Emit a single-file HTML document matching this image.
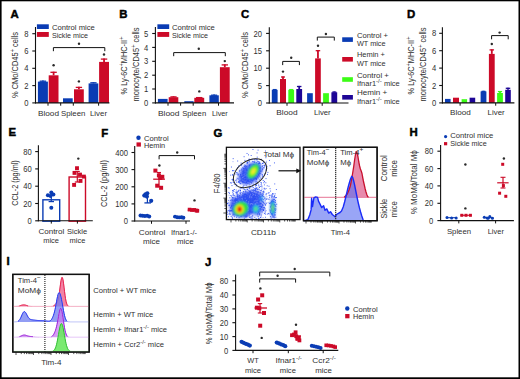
<!DOCTYPE html>
<html><head><meta charset="utf-8"><style>
html,body{margin:0;padding:0;background:#fff;}
body{width:520px;height:379px;overflow:hidden;}
svg{display:block;font-family:"Liberation Sans", sans-serif;}
</style></head><body>
<svg width="520" height="379" viewBox="0 0 520 379">
<rect x="0" y="0" width="520" height="379" fill="#fff"/>
<g fill="#303030">
<text x="10.60" y="17.80" font-size="11.4" font-weight="bold" fill="#000" stroke="#000" stroke-width="0.45">A</text>
<line x1="35.50" y1="27.00" x2="35.50" y2="103.40" stroke="#111" stroke-width="1.1"/>
<line x1="32.30" y1="102.90" x2="35.50" y2="102.90" stroke="#111" stroke-width="1.1"/>
<text x="28.40" y="106.00" font-size="8.8" text-anchor="end" textLength="4.25" lengthAdjust="spacingAndGlyphs">0</text>
<line x1="32.30" y1="85.60" x2="35.50" y2="85.60" stroke="#111" stroke-width="1.1"/>
<text x="28.40" y="88.70" font-size="8.8" text-anchor="end" textLength="4.25" lengthAdjust="spacingAndGlyphs">2</text>
<line x1="32.30" y1="68.30" x2="35.50" y2="68.30" stroke="#111" stroke-width="1.1"/>
<text x="28.40" y="71.40" font-size="8.8" text-anchor="end" textLength="4.25" lengthAdjust="spacingAndGlyphs">4</text>
<line x1="32.30" y1="51.00" x2="35.50" y2="51.00" stroke="#111" stroke-width="1.1"/>
<text x="28.40" y="54.10" font-size="8.8" text-anchor="end" textLength="4.25" lengthAdjust="spacingAndGlyphs">6</text>
<line x1="32.30" y1="33.70" x2="35.50" y2="33.70" stroke="#111" stroke-width="1.1"/>
<text x="28.40" y="36.80" font-size="8.8" text-anchor="end" textLength="4.25" lengthAdjust="spacingAndGlyphs">8</text>
<text transform="translate(18.30,65.00) rotate(-90)" x="0" y="0" font-size="8.7" text-anchor="middle" textLength="66.20" lengthAdjust="spacingAndGlyphs">% CMo/CD45<tspan font-size="6.6" dy="-2.9">+</tspan><tspan dy="2.9"> cells</tspan></text>
<rect x="36.90" y="24.30" width="11.90" height="4.70" fill="#0a3cb4"/>
<rect x="36.90" y="32.00" width="11.90" height="4.90" fill="#cc0a28"/>
<text x="51.90" y="29.90" font-size="7.9" textLength="42.90" lengthAdjust="spacingAndGlyphs">Control mice</text>
<text x="51.90" y="37.90" font-size="7.9" textLength="36.20" lengthAdjust="spacingAndGlyphs">Sickle mice</text>
<line x1="42.90" y1="81.60" x2="42.90" y2="80.60" stroke="#0a3cb4" stroke-width="1.8"/>
<line x1="39.65" y1="81.20" x2="46.15" y2="81.20" stroke="#0a3cb4" stroke-width="1.3"/>
<rect x="37.90" y="81.60" width="10.00" height="21.30" fill="#0a3cb4"/>
<line x1="53.60" y1="75.30" x2="53.60" y2="71.70" stroke="#cc0a28" stroke-width="1.8"/>
<line x1="50.41" y1="72.30" x2="56.79" y2="72.30" stroke="#cc0a28" stroke-width="1.3"/>
<rect x="48.70" y="75.30" width="9.80" height="27.60" fill="#cc0a28"/>
<circle cx="53.60" cy="65.20" r="1.2" fill="#2a2a2a"/>
<rect x="63.00" y="98.30" width="9.70" height="4.60" fill="#0a3cb4"/>
<line x1="78.90" y1="89.30" x2="78.90" y2="86.80" stroke="#cc0a28" stroke-width="1.8"/>
<line x1="75.72" y1="87.40" x2="82.09" y2="87.40" stroke="#cc0a28" stroke-width="1.3"/>
<rect x="74.00" y="89.30" width="9.80" height="13.60" fill="#cc0a28"/>
<circle cx="78.90" cy="81.40" r="1.2" fill="#2a2a2a"/>
<line x1="93.45" y1="83.40" x2="93.45" y2="82.20" stroke="#0a3cb4" stroke-width="1.8"/>
<line x1="90.30" y1="82.80" x2="96.60" y2="82.80" stroke="#0a3cb4" stroke-width="1.3"/>
<rect x="88.60" y="83.40" width="9.70" height="19.50" fill="#0a3cb4"/>
<line x1="104.05" y1="61.90" x2="104.05" y2="58.50" stroke="#cc0a28" stroke-width="1.8"/>
<line x1="100.83" y1="59.10" x2="107.27" y2="59.10" stroke="#cc0a28" stroke-width="1.3"/>
<rect x="99.10" y="61.90" width="9.90" height="41.00" fill="#cc0a28"/>
<circle cx="104.00" cy="54.50" r="1.2" fill="#2a2a2a"/>
<path d="M53.40,51.20 L53.40,47.60 L104.80,47.60 L104.80,51.20" fill="none" stroke="#111" stroke-width="1.0"/>
<circle cx="79.00" cy="43.80" r="1.2" fill="#2a2a2a"/>
<line x1="35.00" y1="102.90" x2="109.40" y2="102.90" stroke="#111" stroke-width="1.1"/>
<line x1="48.00" y1="102.90" x2="48.00" y2="105.70" stroke="#111" stroke-width="1.0"/>
<line x1="60.70" y1="102.90" x2="60.70" y2="105.70" stroke="#111" stroke-width="1.0"/>
<line x1="73.30" y1="102.90" x2="73.30" y2="105.70" stroke="#111" stroke-width="1.0"/>
<line x1="98.60" y1="102.90" x2="98.60" y2="105.70" stroke="#111" stroke-width="1.0"/>
<text x="37.90" y="115.80" font-size="7.9" textLength="21.10" lengthAdjust="spacingAndGlyphs">Blood</text>
<text x="61.00" y="115.80" font-size="7.9" textLength="24.40" lengthAdjust="spacingAndGlyphs">Spleen</text>
<text x="90.00" y="115.80" font-size="7.9" textLength="17.00" lengthAdjust="spacingAndGlyphs">Liver</text>
<text x="119.30" y="17.80" font-size="11.4" font-weight="bold" fill="#000" stroke="#000" stroke-width="0.45">B</text>
<line x1="155.40" y1="27.00" x2="155.40" y2="103.40" stroke="#111" stroke-width="1.1"/>
<line x1="152.20" y1="102.90" x2="155.40" y2="102.90" stroke="#111" stroke-width="1.1"/>
<text x="148.30" y="106.00" font-size="8.8" text-anchor="end" textLength="4.25" lengthAdjust="spacingAndGlyphs">0</text>
<line x1="152.20" y1="89.00" x2="155.40" y2="89.00" stroke="#111" stroke-width="1.1"/>
<text x="148.30" y="92.10" font-size="8.8" text-anchor="end" textLength="4.25" lengthAdjust="spacingAndGlyphs">1</text>
<line x1="152.20" y1="75.20" x2="155.40" y2="75.20" stroke="#111" stroke-width="1.1"/>
<text x="148.30" y="78.30" font-size="8.8" text-anchor="end" textLength="4.25" lengthAdjust="spacingAndGlyphs">2</text>
<line x1="152.20" y1="61.30" x2="155.40" y2="61.30" stroke="#111" stroke-width="1.1"/>
<text x="148.30" y="64.40" font-size="8.8" text-anchor="end" textLength="4.25" lengthAdjust="spacingAndGlyphs">3</text>
<line x1="152.20" y1="47.40" x2="155.40" y2="47.40" stroke="#111" stroke-width="1.1"/>
<text x="148.30" y="50.50" font-size="8.8" text-anchor="end" textLength="4.25" lengthAdjust="spacingAndGlyphs">4</text>
<line x1="152.20" y1="33.50" x2="155.40" y2="33.50" stroke="#111" stroke-width="1.1"/>
<text x="148.30" y="36.60" font-size="8.8" text-anchor="end" textLength="4.25" lengthAdjust="spacingAndGlyphs">5</text>
<text transform="translate(126.60,65.50) rotate(-90)" x="0" y="0" font-size="8.7" text-anchor="middle" textLength="57.80" lengthAdjust="spacingAndGlyphs">% Ly-6C<tspan font-size="6.6" dy="-2.9">+</tspan><tspan dy="2.9">MHC-II</tspan><tspan font-size="6.6" dy="-2.9">+</tspan></text>
<text transform="translate(138.50,64.50) rotate(-90)" x="0" y="0" font-size="8.7" text-anchor="middle" textLength="74.00" lengthAdjust="spacingAndGlyphs">monocyte/CD45<tspan font-size="6.6" dy="-2.9">+</tspan><tspan dy="2.9"> cells</tspan></text>
<rect x="157.40" y="24.30" width="11.80" height="4.70" fill="#0a3cb4"/>
<rect x="157.40" y="32.00" width="11.80" height="4.90" fill="#cc0a28"/>
<text x="171.90" y="29.90" font-size="7.9" textLength="42.90" lengthAdjust="spacingAndGlyphs">Control mice</text>
<text x="171.90" y="37.90" font-size="7.9" textLength="36.20" lengthAdjust="spacingAndGlyphs">Sickle mice</text>
<rect x="157.90" y="98.90" width="9.70" height="4.00" fill="#0a3cb4"/>
<line x1="173.50" y1="97.20" x2="173.50" y2="96.30" stroke="#cc0a28" stroke-width="1.8"/>
<line x1="170.38" y1="96.90" x2="176.62" y2="96.90" stroke="#cc0a28" stroke-width="1.3"/>
<rect x="168.70" y="97.20" width="9.60" height="5.70" fill="#cc0a28"/>
<rect x="184.30" y="101.20" width="9.30" height="1.70" fill="#0a3cb4"/>
<line x1="199.25" y1="97.80" x2="199.25" y2="97.00" stroke="#cc0a28" stroke-width="1.8"/>
<line x1="196.03" y1="97.60" x2="202.47" y2="97.60" stroke="#cc0a28" stroke-width="1.3"/>
<rect x="194.30" y="97.80" width="9.90" height="5.10" fill="#cc0a28"/>
<circle cx="199.30" cy="91.40" r="1.2" fill="#2a2a2a"/>
<line x1="214.10" y1="95.30" x2="214.10" y2="94.60" stroke="#0a3cb4" stroke-width="1.8"/>
<line x1="211.05" y1="95.20" x2="217.16" y2="95.20" stroke="#0a3cb4" stroke-width="1.3"/>
<rect x="209.40" y="95.30" width="9.40" height="7.60" fill="#0a3cb4"/>
<line x1="224.80" y1="67.20" x2="224.80" y2="64.30" stroke="#cc0a28" stroke-width="1.8"/>
<line x1="221.62" y1="64.90" x2="227.99" y2="64.90" stroke="#cc0a28" stroke-width="1.3"/>
<rect x="219.90" y="67.20" width="9.80" height="35.70" fill="#cc0a28"/>
<circle cx="224.80" cy="61.10" r="1.2" fill="#2a2a2a"/>
<path d="M173.70,56.20 L173.70,52.60 L225.30,52.60 L225.30,56.20" fill="none" stroke="#111" stroke-width="1.0"/>
<circle cx="198.80" cy="48.70" r="1.2" fill="#2a2a2a"/>
<line x1="155.00" y1="102.90" x2="234.00" y2="102.90" stroke="#111" stroke-width="1.1"/>
<line x1="168.00" y1="102.90" x2="168.00" y2="105.70" stroke="#111" stroke-width="1.0"/>
<line x1="180.60" y1="102.90" x2="180.60" y2="105.70" stroke="#111" stroke-width="1.0"/>
<line x1="193.20" y1="102.90" x2="193.20" y2="105.70" stroke="#111" stroke-width="1.0"/>
<line x1="218.50" y1="102.90" x2="218.50" y2="105.70" stroke="#111" stroke-width="1.0"/>
<text x="157.90" y="115.80" font-size="7.9" textLength="21.60" lengthAdjust="spacingAndGlyphs">Blood</text>
<text x="182.20" y="115.80" font-size="7.9" textLength="24.00" lengthAdjust="spacingAndGlyphs">Spleen</text>
<text x="212.00" y="115.80" font-size="7.9" textLength="15.80" lengthAdjust="spacingAndGlyphs">Liver</text>
<text x="240.90" y="18.00" font-size="11.4" font-weight="bold" fill="#000" stroke="#000" stroke-width="0.45">C</text>
<line x1="269.30" y1="27.30" x2="269.30" y2="103.50" stroke="#111" stroke-width="1.1"/>
<line x1="266.10" y1="103.00" x2="269.30" y2="103.00" stroke="#111" stroke-width="1.1"/>
<text x="262.00" y="106.10" font-size="8.8" text-anchor="end" textLength="4.25" lengthAdjust="spacingAndGlyphs">0</text>
<line x1="266.10" y1="85.60" x2="269.30" y2="85.60" stroke="#111" stroke-width="1.1"/>
<text x="262.00" y="88.70" font-size="8.8" text-anchor="end" textLength="4.25" lengthAdjust="spacingAndGlyphs">5</text>
<line x1="266.10" y1="68.20" x2="269.30" y2="68.20" stroke="#111" stroke-width="1.1"/>
<text x="262.00" y="71.30" font-size="8.8" text-anchor="end" textLength="8.50" lengthAdjust="spacingAndGlyphs">10</text>
<line x1="266.10" y1="50.80" x2="269.30" y2="50.80" stroke="#111" stroke-width="1.1"/>
<text x="262.00" y="53.90" font-size="8.8" text-anchor="end" textLength="8.50" lengthAdjust="spacingAndGlyphs">15</text>
<line x1="266.10" y1="33.40" x2="269.30" y2="33.40" stroke="#111" stroke-width="1.1"/>
<text x="262.00" y="36.50" font-size="8.8" text-anchor="end" textLength="8.50" lengthAdjust="spacingAndGlyphs">20</text>
<text transform="translate(248.10,65.00) rotate(-90)" x="0" y="0" font-size="8.7" text-anchor="middle" textLength="66.20" lengthAdjust="spacingAndGlyphs">% CMo/CD45<tspan font-size="6.6" dy="-2.9">+</tspan><tspan dy="2.9"> cells</tspan></text>
<line x1="274.70" y1="89.80" x2="274.70" y2="89.00" stroke="#0a3cb4" stroke-width="1.8"/>
<line x1="272.70" y1="89.60" x2="276.70" y2="89.60" stroke="#0a3cb4" stroke-width="1.3"/>
<rect x="271.80" y="89.80" width="5.80" height="13.20" fill="#0a3cb4"/>
<line x1="283.00" y1="79.00" x2="283.00" y2="76.40" stroke="#cc0a28" stroke-width="1.8"/>
<line x1="281.00" y1="77.00" x2="285.00" y2="77.00" stroke="#cc0a28" stroke-width="1.3"/>
<rect x="280.00" y="79.00" width="6.00" height="24.00" fill="#cc0a28"/>
<circle cx="283.00" cy="71.60" r="1.2" fill="#2a2a2a"/>
<line x1="291.20" y1="89.80" x2="291.20" y2="89.00" stroke="#3cfc16" stroke-width="1.8"/>
<line x1="289.20" y1="89.60" x2="293.20" y2="89.60" stroke="#3cfc16" stroke-width="1.3"/>
<rect x="288.30" y="89.80" width="5.80" height="13.20" fill="#3cfc16"/>
<line x1="299.20" y1="89.00" x2="299.20" y2="85.90" stroke="#1e0696" stroke-width="1.8"/>
<line x1="296.95" y1="86.50" x2="301.45" y2="86.50" stroke="#1e0696" stroke-width="1.3"/>
<rect x="296.30" y="89.00" width="5.80" height="14.00" fill="#1e0696"/>
<path d="M282.70,65.10 L282.70,61.40 L299.40,61.40 L299.40,65.10" fill="none" stroke="#111" stroke-width="1.0"/>
<circle cx="291.20" cy="57.70" r="1.2" fill="#2a2a2a"/>
<rect x="307.10" y="93.20" width="5.70" height="9.80" fill="#0a3cb4"/>
<line x1="317.95" y1="58.40" x2="317.95" y2="50.10" stroke="#cc0a28" stroke-width="1.8"/>
<line x1="315.70" y1="50.70" x2="320.20" y2="50.70" stroke="#cc0a28" stroke-width="1.3"/>
<rect x="315.10" y="58.40" width="5.70" height="44.60" fill="#cc0a28"/>
<circle cx="318.00" cy="45.80" r="1.2" fill="#2a2a2a"/>
<rect x="323.10" y="93.20" width="5.80" height="9.80" fill="#3cfc16"/>
<line x1="334.30" y1="92.30" x2="334.30" y2="91.50" stroke="#1e0696" stroke-width="1.8"/>
<line x1="332.30" y1="92.10" x2="336.30" y2="92.10" stroke="#1e0696" stroke-width="1.3"/>
<rect x="331.40" y="92.30" width="5.80" height="10.70" fill="#1e0696"/>
<path d="M317.30,40.60 L317.30,37.10 L334.30,37.10 L334.30,40.60" fill="none" stroke="#111" stroke-width="1.0"/>
<circle cx="325.90" cy="34.00" r="1.2" fill="#2a2a2a"/>
<line x1="268.80" y1="103.00" x2="348.50" y2="103.00" stroke="#111" stroke-width="1.1"/>
<line x1="287.00" y1="103.00" x2="287.00" y2="105.80" stroke="#111" stroke-width="1.0"/>
<line x1="322.20" y1="103.00" x2="322.20" y2="105.80" stroke="#111" stroke-width="1.0"/>
<text x="276.30" y="115.40" font-size="7.9" textLength="21.30" lengthAdjust="spacingAndGlyphs">Blood</text>
<text x="313.90" y="115.40" font-size="7.9" textLength="16.80" lengthAdjust="spacingAndGlyphs">Liver</text>
<rect x="342.20" y="37.30" width="10.70" height="4.60" fill="#0a3cb4"/>
<rect x="342.20" y="57.00" width="10.70" height="4.60" fill="#cc0a28"/>
<rect x="342.20" y="77.20" width="10.70" height="4.60" fill="#3cfc16"/>
<rect x="342.20" y="95.00" width="10.70" height="4.60" fill="#1e0696"/>
<text x="356.90" y="37.80" font-size="7.4" textLength="31.20" lengthAdjust="spacingAndGlyphs">Control +</text>
<text x="356.90" y="45.90" font-size="7.4" textLength="28.70" lengthAdjust="spacingAndGlyphs">WT mice</text>
<text x="356.90" y="57.40" font-size="7.4" textLength="28.10" lengthAdjust="spacingAndGlyphs">Hemin +</text>
<text x="356.90" y="65.90" font-size="7.4" textLength="28.70" lengthAdjust="spacingAndGlyphs">WT mice</text>
<text x="356.90" y="77.80" font-size="7.4" textLength="32.00" lengthAdjust="spacingAndGlyphs">Control +</text>
<text x="356.90" y="86.15" font-size="7.4" textLength="42.90" lengthAdjust="spacingAndGlyphs">Ifnar1<tspan font-size="6.0" dy="-3.0">-/-</tspan><tspan dy="3.0"> mice</tspan></text>
<text x="356.90" y="94.90" font-size="7.4" textLength="30.30" lengthAdjust="spacingAndGlyphs">Hemin +</text>
<text x="356.90" y="103.65" font-size="7.4" textLength="42.90" lengthAdjust="spacingAndGlyphs">Ifnar1<tspan font-size="6.0" dy="-3.0">-/-</tspan><tspan dy="3.0"> mice</tspan></text>
<text x="406.90" y="17.80" font-size="11.4" font-weight="bold" fill="#000" stroke="#000" stroke-width="0.45">D</text>
<line x1="442.40" y1="27.20" x2="442.40" y2="103.40" stroke="#111" stroke-width="1.1"/>
<line x1="439.20" y1="102.90" x2="442.40" y2="102.90" stroke="#111" stroke-width="1.1"/>
<text x="436.30" y="106.00" font-size="8.8" text-anchor="end" textLength="4.25" lengthAdjust="spacingAndGlyphs">0</text>
<line x1="439.20" y1="85.50" x2="442.40" y2="85.50" stroke="#111" stroke-width="1.1"/>
<text x="436.30" y="88.60" font-size="8.8" text-anchor="end" textLength="4.25" lengthAdjust="spacingAndGlyphs">2</text>
<line x1="439.20" y1="68.10" x2="442.40" y2="68.10" stroke="#111" stroke-width="1.1"/>
<text x="436.30" y="71.20" font-size="8.8" text-anchor="end" textLength="4.25" lengthAdjust="spacingAndGlyphs">4</text>
<line x1="439.20" y1="50.70" x2="442.40" y2="50.70" stroke="#111" stroke-width="1.1"/>
<text x="436.30" y="53.80" font-size="8.8" text-anchor="end" textLength="4.25" lengthAdjust="spacingAndGlyphs">6</text>
<line x1="439.20" y1="33.30" x2="442.40" y2="33.30" stroke="#111" stroke-width="1.1"/>
<text x="436.30" y="36.40" font-size="8.8" text-anchor="end" textLength="4.25" lengthAdjust="spacingAndGlyphs">8</text>
<text transform="translate(413.60,65.50) rotate(-90)" x="0" y="0" font-size="8.7" text-anchor="middle" textLength="57.80" lengthAdjust="spacingAndGlyphs">% Ly-6C<tspan font-size="6.6" dy="-2.9">+</tspan><tspan dy="2.9">MHC-II</tspan><tspan font-size="6.6" dy="-2.9">+</tspan></text>
<text transform="translate(425.50,64.50) rotate(-90)" x="0" y="0" font-size="8.7" text-anchor="middle" textLength="74.00" lengthAdjust="spacingAndGlyphs">monocyte/CD45<tspan font-size="6.6" dy="-2.9">+</tspan><tspan dy="2.9"> cells</tspan></text>
<rect x="445.00" y="98.90" width="5.60" height="4.00" fill="#0a3cb4"/>
<rect x="453.00" y="97.70" width="6.00" height="5.20" fill="#cc0a28"/>
<rect x="461.60" y="99.20" width="5.50" height="3.70" fill="#3cfc16"/>
<rect x="469.60" y="97.70" width="5.60" height="5.20" fill="#1e0696"/>
<line x1="483.50" y1="91.40" x2="483.50" y2="90.80" stroke="#0a3cb4" stroke-width="1.8"/>
<line x1="481.50" y1="91.40" x2="485.50" y2="91.40" stroke="#0a3cb4" stroke-width="1.3"/>
<rect x="480.60" y="91.40" width="5.80" height="11.50" fill="#0a3cb4"/>
<line x1="491.80" y1="53.90" x2="491.80" y2="49.30" stroke="#cc0a28" stroke-width="1.8"/>
<line x1="489.55" y1="49.90" x2="494.05" y2="49.90" stroke="#cc0a28" stroke-width="1.3"/>
<rect x="488.90" y="53.90" width="5.80" height="49.00" fill="#cc0a28"/>
<circle cx="491.80" cy="44.00" r="1.2" fill="#2a2a2a"/>
<line x1="500.00" y1="93.00" x2="500.00" y2="91.00" stroke="#3cfc16" stroke-width="1.8"/>
<line x1="497.90" y1="91.60" x2="502.10" y2="91.60" stroke="#3cfc16" stroke-width="1.3"/>
<rect x="497.10" y="93.00" width="5.80" height="9.90" fill="#3cfc16"/>
<line x1="508.00" y1="89.80" x2="508.00" y2="87.70" stroke="#1e0696" stroke-width="1.8"/>
<line x1="505.75" y1="88.30" x2="510.25" y2="88.30" stroke="#1e0696" stroke-width="1.3"/>
<rect x="505.20" y="89.80" width="5.60" height="13.10" fill="#1e0696"/>
<path d="M491.60,39.30 L491.60,35.60 L508.20,35.60 L508.20,39.30" fill="none" stroke="#111" stroke-width="1.0"/>
<circle cx="499.60" cy="32.60" r="1.2" fill="#2a2a2a"/>
<line x1="442.00" y1="102.90" x2="514.40" y2="102.90" stroke="#111" stroke-width="1.1"/>
<line x1="460.10" y1="102.90" x2="460.10" y2="105.70" stroke="#111" stroke-width="1.0"/>
<line x1="495.70" y1="102.90" x2="495.70" y2="105.70" stroke="#111" stroke-width="1.0"/>
<text x="450.00" y="115.40" font-size="7.9" textLength="20.80" lengthAdjust="spacingAndGlyphs">Blood</text>
<text x="487.60" y="115.40" font-size="7.9" textLength="17.10" lengthAdjust="spacingAndGlyphs">Liver</text>
<text x="8.60" y="136.20" font-size="11.4" font-weight="bold" fill="#000" stroke="#000" stroke-width="0.45">E</text>
<line x1="38.40" y1="145.30" x2="38.40" y2="221.30" stroke="#111" stroke-width="1.1"/>
<line x1="35.20" y1="220.80" x2="38.40" y2="220.80" stroke="#111" stroke-width="1.1"/>
<text x="31.70" y="223.90" font-size="8.8" text-anchor="end" textLength="4.25" lengthAdjust="spacingAndGlyphs">0</text>
<line x1="35.20" y1="203.50" x2="38.40" y2="203.50" stroke="#111" stroke-width="1.1"/>
<text x="31.70" y="206.60" font-size="8.8" text-anchor="end" textLength="8.50" lengthAdjust="spacingAndGlyphs">20</text>
<line x1="35.20" y1="186.20" x2="38.40" y2="186.20" stroke="#111" stroke-width="1.1"/>
<text x="31.70" y="189.30" font-size="8.8" text-anchor="end" textLength="8.50" lengthAdjust="spacingAndGlyphs">40</text>
<line x1="35.20" y1="168.90" x2="38.40" y2="168.90" stroke="#111" stroke-width="1.1"/>
<text x="31.70" y="172.00" font-size="8.8" text-anchor="end" textLength="8.50" lengthAdjust="spacingAndGlyphs">60</text>
<line x1="35.20" y1="151.60" x2="38.40" y2="151.60" stroke="#111" stroke-width="1.1"/>
<text x="31.70" y="154.70" font-size="8.8" text-anchor="end" textLength="8.50" lengthAdjust="spacingAndGlyphs">80</text>
<text transform="translate(17.60,183.00) rotate(-90)" x="0" y="0" font-size="8.7" text-anchor="middle" textLength="45.30" lengthAdjust="spacingAndGlyphs">CCL-2 (pg/ml)</text>
<rect x="42.9" y="199.8" width="16.8" height="21.4" fill="none" stroke="#0a3cb4" stroke-width="1.4"/>
<rect x="69.1" y="177.0" width="16.4" height="44.2" fill="none" stroke="#cc0a28" stroke-width="1.4"/>
<line x1="51.30" y1="192.00" x2="51.30" y2="201.60" stroke="#0a3cb4" stroke-width="1.2"/>
<line x1="48.60" y1="201.60" x2="54.00" y2="201.60" stroke="#0a3cb4" stroke-width="1.2"/>
<line x1="77.30" y1="171.50" x2="77.30" y2="182.00" stroke="#cc0a28" stroke-width="1.2"/>
<line x1="74.80" y1="171.50" x2="79.80" y2="171.50" stroke="#cc0a28" stroke-width="1.2"/>
<line x1="74.80" y1="182.00" x2="79.80" y2="182.00" stroke="#cc0a28" stroke-width="1.2"/>
<circle cx="47.9" cy="195.2" r="2.0" fill="#0a3cb4"/>
<circle cx="51.3" cy="192.6" r="2.0" fill="#0a3cb4"/>
<circle cx="53.4" cy="194.6" r="2.0" fill="#0a3cb4"/>
<circle cx="50.5" cy="196.0" r="2.0" fill="#0a3cb4"/>
<circle cx="51.3" cy="207.7" r="2.0" fill="#0a3cb4"/>
<rect x="75.05" y="166.25" width="3.9" height="3.9" fill="#cc0a28"/>
<rect x="72.55" y="170.95" width="3.9" height="3.9" fill="#cc0a28"/>
<rect x="78.05" y="172.65" width="3.9" height="3.9" fill="#cc0a28"/>
<rect x="81.95" y="174.65" width="3.9" height="3.9" fill="#cc0a28"/>
<rect x="78.55" y="178.95" width="3.9" height="3.9" fill="#cc0a28"/>
<rect x="72.15" y="182.95" width="3.9" height="3.9" fill="#cc0a28"/>
<circle cx="78.30" cy="158.60" r="1.2" fill="#2a2a2a"/>
<line x1="38.00" y1="220.80" x2="92.80" y2="220.80" stroke="#111" stroke-width="1.1"/>
<line x1="51.30" y1="220.80" x2="51.30" y2="223.60" stroke="#111" stroke-width="1.0"/>
<line x1="77.40" y1="220.80" x2="77.40" y2="223.60" stroke="#111" stroke-width="1.0"/>
<text x="38.40" y="233.90" font-size="7.9" textLength="25.90" lengthAdjust="spacingAndGlyphs">Control</text>
<text x="43.20" y="243.40" font-size="7.9" textLength="15.80" lengthAdjust="spacingAndGlyphs">mice</text>
<text x="67.00" y="233.90" font-size="7.9" textLength="20.10" lengthAdjust="spacingAndGlyphs">Sickle</text>
<text x="69.60" y="243.40" font-size="7.9" textLength="15.80" lengthAdjust="spacingAndGlyphs">mice</text>
<text x="101.20" y="136.70" font-size="11.4" font-weight="bold" fill="#000" stroke="#000" stroke-width="0.45">F</text>
<line x1="134.70" y1="146.10" x2="134.70" y2="221.50" stroke="#111" stroke-width="1.1"/>
<line x1="131.50" y1="221.00" x2="134.70" y2="221.00" stroke="#111" stroke-width="1.1"/>
<text x="128.10" y="224.10" font-size="8.8" text-anchor="end" textLength="4.25" lengthAdjust="spacingAndGlyphs">0</text>
<line x1="131.50" y1="203.90" x2="134.70" y2="203.90" stroke="#111" stroke-width="1.1"/>
<text x="128.10" y="207.00" font-size="8.8" text-anchor="end" textLength="12.75" lengthAdjust="spacingAndGlyphs">100</text>
<line x1="131.50" y1="186.80" x2="134.70" y2="186.80" stroke="#111" stroke-width="1.1"/>
<text x="128.10" y="189.90" font-size="8.8" text-anchor="end" textLength="12.75" lengthAdjust="spacingAndGlyphs">200</text>
<line x1="131.50" y1="169.60" x2="134.70" y2="169.60" stroke="#111" stroke-width="1.1"/>
<text x="128.10" y="172.70" font-size="8.8" text-anchor="end" textLength="12.75" lengthAdjust="spacingAndGlyphs">300</text>
<line x1="131.50" y1="152.50" x2="134.70" y2="152.50" stroke="#111" stroke-width="1.1"/>
<text x="128.10" y="155.60" font-size="8.8" text-anchor="end" textLength="12.75" lengthAdjust="spacingAndGlyphs">400</text>
<text transform="translate(107.30,183.60) rotate(-90)" x="0" y="0" font-size="8.7" text-anchor="middle" textLength="47.00" lengthAdjust="spacingAndGlyphs">CCL-2 (pg/ml)</text>
<circle cx="138.5" cy="137.7" r="2.2" fill="#0a3cb4"/>
<rect x="136.50" y="142.40" width="4.40" height="4.20" fill="#cc0a28"/>
<text x="144.00" y="140.50" font-size="7.9" textLength="24.60" lengthAdjust="spacingAndGlyphs">Control</text>
<text x="144.00" y="147.60" font-size="7.9" textLength="21.20" lengthAdjust="spacingAndGlyphs">Hemin</text>
<line x1="139.00" y1="215.70" x2="150.50" y2="215.70" stroke="#0a3cb4" stroke-width="1.2"/>
<circle cx="140.50" cy="215.40" r="2.0" fill="#0a3cb4"/>
<circle cx="142.60" cy="215.80" r="2.0" fill="#0a3cb4"/>
<circle cx="144.90" cy="216.00" r="2.0" fill="#0a3cb4"/>
<circle cx="147.20" cy="215.80" r="2.0" fill="#0a3cb4"/>
<circle cx="149.20" cy="216.40" r="2.0" fill="#0a3cb4"/>
<line x1="147.40" y1="193.50" x2="147.40" y2="202.90" stroke="#0a3cb4" stroke-width="1.2"/>
<line x1="144.40" y1="202.90" x2="151.00" y2="202.90" stroke="#0a3cb4" stroke-width="1.3"/>
<circle cx="144.30" cy="195.60" r="2.1" fill="#0a3cb4"/>
<circle cx="147.30" cy="193.30" r="2.1" fill="#0a3cb4"/>
<circle cx="146.90" cy="196.60" r="2.1" fill="#0a3cb4"/>
<circle cx="151.20" cy="200.80" r="2.1" fill="#0a3cb4"/>
<circle cx="145.50" cy="194.30" r="2.1" fill="#0a3cb4"/>
<line x1="159.00" y1="172.50" x2="159.00" y2="186.50" stroke="#cc0a28" stroke-width="1.2"/>
<line x1="153.20" y1="179.20" x2="164.90" y2="179.20" stroke="#cc0a28" stroke-width="1.3"/>
<line x1="157.00" y1="172.50" x2="161.00" y2="172.50" stroke="#cc0a28" stroke-width="1.1"/>
<line x1="157.00" y1="186.50" x2="161.00" y2="186.50" stroke="#cc0a28" stroke-width="1.1"/>
<rect x="153.40" y="168.60" width="4.0" height="4.0" fill="#cc0a28"/>
<rect x="156.90" y="173.40" width="4.0" height="4.0" fill="#cc0a28"/>
<rect x="160.30" y="174.80" width="4.0" height="4.0" fill="#cc0a28"/>
<rect x="155.20" y="183.70" width="4.0" height="4.0" fill="#cc0a28"/>
<rect x="159.10" y="185.80" width="4.0" height="4.0" fill="#cc0a28"/>
<rect x="158.30" y="176.00" width="4.0" height="4.0" fill="#cc0a28"/>
<circle cx="159.40" cy="165.50" r="1.2" fill="#2a2a2a"/>
<line x1="173.40" y1="217.10" x2="185.00" y2="217.10" stroke="#0a3cb4" stroke-width="1.2"/>
<circle cx="175.00" cy="216.60" r="1.95" fill="#0a3cb4"/>
<circle cx="177.20" cy="217.20" r="1.95" fill="#0a3cb4"/>
<circle cx="179.40" cy="217.40" r="1.95" fill="#0a3cb4"/>
<circle cx="181.60" cy="217.20" r="1.95" fill="#0a3cb4"/>
<circle cx="183.40" cy="217.70" r="1.95" fill="#0a3cb4"/>
<line x1="187.70" y1="210.20" x2="199.10" y2="210.20" stroke="#cc0a28" stroke-width="1.2"/>
<rect x="187.75" y="207.75" width="3.7" height="3.7" fill="#cc0a28"/>
<rect x="190.15" y="208.15" width="3.7" height="3.7" fill="#cc0a28"/>
<rect x="192.45" y="208.05" width="3.7" height="3.7" fill="#cc0a28"/>
<rect x="194.55" y="208.65" width="3.7" height="3.7" fill="#cc0a28"/>
<rect x="195.45" y="208.95" width="3.7" height="3.7" fill="#cc0a28"/>
<circle cx="194.50" cy="200.40" r="1.2" fill="#2a2a2a"/>
<path d="M159.10,159.30 L159.10,155.60 L194.50,155.60 L194.50,159.30" fill="none" stroke="#111" stroke-width="1.0"/>
<circle cx="177.20" cy="152.50" r="1.2" fill="#2a2a2a"/>
<line x1="134.30" y1="221.00" x2="190.00" y2="221.00" stroke="#111" stroke-width="1.1"/>
<line x1="151.50" y1="221.00" x2="151.50" y2="223.80" stroke="#111" stroke-width="1.0"/>
<line x1="186.00" y1="221.00" x2="186.00" y2="223.80" stroke="#111" stroke-width="1.0"/>
<text x="138.80" y="234.60" font-size="7.9" textLength="26.40" lengthAdjust="spacingAndGlyphs">Control</text>
<text x="143.00" y="243.90" font-size="7.9" textLength="17.00" lengthAdjust="spacingAndGlyphs">mice</text>
<text x="171.00" y="234.60" font-size="7.9" textLength="26.00" lengthAdjust="spacingAndGlyphs">Ifnar1-/-</text>
<text x="177.00" y="243.90" font-size="7.9" textLength="16.60" lengthAdjust="spacingAndGlyphs">mice</text>
<text x="409.40" y="135.90" font-size="11.4" font-weight="bold" fill="#000" stroke="#000" stroke-width="0.45">H</text>
<line x1="440.60" y1="145.00" x2="440.60" y2="221.10" stroke="#111" stroke-width="1.1"/>
<line x1="437.40" y1="220.60" x2="440.60" y2="220.60" stroke="#111" stroke-width="1.1"/>
<text x="433.20" y="223.70" font-size="8.8" text-anchor="end" textLength="4.25" lengthAdjust="spacingAndGlyphs">0</text>
<line x1="437.40" y1="203.30" x2="440.60" y2="203.30" stroke="#111" stroke-width="1.1"/>
<text x="433.20" y="206.40" font-size="8.8" text-anchor="end" textLength="8.50" lengthAdjust="spacingAndGlyphs">20</text>
<line x1="437.40" y1="185.90" x2="440.60" y2="185.90" stroke="#111" stroke-width="1.1"/>
<text x="433.20" y="189.00" font-size="8.8" text-anchor="end" textLength="8.50" lengthAdjust="spacingAndGlyphs">40</text>
<line x1="437.40" y1="168.60" x2="440.60" y2="168.60" stroke="#111" stroke-width="1.1"/>
<text x="433.20" y="171.70" font-size="8.8" text-anchor="end" textLength="8.50" lengthAdjust="spacingAndGlyphs">60</text>
<line x1="437.40" y1="151.20" x2="440.60" y2="151.20" stroke="#111" stroke-width="1.1"/>
<text x="433.20" y="154.30" font-size="8.8" text-anchor="end" textLength="8.50" lengthAdjust="spacingAndGlyphs">80</text>
<text transform="translate(416.70,182.20) rotate(-90)" x="0" y="0" font-size="8.7" text-anchor="middle" textLength="64.00" lengthAdjust="spacingAndGlyphs">% MoM&#981;/Total M&#981;</text>
<circle cx="445.6" cy="136.6" r="1.6" fill="#0a3cb4"/>
<rect x="444.00" y="142.10" width="3.20" height="3.20" fill="#cc0a28"/>
<text x="450.30" y="138.40" font-size="7.3" textLength="43.00" lengthAdjust="spacingAndGlyphs">Control mice</text>
<text x="450.30" y="145.60" font-size="7.3" textLength="36.40" lengthAdjust="spacingAndGlyphs">Sickle mice</text>
<line x1="446.00" y1="217.70" x2="457.00" y2="217.70" stroke="#0a3cb4" stroke-width="1.1"/>
<circle cx="447.00" cy="217.60" r="1.5" fill="#0a3cb4"/>
<circle cx="451.60" cy="217.90" r="1.5" fill="#0a3cb4"/>
<circle cx="456.20" cy="217.90" r="1.5" fill="#0a3cb4"/>
<line x1="460.50" y1="215.30" x2="471.50" y2="215.30" stroke="#cc0a28" stroke-width="1.1"/>
<rect x="460.30" y="213.80" width="3.0" height="3.0" fill="#cc0a28"/>
<rect x="464.50" y="213.80" width="3.0" height="3.0" fill="#cc0a28"/>
<rect x="468.90" y="213.80" width="3.0" height="3.0" fill="#cc0a28"/>
<circle cx="465.40" cy="164.50" r="1.2" fill="#2a2a2a"/>
<circle cx="465.40" cy="208.40" r="1.2" fill="#2a2a2a"/>
<line x1="483.50" y1="217.60" x2="493.50" y2="217.60" stroke="#0a3cb4" stroke-width="1.1"/>
<circle cx="484.30" cy="217.30" r="1.5" fill="#0a3cb4"/>
<circle cx="487.00" cy="217.90" r="1.5" fill="#0a3cb4"/>
<circle cx="489.80" cy="216.50" r="1.5" fill="#0a3cb4"/>
<circle cx="492.40" cy="218.30" r="1.5" fill="#0a3cb4"/>
<circle cx="488.20" cy="218.20" r="1.5" fill="#0a3cb4"/>
<line x1="497.20" y1="182.80" x2="508.60" y2="182.80" stroke="#cc0a28" stroke-width="1.2"/>
<line x1="503.00" y1="177.30" x2="503.00" y2="188.00" stroke="#cc0a28" stroke-width="1.2"/>
<line x1="500.50" y1="177.30" x2="505.50" y2="177.30" stroke="#cc0a28" stroke-width="1.1"/>
<line x1="500.50" y1="188.00" x2="505.50" y2="188.00" stroke="#cc0a28" stroke-width="1.1"/>
<rect x="501.20" y="162.80" width="3.0" height="3.0" fill="#cc0a28"/>
<rect x="501.90" y="184.10" width="3.0" height="3.0" fill="#cc0a28"/>
<rect x="498.10" y="191.70" width="3.0" height="3.0" fill="#cc0a28"/>
<rect x="504.30" y="194.80" width="3.0" height="3.0" fill="#cc0a28"/>
<circle cx="503.90" cy="158.50" r="1.2" fill="#2a2a2a"/>
<line x1="440.20" y1="220.60" x2="513.90" y2="220.60" stroke="#111" stroke-width="1.1"/>
<line x1="458.80" y1="220.60" x2="458.80" y2="223.40" stroke="#111" stroke-width="1.0"/>
<line x1="495.60" y1="220.60" x2="495.60" y2="223.40" stroke="#111" stroke-width="1.0"/>
<text x="446.90" y="233.70" font-size="7.9" textLength="24.20" lengthAdjust="spacingAndGlyphs">Spleen</text>
<text x="487.70" y="233.70" font-size="7.9" textLength="16.20" lengthAdjust="spacingAndGlyphs">Liver</text>
<text x="205.00" y="265.90" font-size="11.4" font-weight="bold" fill="#000" stroke="#000" stroke-width="0.45">J</text>
<line x1="235.60" y1="274.50" x2="235.60" y2="350.90" stroke="#111" stroke-width="1.1"/>
<line x1="232.40" y1="350.40" x2="235.60" y2="350.40" stroke="#111" stroke-width="1.1"/>
<text x="228.30" y="353.50" font-size="8.8" text-anchor="end" textLength="4.25" lengthAdjust="spacingAndGlyphs">0</text>
<line x1="232.40" y1="336.60" x2="235.60" y2="336.60" stroke="#111" stroke-width="1.1"/>
<text x="228.30" y="339.70" font-size="8.8" text-anchor="end" textLength="8.50" lengthAdjust="spacingAndGlyphs">10</text>
<line x1="232.40" y1="322.70" x2="235.60" y2="322.70" stroke="#111" stroke-width="1.1"/>
<text x="228.30" y="325.80" font-size="8.8" text-anchor="end" textLength="8.50" lengthAdjust="spacingAndGlyphs">20</text>
<line x1="232.40" y1="308.90" x2="235.60" y2="308.90" stroke="#111" stroke-width="1.1"/>
<text x="228.30" y="312.00" font-size="8.8" text-anchor="end" textLength="8.50" lengthAdjust="spacingAndGlyphs">30</text>
<line x1="232.40" y1="295.00" x2="235.60" y2="295.00" stroke="#111" stroke-width="1.1"/>
<text x="228.30" y="298.10" font-size="8.8" text-anchor="end" textLength="8.50" lengthAdjust="spacingAndGlyphs">40</text>
<line x1="232.40" y1="280.80" x2="235.60" y2="280.80" stroke="#111" stroke-width="1.1"/>
<text x="228.30" y="283.90" font-size="8.8" text-anchor="end" textLength="8.50" lengthAdjust="spacingAndGlyphs">80</text>
<text transform="translate(211.70,313.30) rotate(-90)" x="0" y="0" font-size="8.7" text-anchor="middle" textLength="61.80" lengthAdjust="spacingAndGlyphs">% MoM&#981;/Total M&#981;</text>
<circle cx="241.60" cy="341.80" r="2.15" fill="#0a3cb4"/>
<circle cx="243.60" cy="342.80" r="2.15" fill="#0a3cb4"/>
<circle cx="245.80" cy="343.80" r="2.15" fill="#0a3cb4"/>
<circle cx="247.90" cy="344.60" r="2.15" fill="#0a3cb4"/>
<circle cx="249.80" cy="345.60" r="2.15" fill="#0a3cb4"/>
<line x1="254.60" y1="308.00" x2="267.00" y2="308.00" stroke="#cc0a28" stroke-width="1.3"/>
<line x1="260.00" y1="303.60" x2="260.00" y2="313.00" stroke="#cc0a28" stroke-width="1.2"/>
<line x1="257.80" y1="303.60" x2="262.20" y2="303.60" stroke="#cc0a28" stroke-width="1.1"/>
<line x1="257.80" y1="313.00" x2="262.20" y2="313.00" stroke="#cc0a28" stroke-width="1.1"/>
<rect x="260.20" y="293.30" width="4.0" height="4.0" fill="#cc0a28"/>
<rect x="256.10" y="297.50" width="4.0" height="4.0" fill="#cc0a28"/>
<rect x="254.90" y="305.70" width="4.0" height="4.0" fill="#cc0a28"/>
<rect x="257.30" y="306.20" width="4.0" height="4.0" fill="#cc0a28"/>
<rect x="262.00" y="311.00" width="4.0" height="4.0" fill="#cc0a28"/>
<rect x="258.20" y="323.70" width="4.0" height="4.0" fill="#cc0a28"/>
<circle cx="260.40" cy="288.40" r="1.2" fill="#2a2a2a"/>
<circle cx="261.70" cy="337.90" r="1.2" fill="#2a2a2a"/>
<circle cx="276.80" cy="342.60" r="2.15" fill="#0a3cb4"/>
<circle cx="278.90" cy="343.30" r="2.15" fill="#0a3cb4"/>
<circle cx="281.00" cy="344.30" r="2.15" fill="#0a3cb4"/>
<circle cx="283.20" cy="345.10" r="2.15" fill="#0a3cb4"/>
<circle cx="285.20" cy="346.20" r="2.15" fill="#0a3cb4"/>
<line x1="290.50" y1="336.00" x2="301.00" y2="336.00" stroke="#cc0a28" stroke-width="1.2"/>
<line x1="296.00" y1="331.00" x2="296.00" y2="340.50" stroke="#cc0a28" stroke-width="1.2"/>
<rect x="293.70" y="330.40" width="3.8" height="3.8" fill="#cc0a28"/>
<rect x="290.10" y="333.30" width="3.8" height="3.8" fill="#cc0a28"/>
<rect x="294.30" y="334.30" width="3.8" height="3.8" fill="#cc0a28"/>
<rect x="297.00" y="335.60" width="3.8" height="3.8" fill="#cc0a28"/>
<rect x="297.50" y="338.50" width="3.8" height="3.8" fill="#cc0a28"/>
<rect x="295.70" y="337.00" width="3.8" height="3.8" fill="#cc0a28"/>
<rect x="292.10" y="332.60" width="3.8" height="3.8" fill="#cc0a28"/>
<circle cx="296.00" cy="324.70" r="1.2" fill="#2a2a2a"/>
<circle cx="311.80" cy="345.80" r="2.0" fill="#0a3cb4"/>
<circle cx="314.00" cy="346.20" r="2.0" fill="#0a3cb4"/>
<circle cx="316.20" cy="346.70" r="2.0" fill="#0a3cb4"/>
<circle cx="318.40" cy="347.20" r="2.0" fill="#0a3cb4"/>
<circle cx="320.60" cy="347.90" r="2.0" fill="#0a3cb4"/>
<rect x="324.40" y="343.50" width="3.6" height="3.6" fill="#cc0a28"/>
<rect x="326.80" y="343.70" width="3.6" height="3.6" fill="#cc0a28"/>
<rect x="329.20" y="344.10" width="3.6" height="3.6" fill="#cc0a28"/>
<rect x="331.60" y="344.60" width="3.6" height="3.6" fill="#cc0a28"/>
<rect x="333.40" y="345.30" width="3.6" height="3.6" fill="#cc0a28"/>
<path d="M259.70,282.60 L259.70,278.90 L295.60,278.90 L295.60,282.60" fill="none" stroke="#111" stroke-width="1.0"/>
<circle cx="277.60" cy="275.70" r="1.2" fill="#2a2a2a"/>
<path d="M259.70,276.40 L259.70,272.10 L329.80,272.10 L329.80,276.40" fill="none" stroke="#111" stroke-width="1.0"/>
<circle cx="294.70" cy="269.00" r="1.2" fill="#2a2a2a"/>
<line x1="235.20" y1="350.40" x2="338.30" y2="350.40" stroke="#111" stroke-width="1.1"/>
<line x1="253.00" y1="350.40" x2="253.00" y2="353.20" stroke="#111" stroke-width="1.0"/>
<line x1="288.30" y1="350.40" x2="288.30" y2="353.20" stroke="#111" stroke-width="1.0"/>
<line x1="323.20" y1="350.40" x2="323.20" y2="353.20" stroke="#111" stroke-width="1.0"/>
<text x="247.30" y="363.40" font-size="7.9" textLength="11.50" lengthAdjust="spacingAndGlyphs">WT</text>
<text x="245.00" y="372.70" font-size="7.9" textLength="16.00" lengthAdjust="spacingAndGlyphs">mice</text>
<text x="275.40" y="363.40" font-size="7.9" textLength="26.50" lengthAdjust="spacingAndGlyphs">Ifnar1<tspan font-size="6.0" dy="-3.0">-/-</tspan><tspan dy="3.0"></tspan></text>
<text x="279.80" y="372.70" font-size="7.9" textLength="16.10" lengthAdjust="spacingAndGlyphs">mice</text>
<text x="312.30" y="363.40" font-size="7.9" textLength="23.50" lengthAdjust="spacingAndGlyphs">Ccr2<tspan font-size="6.0" dy="-3.0">-/-</tspan><tspan dy="3.0"></tspan></text>
<text x="315.20" y="372.70" font-size="7.9" textLength="16.60" lengthAdjust="spacingAndGlyphs">mice</text>
<circle cx="347.3" cy="308.5" r="2.2" fill="#0a3cb4"/>
<rect x="345.20" y="314.00" width="4.30" height="4.30" fill="#cc0a28"/>
<text x="353.00" y="311.50" font-size="7.9" textLength="24.60" lengthAdjust="spacingAndGlyphs">Control</text>
<text x="353.00" y="319.00" font-size="7.9" textLength="21.10" lengthAdjust="spacingAndGlyphs">Hemin</text>
<text x="213.50" y="137.00" font-size="11.4" font-weight="bold" fill="#000" stroke="#000" stroke-width="0.45">G</text>
<rect x="226.4" y="147.3" width="73.6" height="72.3" fill="#fff" stroke="#111" stroke-width="1.3"/>
<defs><filter id="bl" x="-50%" y="-50%" width="200%" height="200%"><feGaussianBlur stdDeviation="0.8"/></filter><filter id="bl2" x="-50%" y="-50%" width="200%" height="200%"><feGaussianBlur stdDeviation="1.6"/></filter><clipPath id="gclip"><rect x="227" y="148" width="72.4" height="71"/></clipPath></defs>
<g clip-path="url(#gclip)">
<g filter="url(#bl2)" fill="#3050f2"><ellipse cx="0" cy="0" rx="13.5" ry="9.5" transform="translate(250.3,173.5) rotate(-40)" fill-opacity="0.85"/><ellipse cx="242.5" cy="206" rx="13" ry="11.5" fill-opacity="0.9"/><ellipse cx="252" cy="196" rx="11" ry="6" fill-opacity="0.75"/><ellipse cx="257" cy="206" rx="7" ry="10" fill-opacity="0.7"/><ellipse cx="272.8" cy="207.5" rx="2.4" ry="10.5" fill-opacity="0.85"/></g>
<rect x="250.07" y="177.11" width="1.00" height="1.00" fill="#2a4cf2" fill-opacity="0.85"/>
<rect x="246.84" y="172.81" width="1.00" height="1.00" fill="#2a4cf2" fill-opacity="0.85"/>
<rect x="242.14" y="177.62" width="1.00" height="1.00" fill="#2a4cf2" fill-opacity="0.85"/>
<rect x="259.66" y="168.32" width="1.00" height="1.00" fill="#2a4cf2" fill-opacity="0.85"/>
<rect x="258.39" y="167.91" width="1.00" height="1.00" fill="#2a4cf2" fill-opacity="0.85"/>
<rect x="253.45" y="171.51" width="1.00" height="1.00" fill="#2a4cf2" fill-opacity="0.85"/>
<rect x="241.25" y="187.43" width="1.00" height="1.00" fill="#2a4cf2" fill-opacity="0.85"/>
<rect x="255.57" y="172.39" width="1.00" height="1.00" fill="#2a4cf2" fill-opacity="0.85"/>
<rect x="230.21" y="174.64" width="1.00" height="1.00" fill="#2a4cf2" fill-opacity="0.85"/>
<rect x="241.37" y="176.10" width="1.00" height="1.00" fill="#2a4cf2" fill-opacity="0.85"/>
<rect x="251.83" y="170.91" width="1.00" height="1.00" fill="#2a4cf2" fill-opacity="0.85"/>
<rect x="250.91" y="166.62" width="1.00" height="1.00" fill="#2a4cf2" fill-opacity="0.85"/>
<rect x="253.69" y="173.08" width="1.00" height="1.00" fill="#2a4cf2" fill-opacity="0.85"/>
<rect x="252.16" y="185.59" width="1.00" height="1.00" fill="#2a4cf2" fill-opacity="0.85"/>
<rect x="258.85" y="175.56" width="1.00" height="1.00" fill="#2a4cf2" fill-opacity="0.85"/>
<rect x="242.20" y="173.11" width="1.00" height="1.00" fill="#2a4cf2" fill-opacity="0.85"/>
<rect x="246.85" y="174.57" width="1.00" height="1.00" fill="#2a4cf2" fill-opacity="0.85"/>
<rect x="255.44" y="170.38" width="1.00" height="1.00" fill="#2a4cf2" fill-opacity="0.85"/>
<rect x="242.55" y="170.97" width="1.00" height="1.00" fill="#2a4cf2" fill-opacity="0.85"/>
<rect x="251.11" y="182.26" width="1.00" height="1.00" fill="#2a4cf2" fill-opacity="0.85"/>
<rect x="244.94" y="179.15" width="1.00" height="1.00" fill="#2a4cf2" fill-opacity="0.85"/>
<rect x="246.68" y="162.98" width="1.00" height="1.00" fill="#2a4cf2" fill-opacity="0.85"/>
<rect x="255.61" y="179.21" width="1.00" height="1.00" fill="#2a4cf2" fill-opacity="0.85"/>
<rect x="233.80" y="183.70" width="1.00" height="1.00" fill="#2a4cf2" fill-opacity="0.85"/>
<rect x="245.61" y="169.58" width="1.00" height="1.00" fill="#2a4cf2" fill-opacity="0.85"/>
<rect x="253.16" y="169.65" width="1.00" height="1.00" fill="#2a4cf2" fill-opacity="0.85"/>
<rect x="242.60" y="186.07" width="1.00" height="1.00" fill="#2a4cf2" fill-opacity="0.85"/>
<rect x="258.62" y="173.62" width="1.00" height="1.00" fill="#2a4cf2" fill-opacity="0.85"/>
<rect x="261.80" y="166.01" width="1.00" height="1.00" fill="#2a4cf2" fill-opacity="0.85"/>
<rect x="245.24" y="165.80" width="1.00" height="1.00" fill="#2a4cf2" fill-opacity="0.85"/>
<rect x="251.72" y="166.20" width="1.00" height="1.00" fill="#2a4cf2" fill-opacity="0.85"/>
<rect x="241.22" y="169.47" width="1.00" height="1.00" fill="#2a4cf2" fill-opacity="0.85"/>
<rect x="240.54" y="176.26" width="1.00" height="1.00" fill="#2a4cf2" fill-opacity="0.85"/>
<rect x="250.69" y="155.01" width="1.00" height="1.00" fill="#2a4cf2" fill-opacity="0.85"/>
<rect x="240.19" y="183.09" width="1.00" height="1.00" fill="#2a4cf2" fill-opacity="0.85"/>
<rect x="262.72" y="167.07" width="1.00" height="1.00" fill="#2a4cf2" fill-opacity="0.85"/>
<rect x="249.32" y="167.15" width="1.00" height="1.00" fill="#2a4cf2" fill-opacity="0.85"/>
<rect x="245.73" y="184.70" width="1.00" height="1.00" fill="#2a4cf2" fill-opacity="0.85"/>
<rect x="258.48" y="167.05" width="1.00" height="1.00" fill="#2a4cf2" fill-opacity="0.85"/>
<rect x="253.40" y="173.66" width="1.00" height="1.00" fill="#2a4cf2" fill-opacity="0.85"/>
<rect x="263.99" y="166.35" width="1.00" height="1.00" fill="#2a4cf2" fill-opacity="0.85"/>
<rect x="255.86" y="172.56" width="1.00" height="1.00" fill="#2a4cf2" fill-opacity="0.85"/>
<rect x="243.74" y="188.96" width="1.00" height="1.00" fill="#2a4cf2" fill-opacity="0.85"/>
<rect x="258.96" y="169.80" width="1.00" height="1.00" fill="#2a4cf2" fill-opacity="0.85"/>
<rect x="232.79" y="181.90" width="1.00" height="1.00" fill="#2a4cf2" fill-opacity="0.85"/>
<rect x="248.36" y="158.84" width="1.00" height="1.00" fill="#2a4cf2" fill-opacity="0.85"/>
<rect x="252.72" y="179.20" width="1.00" height="1.00" fill="#2a4cf2" fill-opacity="0.85"/>
<rect x="246.99" y="189.02" width="1.00" height="1.00" fill="#2a4cf2" fill-opacity="0.85"/>
<rect x="253.19" y="168.88" width="1.00" height="1.00" fill="#2a4cf2" fill-opacity="0.85"/>
<rect x="254.88" y="174.25" width="1.00" height="1.00" fill="#2a4cf2" fill-opacity="0.85"/>
<rect x="255.46" y="177.97" width="1.00" height="1.00" fill="#2a4cf2" fill-opacity="0.85"/>
<rect x="243.25" y="174.97" width="1.00" height="1.00" fill="#2a4cf2" fill-opacity="0.85"/>
<rect x="257.49" y="166.77" width="1.00" height="1.00" fill="#2a4cf2" fill-opacity="0.85"/>
<rect x="247.35" y="183.09" width="1.00" height="1.00" fill="#2a4cf2" fill-opacity="0.85"/>
<rect x="258.61" y="161.84" width="1.00" height="1.00" fill="#2a4cf2" fill-opacity="0.85"/>
<rect x="239.19" y="180.76" width="1.00" height="1.00" fill="#2a4cf2" fill-opacity="0.85"/>
<rect x="247.47" y="172.43" width="1.00" height="1.00" fill="#2a4cf2" fill-opacity="0.85"/>
<rect x="255.73" y="159.31" width="1.00" height="1.00" fill="#2a4cf2" fill-opacity="0.85"/>
<rect x="253.67" y="158.99" width="1.00" height="1.00" fill="#2a4cf2" fill-opacity="0.85"/>
<rect x="246.71" y="180.95" width="1.00" height="1.00" fill="#2a4cf2" fill-opacity="0.85"/>
<rect x="261.60" y="170.38" width="1.00" height="1.00" fill="#2a4cf2" fill-opacity="0.85"/>
<rect x="252.91" y="171.60" width="1.00" height="1.00" fill="#2a4cf2" fill-opacity="0.85"/>
<rect x="253.31" y="174.93" width="1.00" height="1.00" fill="#2a4cf2" fill-opacity="0.85"/>
<rect x="249.68" y="175.46" width="1.00" height="1.00" fill="#2a4cf2" fill-opacity="0.85"/>
<rect x="253.97" y="169.51" width="1.00" height="1.00" fill="#2a4cf2" fill-opacity="0.85"/>
<rect x="257.72" y="171.15" width="1.00" height="1.00" fill="#2a4cf2" fill-opacity="0.85"/>
<rect x="265.79" y="162.34" width="1.00" height="1.00" fill="#2a4cf2" fill-opacity="0.85"/>
<rect x="245.13" y="173.76" width="1.00" height="1.00" fill="#2a4cf2" fill-opacity="0.85"/>
<rect x="253.56" y="177.68" width="1.00" height="1.00" fill="#2a4cf2" fill-opacity="0.85"/>
<rect x="248.96" y="176.98" width="1.00" height="1.00" fill="#2a4cf2" fill-opacity="0.85"/>
<rect x="252.46" y="149.01" width="1.00" height="1.00" fill="#2a4cf2" fill-opacity="0.85"/>
<rect x="242.64" y="181.08" width="1.00" height="1.00" fill="#2a4cf2" fill-opacity="0.85"/>
<rect x="253.70" y="171.76" width="1.00" height="1.00" fill="#2a4cf2" fill-opacity="0.85"/>
<rect x="249.40" y="178.89" width="1.00" height="1.00" fill="#2a4cf2" fill-opacity="0.85"/>
<rect x="249.67" y="168.68" width="1.00" height="1.00" fill="#2a4cf2" fill-opacity="0.85"/>
<rect x="268.97" y="159.93" width="1.00" height="1.00" fill="#2a4cf2" fill-opacity="0.85"/>
<rect x="245.35" y="175.89" width="1.00" height="1.00" fill="#2a4cf2" fill-opacity="0.85"/>
<rect x="247.90" y="174.07" width="1.00" height="1.00" fill="#2a4cf2" fill-opacity="0.85"/>
<rect x="227.91" y="187.23" width="1.00" height="1.00" fill="#2a4cf2" fill-opacity="0.85"/>
<rect x="252.26" y="161.02" width="1.00" height="1.00" fill="#2a4cf2" fill-opacity="0.85"/>
<rect x="253.30" y="178.16" width="1.00" height="1.00" fill="#2a4cf2" fill-opacity="0.85"/>
<rect x="262.26" y="175.20" width="1.00" height="1.00" fill="#2a4cf2" fill-opacity="0.85"/>
<rect x="235.94" y="181.63" width="1.00" height="1.00" fill="#2a4cf2" fill-opacity="0.85"/>
<rect x="249.92" y="178.19" width="1.00" height="1.00" fill="#2a4cf2" fill-opacity="0.85"/>
<rect x="246.54" y="152.97" width="1.00" height="1.00" fill="#2a4cf2" fill-opacity="0.85"/>
<rect x="251.67" y="159.14" width="1.00" height="1.00" fill="#2a4cf2" fill-opacity="0.85"/>
<rect x="248.54" y="161.40" width="1.00" height="1.00" fill="#2a4cf2" fill-opacity="0.85"/>
<rect x="256.07" y="177.87" width="1.00" height="1.00" fill="#2a4cf2" fill-opacity="0.85"/>
<rect x="249.51" y="174.86" width="1.00" height="1.00" fill="#2a4cf2" fill-opacity="0.85"/>
<rect x="256.19" y="168.84" width="1.00" height="1.00" fill="#2a4cf2" fill-opacity="0.85"/>
<rect x="255.56" y="181.17" width="1.00" height="1.00" fill="#2a4cf2" fill-opacity="0.85"/>
<rect x="256.20" y="165.13" width="1.00" height="1.00" fill="#2a4cf2" fill-opacity="0.85"/>
<rect x="264.99" y="150.53" width="1.00" height="1.00" fill="#2a4cf2" fill-opacity="0.85"/>
<rect x="255.35" y="166.09" width="1.00" height="1.00" fill="#2a4cf2" fill-opacity="0.85"/>
<rect x="253.71" y="175.70" width="1.00" height="1.00" fill="#2a4cf2" fill-opacity="0.85"/>
<rect x="254.09" y="174.82" width="1.00" height="1.00" fill="#2a4cf2" fill-opacity="0.85"/>
<rect x="232.38" y="174.81" width="1.00" height="1.00" fill="#2a4cf2" fill-opacity="0.85"/>
<rect x="250.25" y="164.45" width="1.00" height="1.00" fill="#2a4cf2" fill-opacity="0.85"/>
<rect x="236.19" y="171.95" width="1.00" height="1.00" fill="#2a4cf2" fill-opacity="0.85"/>
<rect x="262.14" y="168.98" width="1.00" height="1.00" fill="#2a4cf2" fill-opacity="0.85"/>
<rect x="256.60" y="159.34" width="1.00" height="1.00" fill="#2a4cf2" fill-opacity="0.85"/>
<rect x="245.04" y="167.32" width="1.00" height="1.00" fill="#2a4cf2" fill-opacity="0.85"/>
<rect x="262.02" y="176.24" width="1.00" height="1.00" fill="#2a4cf2" fill-opacity="0.85"/>
<rect x="249.84" y="186.21" width="1.00" height="1.00" fill="#2a4cf2" fill-opacity="0.85"/>
<rect x="256.25" y="166.08" width="1.00" height="1.00" fill="#2a4cf2" fill-opacity="0.85"/>
<rect x="241.33" y="192.05" width="1.00" height="1.00" fill="#2a4cf2" fill-opacity="0.85"/>
<rect x="246.58" y="170.59" width="1.00" height="1.00" fill="#2a4cf2" fill-opacity="0.85"/>
<rect x="254.42" y="172.60" width="1.00" height="1.00" fill="#2a4cf2" fill-opacity="0.85"/>
<rect x="256.44" y="158.77" width="1.00" height="1.00" fill="#2a4cf2" fill-opacity="0.85"/>
<rect x="264.28" y="173.47" width="1.00" height="1.00" fill="#2a4cf2" fill-opacity="0.85"/>
<rect x="259.61" y="163.23" width="1.00" height="1.00" fill="#2a4cf2" fill-opacity="0.85"/>
<rect x="248.64" y="182.62" width="1.00" height="1.00" fill="#2a4cf2" fill-opacity="0.85"/>
<rect x="251.16" y="172.91" width="1.00" height="1.00" fill="#2a4cf2" fill-opacity="0.85"/>
<rect x="259.06" y="162.99" width="1.00" height="1.00" fill="#2a4cf2" fill-opacity="0.85"/>
<rect x="231.47" y="185.10" width="1.00" height="1.00" fill="#2a4cf2" fill-opacity="0.85"/>
<rect x="239.73" y="188.40" width="1.00" height="1.00" fill="#2a4cf2" fill-opacity="0.85"/>
<rect x="249.55" y="168.02" width="1.00" height="1.00" fill="#2a4cf2" fill-opacity="0.85"/>
<rect x="253.21" y="177.20" width="1.00" height="1.00" fill="#2a4cf2" fill-opacity="0.85"/>
<rect x="255.92" y="179.12" width="1.00" height="1.00" fill="#2a4cf2" fill-opacity="0.85"/>
<rect x="253.70" y="178.55" width="1.00" height="1.00" fill="#2a4cf2" fill-opacity="0.85"/>
<rect x="267.38" y="171.91" width="1.00" height="1.00" fill="#2a4cf2" fill-opacity="0.85"/>
<rect x="248.59" y="181.48" width="1.00" height="1.00" fill="#2a4cf2" fill-opacity="0.85"/>
<rect x="231.62" y="179.06" width="1.00" height="1.00" fill="#2a4cf2" fill-opacity="0.85"/>
<rect x="239.98" y="190.31" width="1.00" height="1.00" fill="#2a4cf2" fill-opacity="0.85"/>
<rect x="240.78" y="180.46" width="1.00" height="1.00" fill="#2a4cf2" fill-opacity="0.85"/>
<rect x="248.28" y="174.03" width="1.00" height="1.00" fill="#2a4cf2" fill-opacity="0.85"/>
<rect x="246.47" y="177.78" width="1.00" height="1.00" fill="#2a4cf2" fill-opacity="0.85"/>
<rect x="263.02" y="162.28" width="1.00" height="1.00" fill="#2a4cf2" fill-opacity="0.85"/>
<rect x="257.84" y="174.74" width="1.00" height="1.00" fill="#2a4cf2" fill-opacity="0.85"/>
<rect x="243.10" y="167.94" width="1.00" height="1.00" fill="#2a4cf2" fill-opacity="0.85"/>
<rect x="250.24" y="181.74" width="1.00" height="1.00" fill="#2a4cf2" fill-opacity="0.85"/>
<rect x="235.32" y="180.08" width="1.00" height="1.00" fill="#2a4cf2" fill-opacity="0.85"/>
<rect x="260.44" y="170.80" width="1.00" height="1.00" fill="#2a4cf2" fill-opacity="0.85"/>
<rect x="253.22" y="176.96" width="1.00" height="1.00" fill="#2a4cf2" fill-opacity="0.85"/>
<rect x="246.08" y="166.12" width="1.00" height="1.00" fill="#2a4cf2" fill-opacity="0.85"/>
<rect x="235.75" y="179.37" width="1.00" height="1.00" fill="#2a4cf2" fill-opacity="0.85"/>
<rect x="254.15" y="164.55" width="1.00" height="1.00" fill="#2a4cf2" fill-opacity="0.85"/>
<rect x="240.01" y="174.67" width="1.00" height="1.00" fill="#2a4cf2" fill-opacity="0.85"/>
<rect x="238.16" y="181.77" width="1.00" height="1.00" fill="#2a4cf2" fill-opacity="0.85"/>
<rect x="242.74" y="182.02" width="1.00" height="1.00" fill="#2a4cf2" fill-opacity="0.85"/>
<rect x="233.99" y="189.04" width="1.00" height="1.00" fill="#2a4cf2" fill-opacity="0.85"/>
<rect x="237.02" y="167.25" width="1.00" height="1.00" fill="#2a4cf2" fill-opacity="0.85"/>
<rect x="253.92" y="167.20" width="1.00" height="1.00" fill="#2a4cf2" fill-opacity="0.85"/>
<rect x="229.91" y="182.26" width="1.00" height="1.00" fill="#2a4cf2" fill-opacity="0.85"/>
<rect x="250.00" y="168.94" width="1.00" height="1.00" fill="#2a4cf2" fill-opacity="0.85"/>
<rect x="258.60" y="171.96" width="1.00" height="1.00" fill="#2a4cf2" fill-opacity="0.85"/>
<rect x="256.01" y="170.56" width="1.00" height="1.00" fill="#2a4cf2" fill-opacity="0.85"/>
<rect x="262.26" y="168.14" width="1.00" height="1.00" fill="#2a4cf2" fill-opacity="0.85"/>
<rect x="244.38" y="159.87" width="1.00" height="1.00" fill="#2a4cf2" fill-opacity="0.85"/>
<rect x="261.80" y="174.05" width="1.00" height="1.00" fill="#2a4cf2" fill-opacity="0.85"/>
<rect x="245.68" y="172.48" width="1.00" height="1.00" fill="#2a4cf2" fill-opacity="0.85"/>
<rect x="256.57" y="152.40" width="1.00" height="1.00" fill="#2a4cf2" fill-opacity="0.85"/>
<rect x="263.34" y="182.21" width="1.00" height="1.00" fill="#2a4cf2" fill-opacity="0.85"/>
<rect x="245.93" y="182.10" width="1.00" height="1.00" fill="#2a4cf2" fill-opacity="0.85"/>
<rect x="263.03" y="160.88" width="1.00" height="1.00" fill="#2a4cf2" fill-opacity="0.85"/>
<rect x="257.66" y="174.07" width="1.00" height="1.00" fill="#2a4cf2" fill-opacity="0.85"/>
<rect x="242.84" y="178.09" width="1.00" height="1.00" fill="#2a4cf2" fill-opacity="0.85"/>
<rect x="255.38" y="175.32" width="1.00" height="1.00" fill="#2a4cf2" fill-opacity="0.85"/>
<rect x="248.73" y="172.24" width="1.00" height="1.00" fill="#2a4cf2" fill-opacity="0.85"/>
<rect x="240.91" y="177.42" width="1.00" height="1.00" fill="#2a4cf2" fill-opacity="0.85"/>
<rect x="256.71" y="168.06" width="1.00" height="1.00" fill="#2a4cf2" fill-opacity="0.85"/>
<rect x="240.08" y="174.02" width="1.00" height="1.00" fill="#2a4cf2" fill-opacity="0.85"/>
<rect x="273.97" y="162.39" width="1.00" height="1.00" fill="#2a4cf2" fill-opacity="0.85"/>
<rect x="243.61" y="156.20" width="1.00" height="1.00" fill="#2a4cf2" fill-opacity="0.85"/>
<rect x="256.33" y="171.60" width="1.00" height="1.00" fill="#2a4cf2" fill-opacity="0.85"/>
<rect x="263.84" y="164.85" width="1.00" height="1.00" fill="#2a4cf2" fill-opacity="0.85"/>
<rect x="251.49" y="176.01" width="1.00" height="1.00" fill="#2a4cf2" fill-opacity="0.85"/>
<rect x="239.97" y="190.02" width="1.00" height="1.00" fill="#2a4cf2" fill-opacity="0.85"/>
<rect x="249.23" y="167.52" width="1.00" height="1.00" fill="#2a4cf2" fill-opacity="0.85"/>
<rect x="267.01" y="173.91" width="1.00" height="1.00" fill="#2a4cf2" fill-opacity="0.85"/>
<rect x="236.81" y="178.25" width="1.00" height="1.00" fill="#2a4cf2" fill-opacity="0.85"/>
<rect x="252.69" y="172.13" width="1.00" height="1.00" fill="#2a4cf2" fill-opacity="0.85"/>
<rect x="242.83" y="170.58" width="1.00" height="1.00" fill="#2a4cf2" fill-opacity="0.85"/>
<rect x="269.57" y="165.22" width="1.00" height="1.00" fill="#2a4cf2" fill-opacity="0.85"/>
<rect x="235.49" y="173.60" width="1.00" height="1.00" fill="#2a4cf2" fill-opacity="0.85"/>
<rect x="266.33" y="167.53" width="1.00" height="1.00" fill="#2a4cf2" fill-opacity="0.85"/>
<rect x="266.44" y="165.91" width="1.00" height="1.00" fill="#2a4cf2" fill-opacity="0.85"/>
<rect x="244.54" y="179.62" width="1.00" height="1.00" fill="#2a4cf2" fill-opacity="0.85"/>
<rect x="230.95" y="182.47" width="1.00" height="1.00" fill="#2a4cf2" fill-opacity="0.85"/>
<rect x="251.56" y="175.96" width="1.00" height="1.00" fill="#2a4cf2" fill-opacity="0.85"/>
<rect x="243.99" y="176.82" width="1.00" height="1.00" fill="#2a4cf2" fill-opacity="0.85"/>
<rect x="254.71" y="172.08" width="1.00" height="1.00" fill="#2a4cf2" fill-opacity="0.85"/>
<rect x="255.32" y="170.14" width="1.00" height="1.00" fill="#2a4cf2" fill-opacity="0.85"/>
<rect x="250.74" y="178.91" width="1.00" height="1.00" fill="#2a4cf2" fill-opacity="0.85"/>
<rect x="246.71" y="168.59" width="1.00" height="1.00" fill="#2a4cf2" fill-opacity="0.85"/>
<rect x="245.24" y="176.82" width="1.00" height="1.00" fill="#2a4cf2" fill-opacity="0.85"/>
<rect x="249.66" y="174.45" width="1.00" height="1.00" fill="#2a4cf2" fill-opacity="0.85"/>
<rect x="250.53" y="173.88" width="1.00" height="1.00" fill="#2a4cf2" fill-opacity="0.85"/>
<rect x="243.56" y="167.55" width="1.00" height="1.00" fill="#2a4cf2" fill-opacity="0.85"/>
<rect x="257.27" y="175.67" width="1.00" height="1.00" fill="#2a4cf2" fill-opacity="0.85"/>
<rect x="252.17" y="169.40" width="1.00" height="1.00" fill="#2a4cf2" fill-opacity="0.85"/>
<rect x="249.01" y="165.47" width="1.00" height="1.00" fill="#2a4cf2" fill-opacity="0.85"/>
<rect x="236.25" y="184.88" width="1.00" height="1.00" fill="#2a4cf2" fill-opacity="0.85"/>
<rect x="246.12" y="182.37" width="1.00" height="1.00" fill="#2a4cf2" fill-opacity="0.85"/>
<rect x="230.93" y="166.53" width="1.00" height="1.00" fill="#2a4cf2" fill-opacity="0.85"/>
<rect x="248.83" y="187.21" width="1.00" height="1.00" fill="#2a4cf2" fill-opacity="0.85"/>
<rect x="241.30" y="168.51" width="1.00" height="1.00" fill="#2a4cf2" fill-opacity="0.85"/>
<rect x="246.42" y="180.26" width="1.00" height="1.00" fill="#2a4cf2" fill-opacity="0.85"/>
<rect x="254.15" y="170.85" width="1.00" height="1.00" fill="#2a4cf2" fill-opacity="0.85"/>
<rect x="263.55" y="167.46" width="1.00" height="1.00" fill="#2a4cf2" fill-opacity="0.85"/>
<rect x="252.14" y="176.10" width="1.00" height="1.00" fill="#2a4cf2" fill-opacity="0.85"/>
<rect x="265.90" y="167.73" width="1.00" height="1.00" fill="#2a4cf2" fill-opacity="0.85"/>
<rect x="252.73" y="161.36" width="1.00" height="1.00" fill="#2a4cf2" fill-opacity="0.85"/>
<rect x="251.77" y="177.54" width="1.00" height="1.00" fill="#2a4cf2" fill-opacity="0.85"/>
<rect x="252.11" y="180.13" width="1.00" height="1.00" fill="#2a4cf2" fill-opacity="0.85"/>
<rect x="257.93" y="173.88" width="1.00" height="1.00" fill="#2a4cf2" fill-opacity="0.85"/>
<rect x="258.89" y="186.98" width="1.00" height="1.00" fill="#2a4cf2" fill-opacity="0.85"/>
<rect x="257.92" y="164.36" width="1.00" height="1.00" fill="#2a4cf2" fill-opacity="0.85"/>
<rect x="261.30" y="185.37" width="1.00" height="1.00" fill="#2a4cf2" fill-opacity="0.85"/>
<rect x="250.95" y="179.45" width="1.00" height="1.00" fill="#2a4cf2" fill-opacity="0.85"/>
<rect x="256.96" y="167.05" width="1.00" height="1.00" fill="#2a4cf2" fill-opacity="0.85"/>
<rect x="242.09" y="181.06" width="1.00" height="1.00" fill="#2a4cf2" fill-opacity="0.85"/>
<rect x="257.14" y="176.43" width="1.00" height="1.00" fill="#2a4cf2" fill-opacity="0.85"/>
<rect x="255.60" y="168.34" width="1.00" height="1.00" fill="#2a4cf2" fill-opacity="0.85"/>
<rect x="258.27" y="170.48" width="1.00" height="1.00" fill="#2a4cf2" fill-opacity="0.85"/>
<rect x="251.53" y="172.02" width="1.00" height="1.00" fill="#2a4cf2" fill-opacity="0.85"/>
<rect x="250.90" y="177.90" width="1.00" height="1.00" fill="#2a4cf2" fill-opacity="0.85"/>
<rect x="239.50" y="176.31" width="1.00" height="1.00" fill="#2a4cf2" fill-opacity="0.85"/>
<rect x="243.72" y="165.68" width="1.00" height="1.00" fill="#2a4cf2" fill-opacity="0.85"/>
<rect x="238.23" y="165.66" width="1.00" height="1.00" fill="#2a4cf2" fill-opacity="0.85"/>
<rect x="247.21" y="180.00" width="1.00" height="1.00" fill="#2a4cf2" fill-opacity="0.85"/>
<rect x="253.69" y="169.27" width="1.00" height="1.00" fill="#2a4cf2" fill-opacity="0.85"/>
<rect x="242.19" y="167.36" width="1.00" height="1.00" fill="#2a4cf2" fill-opacity="0.85"/>
<rect x="265.26" y="164.41" width="1.00" height="1.00" fill="#2a4cf2" fill-opacity="0.85"/>
<rect x="254.07" y="161.93" width="1.00" height="1.00" fill="#2a4cf2" fill-opacity="0.85"/>
<rect x="240.85" y="165.07" width="1.00" height="1.00" fill="#2a4cf2" fill-opacity="0.85"/>
<rect x="259.39" y="172.89" width="1.00" height="1.00" fill="#2a4cf2" fill-opacity="0.85"/>
<rect x="235.77" y="184.33" width="1.00" height="1.00" fill="#2a4cf2" fill-opacity="0.85"/>
<rect x="247.03" y="160.38" width="1.00" height="1.00" fill="#2a4cf2" fill-opacity="0.85"/>
<rect x="232.07" y="178.84" width="1.00" height="1.00" fill="#2a4cf2" fill-opacity="0.85"/>
<rect x="239.36" y="169.86" width="1.00" height="1.00" fill="#2a4cf2" fill-opacity="0.85"/>
<rect x="251.07" y="174.05" width="1.00" height="1.00" fill="#2a4cf2" fill-opacity="0.85"/>
<rect x="257.35" y="172.62" width="1.00" height="1.00" fill="#2a4cf2" fill-opacity="0.85"/>
<rect x="265.60" y="169.62" width="1.00" height="1.00" fill="#2a4cf2" fill-opacity="0.85"/>
<rect x="238.14" y="178.49" width="1.00" height="1.00" fill="#2a4cf2" fill-opacity="0.85"/>
<rect x="237.59" y="174.11" width="1.00" height="1.00" fill="#2a4cf2" fill-opacity="0.85"/>
<rect x="249.23" y="173.52" width="1.00" height="1.00" fill="#2a4cf2" fill-opacity="0.85"/>
<rect x="246.74" y="162.10" width="1.00" height="1.00" fill="#2a4cf2" fill-opacity="0.85"/>
<rect x="240.70" y="180.44" width="1.00" height="1.00" fill="#2a4cf2" fill-opacity="0.85"/>
<rect x="247.05" y="172.67" width="1.00" height="1.00" fill="#2a4cf2" fill-opacity="0.85"/>
<rect x="246.17" y="169.60" width="1.00" height="1.00" fill="#2a4cf2" fill-opacity="0.85"/>
<rect x="256.38" y="170.48" width="1.00" height="1.00" fill="#2a4cf2" fill-opacity="0.85"/>
<rect x="246.35" y="170.19" width="1.00" height="1.00" fill="#2a4cf2" fill-opacity="0.85"/>
<rect x="237.16" y="160.51" width="1.00" height="1.00" fill="#2a4cf2" fill-opacity="0.85"/>
<rect x="242.81" y="179.18" width="1.00" height="1.00" fill="#2a4cf2" fill-opacity="0.85"/>
<rect x="239.69" y="183.18" width="1.00" height="1.00" fill="#2a4cf2" fill-opacity="0.85"/>
<rect x="245.12" y="165.24" width="1.00" height="1.00" fill="#2a4cf2" fill-opacity="0.85"/>
<rect x="246.67" y="172.97" width="1.00" height="1.00" fill="#2a4cf2" fill-opacity="0.85"/>
<rect x="255.70" y="173.24" width="1.00" height="1.00" fill="#2a4cf2" fill-opacity="0.85"/>
<rect x="245.98" y="168.98" width="1.00" height="1.00" fill="#2a4cf2" fill-opacity="0.85"/>
<rect x="248.48" y="173.56" width="1.00" height="1.00" fill="#2a4cf2" fill-opacity="0.85"/>
<rect x="256.37" y="169.98" width="1.00" height="1.00" fill="#2a4cf2" fill-opacity="0.85"/>
<rect x="238.88" y="170.67" width="1.00" height="1.00" fill="#2a4cf2" fill-opacity="0.85"/>
<rect x="243.99" y="171.59" width="1.00" height="1.00" fill="#2a4cf2" fill-opacity="0.85"/>
<rect x="241.22" y="179.21" width="1.00" height="1.00" fill="#2a4cf2" fill-opacity="0.85"/>
<rect x="246.67" y="176.52" width="1.00" height="1.00" fill="#2a4cf2" fill-opacity="0.85"/>
<rect x="251.88" y="167.75" width="1.00" height="1.00" fill="#2a4cf2" fill-opacity="0.85"/>
<rect x="265.37" y="157.21" width="1.00" height="1.00" fill="#2a4cf2" fill-opacity="0.85"/>
<rect x="258.33" y="166.88" width="1.00" height="1.00" fill="#2a4cf2" fill-opacity="0.85"/>
<rect x="248.00" y="154.35" width="1.00" height="1.00" fill="#2a4cf2" fill-opacity="0.85"/>
<rect x="245.36" y="178.82" width="1.00" height="1.00" fill="#2a4cf2" fill-opacity="0.85"/>
<rect x="263.95" y="180.96" width="1.00" height="1.00" fill="#2a4cf2" fill-opacity="0.85"/>
<rect x="257.49" y="177.40" width="1.00" height="1.00" fill="#2a4cf2" fill-opacity="0.85"/>
<rect x="259.34" y="173.04" width="1.00" height="1.00" fill="#2a4cf2" fill-opacity="0.85"/>
<rect x="252.86" y="169.11" width="1.00" height="1.00" fill="#2a4cf2" fill-opacity="0.85"/>
<rect x="249.00" y="164.52" width="1.00" height="1.00" fill="#2a4cf2" fill-opacity="0.85"/>
<rect x="254.15" y="160.72" width="1.00" height="1.00" fill="#2a4cf2" fill-opacity="0.85"/>
<rect x="260.47" y="182.04" width="1.00" height="1.00" fill="#2a4cf2" fill-opacity="0.85"/>
<rect x="248.26" y="174.46" width="1.00" height="1.00" fill="#2a4cf2" fill-opacity="0.85"/>
<rect x="258.37" y="166.03" width="1.00" height="1.00" fill="#2a4cf2" fill-opacity="0.85"/>
<rect x="245.00" y="179.22" width="1.00" height="1.00" fill="#2a4cf2" fill-opacity="0.85"/>
<rect x="257.00" y="172.98" width="1.00" height="1.00" fill="#2a4cf2" fill-opacity="0.85"/>
<rect x="251.50" y="186.44" width="1.00" height="1.00" fill="#2a4cf2" fill-opacity="0.85"/>
<rect x="262.01" y="162.91" width="1.00" height="1.00" fill="#2a4cf2" fill-opacity="0.85"/>
<rect x="249.96" y="169.23" width="1.00" height="1.00" fill="#2a4cf2" fill-opacity="0.85"/>
<rect x="257.15" y="160.85" width="1.00" height="1.00" fill="#2a4cf2" fill-opacity="0.85"/>
<rect x="252.70" y="166.50" width="1.00" height="1.00" fill="#2a4cf2" fill-opacity="0.85"/>
<rect x="247.75" y="180.82" width="1.00" height="1.00" fill="#2a4cf2" fill-opacity="0.85"/>
<rect x="259.46" y="164.80" width="1.00" height="1.00" fill="#2a4cf2" fill-opacity="0.85"/>
<rect x="248.26" y="181.18" width="1.00" height="1.00" fill="#2a4cf2" fill-opacity="0.85"/>
<rect x="250.74" y="174.85" width="1.00" height="1.00" fill="#2a4cf2" fill-opacity="0.85"/>
<rect x="265.61" y="169.34" width="1.00" height="1.00" fill="#2a4cf2" fill-opacity="0.85"/>
<rect x="255.56" y="187.54" width="1.00" height="1.00" fill="#2a4cf2" fill-opacity="0.85"/>
<rect x="253.11" y="176.89" width="1.00" height="1.00" fill="#2a4cf2" fill-opacity="0.85"/>
<rect x="244.90" y="176.73" width="1.00" height="1.00" fill="#2a4cf2" fill-opacity="0.85"/>
<rect x="244.53" y="192.58" width="1.00" height="1.00" fill="#2a4cf2" fill-opacity="0.85"/>
<rect x="254.66" y="158.61" width="1.00" height="1.00" fill="#2a4cf2" fill-opacity="0.85"/>
<rect x="232.07" y="174.12" width="1.00" height="1.00" fill="#2a4cf2" fill-opacity="0.85"/>
<rect x="256.44" y="163.53" width="1.00" height="1.00" fill="#2a4cf2" fill-opacity="0.85"/>
<rect x="248.05" y="171.81" width="1.00" height="1.00" fill="#2a4cf2" fill-opacity="0.85"/>
<rect x="244.37" y="168.32" width="1.00" height="1.00" fill="#2a4cf2" fill-opacity="0.85"/>
<rect x="243.97" y="165.69" width="1.00" height="1.00" fill="#2a4cf2" fill-opacity="0.85"/>
<rect x="250.57" y="174.97" width="1.00" height="1.00" fill="#2a4cf2" fill-opacity="0.85"/>
<rect x="252.23" y="168.99" width="1.00" height="1.00" fill="#2a4cf2" fill-opacity="0.85"/>
<rect x="243.89" y="179.31" width="1.00" height="1.00" fill="#2a4cf2" fill-opacity="0.85"/>
<rect x="252.82" y="183.76" width="1.00" height="1.00" fill="#2a4cf2" fill-opacity="0.85"/>
<rect x="254.91" y="167.74" width="1.00" height="1.00" fill="#2a4cf2" fill-opacity="0.85"/>
<rect x="243.44" y="172.38" width="1.00" height="1.00" fill="#2a4cf2" fill-opacity="0.85"/>
<rect x="241.50" y="176.97" width="1.00" height="1.00" fill="#2a4cf2" fill-opacity="0.85"/>
<rect x="254.10" y="173.77" width="1.00" height="1.00" fill="#2a4cf2" fill-opacity="0.85"/>
<rect x="262.71" y="179.98" width="1.00" height="1.00" fill="#2a4cf2" fill-opacity="0.85"/>
<rect x="244.72" y="177.37" width="1.00" height="1.00" fill="#2a4cf2" fill-opacity="0.85"/>
<rect x="246.71" y="177.03" width="1.00" height="1.00" fill="#2a4cf2" fill-opacity="0.85"/>
<rect x="252.63" y="174.09" width="1.00" height="1.00" fill="#2a4cf2" fill-opacity="0.85"/>
<rect x="249.59" y="176.28" width="1.00" height="1.00" fill="#2a4cf2" fill-opacity="0.85"/>
<rect x="253.41" y="176.52" width="1.00" height="1.00" fill="#2a4cf2" fill-opacity="0.85"/>
<rect x="232.33" y="180.15" width="1.00" height="1.00" fill="#2a4cf2" fill-opacity="0.85"/>
<rect x="245.47" y="167.88" width="1.00" height="1.00" fill="#2a4cf2" fill-opacity="0.85"/>
<rect x="244.82" y="182.50" width="1.00" height="1.00" fill="#2a4cf2" fill-opacity="0.85"/>
<rect x="247.72" y="180.13" width="1.00" height="1.00" fill="#2a4cf2" fill-opacity="0.85"/>
<rect x="256.51" y="169.97" width="1.00" height="1.00" fill="#2a4cf2" fill-opacity="0.85"/>
<rect x="253.06" y="169.38" width="1.00" height="1.00" fill="#2a4cf2" fill-opacity="0.85"/>
<rect x="239.42" y="181.45" width="1.00" height="1.00" fill="#2a4cf2" fill-opacity="0.85"/>
<rect x="250.89" y="167.59" width="1.00" height="1.00" fill="#2a4cf2" fill-opacity="0.85"/>
<rect x="252.21" y="177.34" width="1.00" height="1.00" fill="#2a4cf2" fill-opacity="0.85"/>
<rect x="246.08" y="181.55" width="1.00" height="1.00" fill="#2a4cf2" fill-opacity="0.85"/>
<rect x="261.04" y="158.86" width="1.00" height="1.00" fill="#2a4cf2" fill-opacity="0.85"/>
<rect x="250.24" y="171.36" width="1.00" height="1.00" fill="#2a4cf2" fill-opacity="0.85"/>
<rect x="262.33" y="165.17" width="1.00" height="1.00" fill="#2a4cf2" fill-opacity="0.85"/>
<rect x="253.45" y="164.08" width="1.00" height="1.00" fill="#2a4cf2" fill-opacity="0.85"/>
<rect x="249.64" y="173.05" width="1.00" height="1.00" fill="#2a4cf2" fill-opacity="0.85"/>
<rect x="242.90" y="191.02" width="1.00" height="1.00" fill="#2a4cf2" fill-opacity="0.85"/>
<rect x="249.04" y="158.80" width="1.00" height="1.00" fill="#2a4cf2" fill-opacity="0.85"/>
<rect x="254.67" y="167.80" width="1.00" height="1.00" fill="#2a4cf2" fill-opacity="0.85"/>
<rect x="254.59" y="172.09" width="1.00" height="1.00" fill="#2a4cf2" fill-opacity="0.85"/>
<rect x="238.01" y="181.10" width="1.00" height="1.00" fill="#2a4cf2" fill-opacity="0.85"/>
<rect x="258.26" y="161.02" width="1.00" height="1.00" fill="#2a4cf2" fill-opacity="0.85"/>
<rect x="236.68" y="172.48" width="1.00" height="1.00" fill="#2a4cf2" fill-opacity="0.85"/>
<rect x="242.32" y="182.13" width="1.00" height="1.00" fill="#2a4cf2" fill-opacity="0.85"/>
<rect x="263.91" y="164.80" width="1.00" height="1.00" fill="#2a4cf2" fill-opacity="0.85"/>
<rect x="260.92" y="182.62" width="1.00" height="1.00" fill="#2a4cf2" fill-opacity="0.85"/>
<rect x="243.20" y="172.82" width="1.00" height="1.00" fill="#2a4cf2" fill-opacity="0.85"/>
<rect x="255.94" y="172.50" width="1.00" height="1.00" fill="#2a4cf2" fill-opacity="0.85"/>
<rect x="237.53" y="173.37" width="1.00" height="1.00" fill="#2a4cf2" fill-opacity="0.85"/>
<rect x="252.95" y="172.45" width="1.00" height="1.00" fill="#2a4cf2" fill-opacity="0.85"/>
<rect x="239.44" y="179.97" width="1.00" height="1.00" fill="#2a4cf2" fill-opacity="0.85"/>
<rect x="247.77" y="178.60" width="1.00" height="1.00" fill="#2a4cf2" fill-opacity="0.85"/>
<rect x="248.59" y="173.28" width="1.00" height="1.00" fill="#2a4cf2" fill-opacity="0.85"/>
<rect x="251.63" y="180.40" width="1.00" height="1.00" fill="#2a4cf2" fill-opacity="0.85"/>
<rect x="258.39" y="162.68" width="1.00" height="1.00" fill="#2a4cf2" fill-opacity="0.85"/>
<rect x="252.79" y="164.06" width="1.00" height="1.00" fill="#2a4cf2" fill-opacity="0.85"/>
<rect x="253.46" y="176.29" width="1.00" height="1.00" fill="#2a4cf2" fill-opacity="0.85"/>
<rect x="259.22" y="161.85" width="1.00" height="1.00" fill="#2a4cf2" fill-opacity="0.85"/>
<rect x="250.08" y="174.43" width="1.00" height="1.00" fill="#2a4cf2" fill-opacity="0.85"/>
<rect x="238.96" y="182.23" width="1.00" height="1.00" fill="#2a4cf2" fill-opacity="0.85"/>
<rect x="246.43" y="178.98" width="1.00" height="1.00" fill="#2a4cf2" fill-opacity="0.85"/>
<rect x="233.32" y="170.06" width="1.00" height="1.00" fill="#2a4cf2" fill-opacity="0.85"/>
<rect x="251.17" y="174.06" width="1.00" height="1.00" fill="#2a4cf2" fill-opacity="0.85"/>
<rect x="249.52" y="180.78" width="1.00" height="1.00" fill="#2a4cf2" fill-opacity="0.85"/>
<rect x="245.28" y="171.65" width="1.00" height="1.00" fill="#2a4cf2" fill-opacity="0.85"/>
<rect x="246.72" y="162.27" width="1.00" height="1.00" fill="#2a4cf2" fill-opacity="0.85"/>
<rect x="244.78" y="177.03" width="1.00" height="1.00" fill="#2a4cf2" fill-opacity="0.85"/>
<rect x="255.30" y="167.01" width="1.00" height="1.00" fill="#2a4cf2" fill-opacity="0.85"/>
<rect x="249.31" y="167.85" width="1.00" height="1.00" fill="#2a4cf2" fill-opacity="0.85"/>
<rect x="258.95" y="179.44" width="1.00" height="1.00" fill="#2a4cf2" fill-opacity="0.85"/>
<rect x="254.69" y="188.97" width="1.00" height="1.00" fill="#2a4cf2" fill-opacity="0.85"/>
<rect x="245.19" y="177.02" width="1.00" height="1.00" fill="#2a4cf2" fill-opacity="0.85"/>
<rect x="255.34" y="177.04" width="1.00" height="1.00" fill="#2a4cf2" fill-opacity="0.85"/>
<rect x="232.02" y="170.09" width="1.00" height="1.00" fill="#2a4cf2" fill-opacity="0.85"/>
<rect x="257.53" y="173.26" width="1.00" height="1.00" fill="#2a4cf2" fill-opacity="0.85"/>
<rect x="265.33" y="182.29" width="1.00" height="1.00" fill="#2a4cf2" fill-opacity="0.85"/>
<rect x="252.35" y="173.01" width="1.00" height="1.00" fill="#2a4cf2" fill-opacity="0.85"/>
<rect x="258.10" y="169.16" width="1.00" height="1.00" fill="#2a4cf2" fill-opacity="0.85"/>
<rect x="256.73" y="156.68" width="1.00" height="1.00" fill="#2a4cf2" fill-opacity="0.85"/>
<rect x="232.68" y="158.14" width="1.00" height="1.00" fill="#2a4cf2" fill-opacity="0.85"/>
<rect x="254.16" y="166.18" width="1.00" height="1.00" fill="#2a4cf2" fill-opacity="0.85"/>
<rect x="265.52" y="178.08" width="1.00" height="1.00" fill="#2a4cf2" fill-opacity="0.85"/>
<rect x="248.69" y="171.77" width="1.00" height="1.00" fill="#2a4cf2" fill-opacity="0.85"/>
<rect x="242.66" y="171.88" width="1.00" height="1.00" fill="#2a4cf2" fill-opacity="0.85"/>
<rect x="247.88" y="180.03" width="1.00" height="1.00" fill="#2a4cf2" fill-opacity="0.85"/>
<rect x="250.34" y="173.11" width="1.00" height="1.00" fill="#2a4cf2" fill-opacity="0.85"/>
<rect x="252.36" y="178.61" width="1.00" height="1.00" fill="#2a4cf2" fill-opacity="0.85"/>
<rect x="252.80" y="169.28" width="1.00" height="1.00" fill="#2a4cf2" fill-opacity="0.85"/>
<rect x="254.00" y="168.19" width="1.00" height="1.00" fill="#2a4cf2" fill-opacity="0.85"/>
<rect x="247.49" y="187.29" width="1.00" height="1.00" fill="#2a4cf2" fill-opacity="0.85"/>
<rect x="249.19" y="165.39" width="1.00" height="1.00" fill="#2a4cf2" fill-opacity="0.85"/>
<rect x="259.09" y="168.13" width="1.00" height="1.00" fill="#2a4cf2" fill-opacity="0.85"/>
<rect x="245.14" y="190.57" width="1.00" height="1.00" fill="#2a4cf2" fill-opacity="0.85"/>
<rect x="255.95" y="175.40" width="1.00" height="1.00" fill="#2a4cf2" fill-opacity="0.85"/>
<rect x="250.62" y="171.05" width="1.00" height="1.00" fill="#2a4cf2" fill-opacity="0.85"/>
<rect x="242.59" y="187.29" width="1.00" height="1.00" fill="#2a4cf2" fill-opacity="0.85"/>
<rect x="248.82" y="171.39" width="1.00" height="1.00" fill="#2a4cf2" fill-opacity="0.85"/>
<rect x="252.68" y="171.25" width="1.00" height="1.00" fill="#2a4cf2" fill-opacity="0.85"/>
<rect x="253.17" y="167.03" width="1.00" height="1.00" fill="#2a4cf2" fill-opacity="0.85"/>
<rect x="240.60" y="162.57" width="1.00" height="1.00" fill="#2a4cf2" fill-opacity="0.85"/>
<rect x="249.54" y="178.95" width="1.00" height="1.00" fill="#2a4cf2" fill-opacity="0.85"/>
<rect x="258.01" y="163.02" width="1.00" height="1.00" fill="#2a4cf2" fill-opacity="0.85"/>
<rect x="255.53" y="181.63" width="1.00" height="1.00" fill="#2a4cf2" fill-opacity="0.85"/>
<rect x="250.50" y="178.64" width="1.00" height="1.00" fill="#2a4cf2" fill-opacity="0.85"/>
<rect x="262.18" y="162.95" width="1.00" height="1.00" fill="#2a4cf2" fill-opacity="0.85"/>
<rect x="255.76" y="161.97" width="1.00" height="1.00" fill="#2a4cf2" fill-opacity="0.85"/>
<rect x="250.99" y="171.35" width="1.00" height="1.00" fill="#2a4cf2" fill-opacity="0.85"/>
<rect x="255.36" y="177.92" width="1.00" height="1.00" fill="#2a4cf2" fill-opacity="0.85"/>
<rect x="264.41" y="155.09" width="1.00" height="1.00" fill="#2a4cf2" fill-opacity="0.85"/>
<rect x="247.69" y="178.99" width="1.00" height="1.00" fill="#2a4cf2" fill-opacity="0.85"/>
<rect x="244.20" y="181.92" width="1.00" height="1.00" fill="#2a4cf2" fill-opacity="0.85"/>
<rect x="252.80" y="168.13" width="1.00" height="1.00" fill="#2a4cf2" fill-opacity="0.85"/>
<rect x="247.19" y="162.04" width="1.00" height="1.00" fill="#2a4cf2" fill-opacity="0.85"/>
<rect x="248.88" y="160.67" width="1.00" height="1.00" fill="#2a4cf2" fill-opacity="0.85"/>
<rect x="242.41" y="174.48" width="1.00" height="1.00" fill="#2a4cf2" fill-opacity="0.85"/>
<rect x="250.47" y="179.73" width="1.00" height="1.00" fill="#2a4cf2" fill-opacity="0.85"/>
<rect x="248.73" y="170.52" width="1.00" height="1.00" fill="#2a4cf2" fill-opacity="0.85"/>
<rect x="260.36" y="177.55" width="1.00" height="1.00" fill="#2a4cf2" fill-opacity="0.85"/>
<rect x="251.37" y="174.78" width="1.00" height="1.00" fill="#2a4cf2" fill-opacity="0.85"/>
<rect x="259.94" y="166.76" width="1.00" height="1.00" fill="#2a4cf2" fill-opacity="0.85"/>
<rect x="250.86" y="193.24" width="1.00" height="1.00" fill="#2a4cf2" fill-opacity="0.85"/>
<rect x="257.58" y="149.63" width="1.00" height="1.00" fill="#2a4cf2" fill-opacity="0.85"/>
<rect x="251.26" y="175.32" width="1.00" height="1.00" fill="#2a4cf2" fill-opacity="0.85"/>
<rect x="259.62" y="170.43" width="1.00" height="1.00" fill="#2a4cf2" fill-opacity="0.85"/>
<rect x="243.42" y="169.41" width="1.00" height="1.00" fill="#2a4cf2" fill-opacity="0.85"/>
<rect x="254.87" y="177.52" width="1.00" height="1.00" fill="#2a4cf2" fill-opacity="0.85"/>
<rect x="237.58" y="174.54" width="1.00" height="1.00" fill="#2a4cf2" fill-opacity="0.85"/>
<rect x="241.53" y="163.50" width="1.00" height="1.00" fill="#2a4cf2" fill-opacity="0.85"/>
<rect x="246.08" y="172.42" width="1.00" height="1.00" fill="#2a4cf2" fill-opacity="0.85"/>
<rect x="250.15" y="166.75" width="1.00" height="1.00" fill="#2a4cf2" fill-opacity="0.85"/>
<rect x="241.73" y="176.42" width="1.00" height="1.00" fill="#2a4cf2" fill-opacity="0.85"/>
<rect x="246.66" y="170.00" width="1.00" height="1.00" fill="#2a4cf2" fill-opacity="0.85"/>
<rect x="253.02" y="176.66" width="1.00" height="1.00" fill="#2a4cf2" fill-opacity="0.85"/>
<rect x="252.17" y="218.29" width="1.00" height="1.00" fill="#2a4cf2" fill-opacity="0.85"/>
<rect x="234.45" y="202.35" width="1.00" height="1.00" fill="#2a4cf2" fill-opacity="0.85"/>
<rect x="234.98" y="205.25" width="1.00" height="1.00" fill="#2a4cf2" fill-opacity="0.85"/>
<rect x="246.20" y="195.31" width="1.00" height="1.00" fill="#2a4cf2" fill-opacity="0.85"/>
<rect x="245.68" y="205.30" width="1.00" height="1.00" fill="#2a4cf2" fill-opacity="0.85"/>
<rect x="252.25" y="191.49" width="1.00" height="1.00" fill="#2a4cf2" fill-opacity="0.85"/>
<rect x="248.76" y="207.07" width="1.00" height="1.00" fill="#2a4cf2" fill-opacity="0.85"/>
<rect x="245.77" y="208.81" width="1.00" height="1.00" fill="#2a4cf2" fill-opacity="0.85"/>
<rect x="253.24" y="203.82" width="1.00" height="1.00" fill="#2a4cf2" fill-opacity="0.85"/>
<rect x="249.36" y="202.43" width="1.00" height="1.00" fill="#2a4cf2" fill-opacity="0.85"/>
<rect x="248.05" y="199.40" width="1.00" height="1.00" fill="#2a4cf2" fill-opacity="0.85"/>
<rect x="245.51" y="204.31" width="1.00" height="1.00" fill="#2a4cf2" fill-opacity="0.85"/>
<rect x="231.20" y="199.57" width="1.00" height="1.00" fill="#2a4cf2" fill-opacity="0.85"/>
<rect x="243.24" y="212.55" width="1.00" height="1.00" fill="#2a4cf2" fill-opacity="0.85"/>
<rect x="245.33" y="209.43" width="1.00" height="1.00" fill="#2a4cf2" fill-opacity="0.85"/>
<rect x="241.12" y="215.64" width="1.00" height="1.00" fill="#2a4cf2" fill-opacity="0.85"/>
<rect x="237.98" y="201.38" width="1.00" height="1.00" fill="#2a4cf2" fill-opacity="0.85"/>
<rect x="249.49" y="205.98" width="1.00" height="1.00" fill="#2a4cf2" fill-opacity="0.85"/>
<rect x="238.99" y="201.18" width="1.00" height="1.00" fill="#2a4cf2" fill-opacity="0.85"/>
<rect x="239.19" y="210.18" width="1.00" height="1.00" fill="#2a4cf2" fill-opacity="0.85"/>
<rect x="244.68" y="196.43" width="1.00" height="1.00" fill="#2a4cf2" fill-opacity="0.85"/>
<rect x="245.34" y="206.84" width="1.00" height="1.00" fill="#2a4cf2" fill-opacity="0.85"/>
<rect x="232.50" y="211.30" width="1.00" height="1.00" fill="#2a4cf2" fill-opacity="0.85"/>
<rect x="238.98" y="202.98" width="1.00" height="1.00" fill="#2a4cf2" fill-opacity="0.85"/>
<rect x="248.66" y="215.41" width="1.00" height="1.00" fill="#2a4cf2" fill-opacity="0.85"/>
<rect x="235.30" y="208.79" width="1.00" height="1.00" fill="#2a4cf2" fill-opacity="0.85"/>
<rect x="237.06" y="214.46" width="1.00" height="1.00" fill="#2a4cf2" fill-opacity="0.85"/>
<rect x="235.67" y="211.58" width="1.00" height="1.00" fill="#2a4cf2" fill-opacity="0.85"/>
<rect x="261.47" y="186.44" width="1.00" height="1.00" fill="#2a4cf2" fill-opacity="0.85"/>
<rect x="237.59" y="209.25" width="1.00" height="1.00" fill="#2a4cf2" fill-opacity="0.85"/>
<rect x="240.66" y="200.49" width="1.00" height="1.00" fill="#2a4cf2" fill-opacity="0.85"/>
<rect x="260.87" y="206.10" width="1.00" height="1.00" fill="#2a4cf2" fill-opacity="0.85"/>
<rect x="226.70" y="211.91" width="1.00" height="1.00" fill="#2a4cf2" fill-opacity="0.85"/>
<rect x="236.30" y="206.59" width="1.00" height="1.00" fill="#2a4cf2" fill-opacity="0.85"/>
<rect x="252.85" y="206.38" width="1.00" height="1.00" fill="#2a4cf2" fill-opacity="0.85"/>
<rect x="228.98" y="192.78" width="1.00" height="1.00" fill="#2a4cf2" fill-opacity="0.85"/>
<rect x="252.14" y="211.05" width="1.00" height="1.00" fill="#2a4cf2" fill-opacity="0.85"/>
<rect x="234.16" y="211.95" width="1.00" height="1.00" fill="#2a4cf2" fill-opacity="0.85"/>
<rect x="245.97" y="210.36" width="1.00" height="1.00" fill="#2a4cf2" fill-opacity="0.85"/>
<rect x="249.60" y="211.00" width="1.00" height="1.00" fill="#2a4cf2" fill-opacity="0.85"/>
<rect x="249.43" y="187.07" width="1.00" height="1.00" fill="#2a4cf2" fill-opacity="0.85"/>
<rect x="243.02" y="209.19" width="1.00" height="1.00" fill="#2a4cf2" fill-opacity="0.85"/>
<rect x="264.47" y="198.35" width="1.00" height="1.00" fill="#2a4cf2" fill-opacity="0.85"/>
<rect x="238.54" y="205.77" width="1.00" height="1.00" fill="#2a4cf2" fill-opacity="0.85"/>
<rect x="249.47" y="202.18" width="1.00" height="1.00" fill="#2a4cf2" fill-opacity="0.85"/>
<rect x="251.83" y="199.59" width="1.00" height="1.00" fill="#2a4cf2" fill-opacity="0.85"/>
<rect x="243.90" y="201.54" width="1.00" height="1.00" fill="#2a4cf2" fill-opacity="0.85"/>
<rect x="242.92" y="200.32" width="1.00" height="1.00" fill="#2a4cf2" fill-opacity="0.85"/>
<rect x="227.12" y="213.70" width="1.00" height="1.00" fill="#2a4cf2" fill-opacity="0.85"/>
<rect x="244.23" y="201.31" width="1.00" height="1.00" fill="#2a4cf2" fill-opacity="0.85"/>
<rect x="243.31" y="212.93" width="1.00" height="1.00" fill="#2a4cf2" fill-opacity="0.85"/>
<rect x="232.70" y="204.67" width="1.00" height="1.00" fill="#2a4cf2" fill-opacity="0.85"/>
<rect x="246.35" y="209.45" width="1.00" height="1.00" fill="#2a4cf2" fill-opacity="0.85"/>
<rect x="238.48" y="189.70" width="1.00" height="1.00" fill="#2a4cf2" fill-opacity="0.85"/>
<rect x="252.69" y="207.96" width="1.00" height="1.00" fill="#2a4cf2" fill-opacity="0.85"/>
<rect x="241.62" y="203.41" width="1.00" height="1.00" fill="#2a4cf2" fill-opacity="0.85"/>
<rect x="243.87" y="202.31" width="1.00" height="1.00" fill="#2a4cf2" fill-opacity="0.85"/>
<rect x="232.28" y="199.95" width="1.00" height="1.00" fill="#2a4cf2" fill-opacity="0.85"/>
<rect x="236.13" y="200.91" width="1.00" height="1.00" fill="#2a4cf2" fill-opacity="0.85"/>
<rect x="231.07" y="210.27" width="1.00" height="1.00" fill="#2a4cf2" fill-opacity="0.85"/>
<rect x="229.71" y="210.45" width="1.00" height="1.00" fill="#2a4cf2" fill-opacity="0.85"/>
<rect x="232.37" y="208.14" width="1.00" height="1.00" fill="#2a4cf2" fill-opacity="0.85"/>
<rect x="253.87" y="207.02" width="1.00" height="1.00" fill="#2a4cf2" fill-opacity="0.85"/>
<rect x="234.92" y="205.86" width="1.00" height="1.00" fill="#2a4cf2" fill-opacity="0.85"/>
<rect x="242.83" y="192.50" width="1.00" height="1.00" fill="#2a4cf2" fill-opacity="0.85"/>
<rect x="236.03" y="206.72" width="1.00" height="1.00" fill="#2a4cf2" fill-opacity="0.85"/>
<rect x="237.28" y="206.10" width="1.00" height="1.00" fill="#2a4cf2" fill-opacity="0.85"/>
<rect x="248.11" y="211.25" width="1.00" height="1.00" fill="#2a4cf2" fill-opacity="0.85"/>
<rect x="249.65" y="209.91" width="1.00" height="1.00" fill="#2a4cf2" fill-opacity="0.85"/>
<rect x="238.91" y="205.36" width="1.00" height="1.00" fill="#2a4cf2" fill-opacity="0.85"/>
<rect x="239.06" y="203.15" width="1.00" height="1.00" fill="#2a4cf2" fill-opacity="0.85"/>
<rect x="239.88" y="192.56" width="1.00" height="1.00" fill="#2a4cf2" fill-opacity="0.85"/>
<rect x="238.50" y="205.32" width="1.00" height="1.00" fill="#2a4cf2" fill-opacity="0.85"/>
<rect x="232.73" y="205.32" width="1.00" height="1.00" fill="#2a4cf2" fill-opacity="0.85"/>
<rect x="246.14" y="204.27" width="1.00" height="1.00" fill="#2a4cf2" fill-opacity="0.85"/>
<rect x="260.19" y="185.95" width="1.00" height="1.00" fill="#2a4cf2" fill-opacity="0.85"/>
<rect x="239.64" y="191.81" width="1.00" height="1.00" fill="#2a4cf2" fill-opacity="0.85"/>
<rect x="246.17" y="203.23" width="1.00" height="1.00" fill="#2a4cf2" fill-opacity="0.85"/>
<rect x="246.46" y="188.68" width="1.00" height="1.00" fill="#2a4cf2" fill-opacity="0.85"/>
<rect x="249.17" y="208.29" width="1.00" height="1.00" fill="#2a4cf2" fill-opacity="0.85"/>
<rect x="241.71" y="201.09" width="1.00" height="1.00" fill="#2a4cf2" fill-opacity="0.85"/>
<rect x="247.25" y="201.86" width="1.00" height="1.00" fill="#2a4cf2" fill-opacity="0.85"/>
<rect x="243.51" y="201.67" width="1.00" height="1.00" fill="#2a4cf2" fill-opacity="0.85"/>
<rect x="243.32" y="211.16" width="1.00" height="1.00" fill="#2a4cf2" fill-opacity="0.85"/>
<rect x="233.62" y="205.25" width="1.00" height="1.00" fill="#2a4cf2" fill-opacity="0.85"/>
<rect x="247.05" y="206.59" width="1.00" height="1.00" fill="#2a4cf2" fill-opacity="0.85"/>
<rect x="233.32" y="191.09" width="1.00" height="1.00" fill="#2a4cf2" fill-opacity="0.85"/>
<rect x="249.21" y="216.97" width="1.00" height="1.00" fill="#2a4cf2" fill-opacity="0.85"/>
<rect x="249.80" y="211.60" width="1.00" height="1.00" fill="#2a4cf2" fill-opacity="0.85"/>
<rect x="235.93" y="200.15" width="1.00" height="1.00" fill="#2a4cf2" fill-opacity="0.85"/>
<rect x="249.50" y="198.66" width="1.00" height="1.00" fill="#2a4cf2" fill-opacity="0.85"/>
<rect x="235.32" y="200.03" width="1.00" height="1.00" fill="#2a4cf2" fill-opacity="0.85"/>
<rect x="243.58" y="199.88" width="1.00" height="1.00" fill="#2a4cf2" fill-opacity="0.85"/>
<rect x="253.29" y="204.91" width="1.00" height="1.00" fill="#2a4cf2" fill-opacity="0.85"/>
<rect x="231.72" y="215.32" width="1.00" height="1.00" fill="#2a4cf2" fill-opacity="0.85"/>
<rect x="236.25" y="207.16" width="1.00" height="1.00" fill="#2a4cf2" fill-opacity="0.85"/>
<rect x="241.39" y="203.14" width="1.00" height="1.00" fill="#2a4cf2" fill-opacity="0.85"/>
<rect x="244.42" y="200.31" width="1.00" height="1.00" fill="#2a4cf2" fill-opacity="0.85"/>
<rect x="230.10" y="199.81" width="1.00" height="1.00" fill="#2a4cf2" fill-opacity="0.85"/>
<rect x="241.29" y="205.91" width="1.00" height="1.00" fill="#2a4cf2" fill-opacity="0.85"/>
<rect x="246.50" y="206.40" width="1.00" height="1.00" fill="#2a4cf2" fill-opacity="0.85"/>
<rect x="234.36" y="200.18" width="1.00" height="1.00" fill="#2a4cf2" fill-opacity="0.85"/>
<rect x="245.86" y="209.47" width="1.00" height="1.00" fill="#2a4cf2" fill-opacity="0.85"/>
<rect x="240.41" y="204.19" width="1.00" height="1.00" fill="#2a4cf2" fill-opacity="0.85"/>
<rect x="249.93" y="205.62" width="1.00" height="1.00" fill="#2a4cf2" fill-opacity="0.85"/>
<rect x="248.14" y="209.87" width="1.00" height="1.00" fill="#2a4cf2" fill-opacity="0.85"/>
<rect x="243.42" y="215.30" width="1.00" height="1.00" fill="#2a4cf2" fill-opacity="0.85"/>
<rect x="236.35" y="202.81" width="1.00" height="1.00" fill="#2a4cf2" fill-opacity="0.85"/>
<rect x="234.23" y="199.52" width="1.00" height="1.00" fill="#2a4cf2" fill-opacity="0.85"/>
<rect x="241.71" y="209.76" width="1.00" height="1.00" fill="#2a4cf2" fill-opacity="0.85"/>
<rect x="252.08" y="211.56" width="1.00" height="1.00" fill="#2a4cf2" fill-opacity="0.85"/>
<rect x="252.35" y="196.03" width="1.00" height="1.00" fill="#2a4cf2" fill-opacity="0.85"/>
<rect x="235.75" y="208.89" width="1.00" height="1.00" fill="#2a4cf2" fill-opacity="0.85"/>
<rect x="254.42" y="206.28" width="1.00" height="1.00" fill="#2a4cf2" fill-opacity="0.85"/>
<rect x="233.77" y="202.84" width="1.00" height="1.00" fill="#2a4cf2" fill-opacity="0.85"/>
<rect x="235.55" y="199.06" width="1.00" height="1.00" fill="#2a4cf2" fill-opacity="0.85"/>
<rect x="255.01" y="200.81" width="1.00" height="1.00" fill="#2a4cf2" fill-opacity="0.85"/>
<rect x="252.16" y="208.02" width="1.00" height="1.00" fill="#2a4cf2" fill-opacity="0.85"/>
<rect x="235.99" y="208.58" width="1.00" height="1.00" fill="#2a4cf2" fill-opacity="0.85"/>
<rect x="256.10" y="210.17" width="1.00" height="1.00" fill="#2a4cf2" fill-opacity="0.85"/>
<rect x="252.85" y="206.24" width="1.00" height="1.00" fill="#2a4cf2" fill-opacity="0.85"/>
<rect x="246.15" y="203.99" width="1.00" height="1.00" fill="#2a4cf2" fill-opacity="0.85"/>
<rect x="245.34" y="215.25" width="1.00" height="1.00" fill="#2a4cf2" fill-opacity="0.85"/>
<rect x="228.62" y="205.03" width="1.00" height="1.00" fill="#2a4cf2" fill-opacity="0.85"/>
<rect x="243.66" y="201.22" width="1.00" height="1.00" fill="#2a4cf2" fill-opacity="0.85"/>
<rect x="238.73" y="211.40" width="1.00" height="1.00" fill="#2a4cf2" fill-opacity="0.85"/>
<rect x="259.51" y="210.22" width="1.00" height="1.00" fill="#2a4cf2" fill-opacity="0.85"/>
<rect x="244.44" y="193.86" width="1.00" height="1.00" fill="#2a4cf2" fill-opacity="0.85"/>
<rect x="258.85" y="206.08" width="1.00" height="1.00" fill="#2a4cf2" fill-opacity="0.85"/>
<rect x="241.20" y="197.11" width="1.00" height="1.00" fill="#2a4cf2" fill-opacity="0.85"/>
<rect x="240.99" y="197.28" width="1.00" height="1.00" fill="#2a4cf2" fill-opacity="0.85"/>
<rect x="242.14" y="209.00" width="1.00" height="1.00" fill="#2a4cf2" fill-opacity="0.85"/>
<rect x="241.78" y="207.60" width="1.00" height="1.00" fill="#2a4cf2" fill-opacity="0.85"/>
<rect x="233.83" y="216.22" width="1.00" height="1.00" fill="#2a4cf2" fill-opacity="0.85"/>
<rect x="235.62" y="191.86" width="1.00" height="1.00" fill="#2a4cf2" fill-opacity="0.85"/>
<rect x="239.81" y="199.77" width="1.00" height="1.00" fill="#2a4cf2" fill-opacity="0.85"/>
<rect x="232.41" y="202.84" width="1.00" height="1.00" fill="#2a4cf2" fill-opacity="0.85"/>
<rect x="244.12" y="196.64" width="1.00" height="1.00" fill="#2a4cf2" fill-opacity="0.85"/>
<rect x="240.26" y="216.20" width="1.00" height="1.00" fill="#2a4cf2" fill-opacity="0.85"/>
<rect x="247.64" y="204.36" width="1.00" height="1.00" fill="#2a4cf2" fill-opacity="0.85"/>
<rect x="242.65" y="204.60" width="1.00" height="1.00" fill="#2a4cf2" fill-opacity="0.85"/>
<rect x="241.07" y="210.99" width="1.00" height="1.00" fill="#2a4cf2" fill-opacity="0.85"/>
<rect x="240.67" y="187.47" width="1.00" height="1.00" fill="#2a4cf2" fill-opacity="0.85"/>
<rect x="241.31" y="198.83" width="1.00" height="1.00" fill="#2a4cf2" fill-opacity="0.85"/>
<rect x="247.36" y="200.92" width="1.00" height="1.00" fill="#2a4cf2" fill-opacity="0.85"/>
<rect x="232.08" y="197.07" width="1.00" height="1.00" fill="#2a4cf2" fill-opacity="0.85"/>
<rect x="228.80" y="187.54" width="1.00" height="1.00" fill="#2a4cf2" fill-opacity="0.85"/>
<rect x="235.76" y="191.49" width="1.00" height="1.00" fill="#2a4cf2" fill-opacity="0.85"/>
<rect x="228.16" y="210.13" width="1.00" height="1.00" fill="#2a4cf2" fill-opacity="0.85"/>
<rect x="234.52" y="202.75" width="1.00" height="1.00" fill="#2a4cf2" fill-opacity="0.85"/>
<rect x="244.47" y="215.67" width="1.00" height="1.00" fill="#2a4cf2" fill-opacity="0.85"/>
<rect x="258.97" y="213.24" width="1.00" height="1.00" fill="#2a4cf2" fill-opacity="0.85"/>
<rect x="242.79" y="206.88" width="1.00" height="1.00" fill="#2a4cf2" fill-opacity="0.85"/>
<rect x="257.72" y="216.21" width="1.00" height="1.00" fill="#2a4cf2" fill-opacity="0.85"/>
<rect x="238.71" y="208.93" width="1.00" height="1.00" fill="#2a4cf2" fill-opacity="0.85"/>
<rect x="244.08" y="205.89" width="1.00" height="1.00" fill="#2a4cf2" fill-opacity="0.85"/>
<rect x="237.00" y="195.55" width="1.00" height="1.00" fill="#2a4cf2" fill-opacity="0.85"/>
<rect x="236.69" y="193.92" width="1.00" height="1.00" fill="#2a4cf2" fill-opacity="0.85"/>
<rect x="252.51" y="209.52" width="1.00" height="1.00" fill="#2a4cf2" fill-opacity="0.85"/>
<rect x="230.65" y="215.97" width="1.00" height="1.00" fill="#2a4cf2" fill-opacity="0.85"/>
<rect x="249.53" y="191.19" width="1.00" height="1.00" fill="#2a4cf2" fill-opacity="0.85"/>
<rect x="258.07" y="211.57" width="1.00" height="1.00" fill="#2a4cf2" fill-opacity="0.85"/>
<rect x="260.08" y="196.27" width="1.00" height="1.00" fill="#2a4cf2" fill-opacity="0.85"/>
<rect x="246.28" y="208.67" width="1.00" height="1.00" fill="#2a4cf2" fill-opacity="0.85"/>
<rect x="243.32" y="206.78" width="1.00" height="1.00" fill="#2a4cf2" fill-opacity="0.85"/>
<rect x="250.98" y="194.29" width="1.00" height="1.00" fill="#2a4cf2" fill-opacity="0.85"/>
<rect x="230.32" y="195.04" width="1.00" height="1.00" fill="#2a4cf2" fill-opacity="0.85"/>
<rect x="236.48" y="200.96" width="1.00" height="1.00" fill="#2a4cf2" fill-opacity="0.85"/>
<rect x="244.81" y="207.50" width="1.00" height="1.00" fill="#2a4cf2" fill-opacity="0.85"/>
<rect x="241.78" y="200.43" width="1.00" height="1.00" fill="#2a4cf2" fill-opacity="0.85"/>
<rect x="237.52" y="212.64" width="1.00" height="1.00" fill="#2a4cf2" fill-opacity="0.85"/>
<rect x="248.37" y="206.26" width="1.00" height="1.00" fill="#2a4cf2" fill-opacity="0.85"/>
<rect x="238.60" y="217.15" width="1.00" height="1.00" fill="#2a4cf2" fill-opacity="0.85"/>
<rect x="236.15" y="210.36" width="1.00" height="1.00" fill="#2a4cf2" fill-opacity="0.85"/>
<rect x="251.88" y="203.51" width="1.00" height="1.00" fill="#2a4cf2" fill-opacity="0.85"/>
<rect x="248.93" y="197.13" width="1.00" height="1.00" fill="#2a4cf2" fill-opacity="0.85"/>
<rect x="250.61" y="207.00" width="1.00" height="1.00" fill="#2a4cf2" fill-opacity="0.85"/>
<rect x="227.22" y="210.52" width="1.00" height="1.00" fill="#2a4cf2" fill-opacity="0.85"/>
<rect x="233.47" y="215.11" width="1.00" height="1.00" fill="#2a4cf2" fill-opacity="0.85"/>
<rect x="235.39" y="204.26" width="1.00" height="1.00" fill="#2a4cf2" fill-opacity="0.85"/>
<rect x="244.05" y="203.01" width="1.00" height="1.00" fill="#2a4cf2" fill-opacity="0.85"/>
<rect x="243.84" y="201.35" width="1.00" height="1.00" fill="#2a4cf2" fill-opacity="0.85"/>
<rect x="247.55" y="205.54" width="1.00" height="1.00" fill="#2a4cf2" fill-opacity="0.85"/>
<rect x="243.40" y="184.86" width="1.00" height="1.00" fill="#2a4cf2" fill-opacity="0.85"/>
<rect x="251.95" y="205.74" width="1.00" height="1.00" fill="#2a4cf2" fill-opacity="0.85"/>
<rect x="245.70" y="213.53" width="1.00" height="1.00" fill="#2a4cf2" fill-opacity="0.85"/>
<rect x="231.76" y="217.10" width="1.00" height="1.00" fill="#2a4cf2" fill-opacity="0.85"/>
<rect x="240.18" y="210.60" width="1.00" height="1.00" fill="#2a4cf2" fill-opacity="0.85"/>
<rect x="238.20" y="197.13" width="1.00" height="1.00" fill="#2a4cf2" fill-opacity="0.85"/>
<rect x="251.37" y="212.30" width="1.00" height="1.00" fill="#2a4cf2" fill-opacity="0.85"/>
<rect x="255.35" y="211.93" width="1.00" height="1.00" fill="#2a4cf2" fill-opacity="0.85"/>
<rect x="236.34" y="193.03" width="1.00" height="1.00" fill="#2a4cf2" fill-opacity="0.85"/>
<rect x="235.64" y="200.44" width="1.00" height="1.00" fill="#2a4cf2" fill-opacity="0.85"/>
<rect x="234.16" y="209.87" width="1.00" height="1.00" fill="#2a4cf2" fill-opacity="0.85"/>
<rect x="244.45" y="203.48" width="1.00" height="1.00" fill="#2a4cf2" fill-opacity="0.85"/>
<rect x="243.05" y="204.41" width="1.00" height="1.00" fill="#2a4cf2" fill-opacity="0.85"/>
<rect x="243.42" y="211.14" width="1.00" height="1.00" fill="#2a4cf2" fill-opacity="0.85"/>
<rect x="250.14" y="200.36" width="1.00" height="1.00" fill="#2a4cf2" fill-opacity="0.85"/>
<rect x="227.94" y="216.21" width="1.00" height="1.00" fill="#2a4cf2" fill-opacity="0.85"/>
<rect x="242.53" y="213.79" width="1.00" height="1.00" fill="#2a4cf2" fill-opacity="0.85"/>
<rect x="226.71" y="203.03" width="1.00" height="1.00" fill="#2a4cf2" fill-opacity="0.85"/>
<rect x="241.74" y="194.69" width="1.00" height="1.00" fill="#2a4cf2" fill-opacity="0.85"/>
<rect x="236.86" y="210.93" width="1.00" height="1.00" fill="#2a4cf2" fill-opacity="0.85"/>
<rect x="251.21" y="217.46" width="1.00" height="1.00" fill="#2a4cf2" fill-opacity="0.85"/>
<rect x="233.73" y="194.99" width="1.00" height="1.00" fill="#2a4cf2" fill-opacity="0.85"/>
<rect x="246.18" y="212.55" width="1.00" height="1.00" fill="#2a4cf2" fill-opacity="0.85"/>
<rect x="243.24" y="195.74" width="1.00" height="1.00" fill="#2a4cf2" fill-opacity="0.85"/>
<rect x="248.54" y="211.44" width="1.00" height="1.00" fill="#2a4cf2" fill-opacity="0.85"/>
<rect x="246.48" y="201.85" width="1.00" height="1.00" fill="#2a4cf2" fill-opacity="0.85"/>
<rect x="244.24" y="211.43" width="1.00" height="1.00" fill="#2a4cf2" fill-opacity="0.85"/>
<rect x="236.47" y="191.67" width="1.00" height="1.00" fill="#2a4cf2" fill-opacity="0.85"/>
<rect x="244.46" y="209.11" width="1.00" height="1.00" fill="#2a4cf2" fill-opacity="0.85"/>
<rect x="241.62" y="212.17" width="1.00" height="1.00" fill="#2a4cf2" fill-opacity="0.85"/>
<rect x="236.22" y="204.88" width="1.00" height="1.00" fill="#2a4cf2" fill-opacity="0.85"/>
<rect x="238.75" y="209.79" width="1.00" height="1.00" fill="#2a4cf2" fill-opacity="0.85"/>
<rect x="255.86" y="203.62" width="1.00" height="1.00" fill="#2a4cf2" fill-opacity="0.85"/>
<rect x="259.99" y="216.97" width="1.00" height="1.00" fill="#2a4cf2" fill-opacity="0.85"/>
<rect x="248.62" y="209.90" width="1.00" height="1.00" fill="#2a4cf2" fill-opacity="0.85"/>
<rect x="257.44" y="204.15" width="1.00" height="1.00" fill="#2a4cf2" fill-opacity="0.85"/>
<rect x="240.49" y="197.53" width="1.00" height="1.00" fill="#2a4cf2" fill-opacity="0.85"/>
<rect x="245.76" y="215.59" width="1.00" height="1.00" fill="#2a4cf2" fill-opacity="0.85"/>
<rect x="246.29" y="208.67" width="1.00" height="1.00" fill="#2a4cf2" fill-opacity="0.85"/>
<rect x="239.69" y="206.77" width="1.00" height="1.00" fill="#2a4cf2" fill-opacity="0.85"/>
<rect x="228.67" y="213.37" width="1.00" height="1.00" fill="#2a4cf2" fill-opacity="0.85"/>
<rect x="237.81" y="197.22" width="1.00" height="1.00" fill="#2a4cf2" fill-opacity="0.85"/>
<rect x="234.74" y="199.32" width="1.00" height="1.00" fill="#2a4cf2" fill-opacity="0.85"/>
<rect x="249.20" y="213.44" width="1.00" height="1.00" fill="#2a4cf2" fill-opacity="0.85"/>
<rect x="229.28" y="212.45" width="1.00" height="1.00" fill="#2a4cf2" fill-opacity="0.85"/>
<rect x="249.49" y="201.15" width="1.00" height="1.00" fill="#2a4cf2" fill-opacity="0.85"/>
<rect x="228.12" y="199.91" width="1.00" height="1.00" fill="#2a4cf2" fill-opacity="0.85"/>
<rect x="235.80" y="208.07" width="1.00" height="1.00" fill="#2a4cf2" fill-opacity="0.85"/>
<rect x="238.28" y="190.29" width="1.00" height="1.00" fill="#2a4cf2" fill-opacity="0.85"/>
<rect x="243.60" y="193.99" width="1.00" height="1.00" fill="#2a4cf2" fill-opacity="0.85"/>
<rect x="249.65" y="196.45" width="1.00" height="1.00" fill="#2a4cf2" fill-opacity="0.85"/>
<rect x="235.26" y="199.09" width="1.00" height="1.00" fill="#2a4cf2" fill-opacity="0.85"/>
<rect x="236.62" y="215.24" width="1.00" height="1.00" fill="#2a4cf2" fill-opacity="0.85"/>
<rect x="249.17" y="210.01" width="1.00" height="1.00" fill="#2a4cf2" fill-opacity="0.85"/>
<rect x="244.37" y="193.89" width="1.00" height="1.00" fill="#2a4cf2" fill-opacity="0.85"/>
<rect x="236.81" y="201.36" width="1.00" height="1.00" fill="#2a4cf2" fill-opacity="0.85"/>
<rect x="232.70" y="209.32" width="1.00" height="1.00" fill="#2a4cf2" fill-opacity="0.85"/>
<rect x="234.83" y="200.18" width="1.00" height="1.00" fill="#2a4cf2" fill-opacity="0.85"/>
<rect x="232.10" y="190.07" width="1.00" height="1.00" fill="#2a4cf2" fill-opacity="0.85"/>
<rect x="246.86" y="215.48" width="1.00" height="1.00" fill="#2a4cf2" fill-opacity="0.85"/>
<rect x="243.07" y="198.18" width="1.00" height="1.00" fill="#2a4cf2" fill-opacity="0.85"/>
<rect x="252.45" y="207.73" width="1.00" height="1.00" fill="#2a4cf2" fill-opacity="0.85"/>
<rect x="249.84" y="216.59" width="1.00" height="1.00" fill="#2a4cf2" fill-opacity="0.85"/>
<rect x="251.64" y="202.19" width="1.00" height="1.00" fill="#2a4cf2" fill-opacity="0.85"/>
<rect x="250.97" y="211.32" width="1.00" height="1.00" fill="#2a4cf2" fill-opacity="0.85"/>
<rect x="227.67" y="202.46" width="1.00" height="1.00" fill="#2a4cf2" fill-opacity="0.85"/>
<rect x="228.69" y="204.68" width="1.00" height="1.00" fill="#2a4cf2" fill-opacity="0.85"/>
<rect x="246.70" y="197.49" width="1.00" height="1.00" fill="#2a4cf2" fill-opacity="0.85"/>
<rect x="244.89" y="216.53" width="1.00" height="1.00" fill="#2a4cf2" fill-opacity="0.85"/>
<rect x="229.59" y="213.45" width="1.00" height="1.00" fill="#2a4cf2" fill-opacity="0.85"/>
<rect x="239.61" y="207.52" width="1.00" height="1.00" fill="#2a4cf2" fill-opacity="0.85"/>
<rect x="240.11" y="212.99" width="1.00" height="1.00" fill="#2a4cf2" fill-opacity="0.85"/>
<rect x="250.84" y="206.15" width="1.00" height="1.00" fill="#2a4cf2" fill-opacity="0.85"/>
<rect x="229.27" y="211.06" width="1.00" height="1.00" fill="#2a4cf2" fill-opacity="0.85"/>
<rect x="237.27" y="210.22" width="1.00" height="1.00" fill="#2a4cf2" fill-opacity="0.85"/>
<rect x="243.87" y="217.68" width="1.00" height="1.00" fill="#2a4cf2" fill-opacity="0.85"/>
<rect x="251.74" y="202.12" width="1.00" height="1.00" fill="#2a4cf2" fill-opacity="0.85"/>
<rect x="236.66" y="208.75" width="1.00" height="1.00" fill="#2a4cf2" fill-opacity="0.85"/>
<rect x="252.22" y="214.93" width="1.00" height="1.00" fill="#2a4cf2" fill-opacity="0.85"/>
<rect x="246.17" y="195.60" width="1.00" height="1.00" fill="#2a4cf2" fill-opacity="0.85"/>
<rect x="230.15" y="207.36" width="1.00" height="1.00" fill="#2a4cf2" fill-opacity="0.85"/>
<rect x="233.75" y="214.03" width="1.00" height="1.00" fill="#2a4cf2" fill-opacity="0.85"/>
<rect x="248.43" y="192.96" width="1.00" height="1.00" fill="#2a4cf2" fill-opacity="0.85"/>
<rect x="234.14" y="206.75" width="1.00" height="1.00" fill="#2a4cf2" fill-opacity="0.85"/>
<rect x="237.06" y="204.34" width="1.00" height="1.00" fill="#2a4cf2" fill-opacity="0.85"/>
<rect x="245.73" y="199.43" width="1.00" height="1.00" fill="#2a4cf2" fill-opacity="0.85"/>
<rect x="245.70" y="200.73" width="1.00" height="1.00" fill="#2a4cf2" fill-opacity="0.85"/>
<rect x="236.60" y="209.53" width="1.00" height="1.00" fill="#2a4cf2" fill-opacity="0.85"/>
<rect x="236.34" y="207.65" width="1.00" height="1.00" fill="#2a4cf2" fill-opacity="0.85"/>
<rect x="255.89" y="205.70" width="1.00" height="1.00" fill="#2a4cf2" fill-opacity="0.85"/>
<rect x="240.19" y="211.01" width="1.00" height="1.00" fill="#2a4cf2" fill-opacity="0.85"/>
<rect x="238.21" y="213.62" width="1.00" height="1.00" fill="#2a4cf2" fill-opacity="0.85"/>
<rect x="229.95" y="210.14" width="1.00" height="1.00" fill="#2a4cf2" fill-opacity="0.85"/>
<rect x="236.89" y="199.51" width="1.00" height="1.00" fill="#2a4cf2" fill-opacity="0.85"/>
<rect x="257.43" y="199.12" width="1.00" height="1.00" fill="#2a4cf2" fill-opacity="0.85"/>
<rect x="257.31" y="210.44" width="1.00" height="1.00" fill="#2a4cf2" fill-opacity="0.85"/>
<rect x="254.58" y="198.17" width="1.00" height="1.00" fill="#2a4cf2" fill-opacity="0.85"/>
<rect x="252.29" y="216.43" width="1.00" height="1.00" fill="#2a4cf2" fill-opacity="0.85"/>
<rect x="240.45" y="204.53" width="1.00" height="1.00" fill="#2a4cf2" fill-opacity="0.85"/>
<rect x="263.60" y="206.83" width="1.00" height="1.00" fill="#2a4cf2" fill-opacity="0.85"/>
<rect x="237.70" y="200.78" width="1.00" height="1.00" fill="#2a4cf2" fill-opacity="0.85"/>
<rect x="245.51" y="207.98" width="1.00" height="1.00" fill="#2a4cf2" fill-opacity="0.85"/>
<rect x="238.55" y="209.05" width="1.00" height="1.00" fill="#2a4cf2" fill-opacity="0.85"/>
<rect x="254.63" y="197.97" width="1.00" height="1.00" fill="#2a4cf2" fill-opacity="0.85"/>
<rect x="229.31" y="197.27" width="1.00" height="1.00" fill="#2a4cf2" fill-opacity="0.85"/>
<rect x="232.15" y="191.65" width="1.00" height="1.00" fill="#2a4cf2" fill-opacity="0.85"/>
<rect x="245.57" y="191.58" width="1.00" height="1.00" fill="#2a4cf2" fill-opacity="0.85"/>
<rect x="245.99" y="216.40" width="1.00" height="1.00" fill="#2a4cf2" fill-opacity="0.85"/>
<rect x="226.96" y="203.13" width="1.00" height="1.00" fill="#2a4cf2" fill-opacity="0.85"/>
<rect x="234.86" y="203.51" width="1.00" height="1.00" fill="#2a4cf2" fill-opacity="0.85"/>
<rect x="241.99" y="209.59" width="1.00" height="1.00" fill="#2a4cf2" fill-opacity="0.85"/>
<rect x="238.38" y="205.61" width="1.00" height="1.00" fill="#2a4cf2" fill-opacity="0.85"/>
<rect x="236.58" y="206.36" width="1.00" height="1.00" fill="#2a4cf2" fill-opacity="0.85"/>
<rect x="230.95" y="205.98" width="1.00" height="1.00" fill="#2a4cf2" fill-opacity="0.85"/>
<rect x="258.74" y="206.10" width="1.00" height="1.00" fill="#2a4cf2" fill-opacity="0.85"/>
<rect x="230.16" y="207.43" width="1.00" height="1.00" fill="#2a4cf2" fill-opacity="0.85"/>
<rect x="232.75" y="193.12" width="1.00" height="1.00" fill="#2a4cf2" fill-opacity="0.85"/>
<rect x="234.87" y="211.03" width="1.00" height="1.00" fill="#2a4cf2" fill-opacity="0.85"/>
<rect x="244.96" y="204.77" width="1.00" height="1.00" fill="#2a4cf2" fill-opacity="0.85"/>
<rect x="233.16" y="197.41" width="1.00" height="1.00" fill="#2a4cf2" fill-opacity="0.85"/>
<rect x="253.65" y="207.33" width="1.00" height="1.00" fill="#2a4cf2" fill-opacity="0.85"/>
<rect x="232.93" y="189.67" width="1.00" height="1.00" fill="#2a4cf2" fill-opacity="0.85"/>
<rect x="231.16" y="204.92" width="1.00" height="1.00" fill="#2a4cf2" fill-opacity="0.85"/>
<rect x="243.39" y="204.32" width="1.00" height="1.00" fill="#2a4cf2" fill-opacity="0.85"/>
<rect x="239.00" y="195.20" width="1.00" height="1.00" fill="#2a4cf2" fill-opacity="0.85"/>
<rect x="232.04" y="218.17" width="1.00" height="1.00" fill="#2a4cf2" fill-opacity="0.85"/>
<rect x="234.69" y="211.84" width="1.00" height="1.00" fill="#2a4cf2" fill-opacity="0.85"/>
<rect x="243.85" y="213.27" width="1.00" height="1.00" fill="#2a4cf2" fill-opacity="0.85"/>
<rect x="231.40" y="209.97" width="1.00" height="1.00" fill="#2a4cf2" fill-opacity="0.85"/>
<rect x="244.97" y="199.97" width="1.00" height="1.00" fill="#2a4cf2" fill-opacity="0.85"/>
<rect x="245.79" y="198.76" width="1.00" height="1.00" fill="#2a4cf2" fill-opacity="0.85"/>
<rect x="234.34" y="205.36" width="1.00" height="1.00" fill="#2a4cf2" fill-opacity="0.85"/>
<rect x="232.50" y="194.53" width="1.00" height="1.00" fill="#2a4cf2" fill-opacity="0.85"/>
<rect x="237.67" y="211.22" width="1.00" height="1.00" fill="#2a4cf2" fill-opacity="0.85"/>
<rect x="237.86" y="214.99" width="1.00" height="1.00" fill="#2a4cf2" fill-opacity="0.85"/>
<rect x="231.06" y="195.66" width="1.00" height="1.00" fill="#2a4cf2" fill-opacity="0.85"/>
<rect x="255.46" y="208.49" width="1.00" height="1.00" fill="#2a4cf2" fill-opacity="0.85"/>
<rect x="250.01" y="199.30" width="1.00" height="1.00" fill="#2a4cf2" fill-opacity="0.85"/>
<rect x="248.74" y="207.45" width="1.00" height="1.00" fill="#2a4cf2" fill-opacity="0.85"/>
<rect x="247.34" y="205.69" width="1.00" height="1.00" fill="#2a4cf2" fill-opacity="0.85"/>
<rect x="252.36" y="200.63" width="1.00" height="1.00" fill="#2a4cf2" fill-opacity="0.85"/>
<rect x="232.83" y="194.42" width="1.00" height="1.00" fill="#2a4cf2" fill-opacity="0.85"/>
<rect x="251.95" y="199.96" width="1.00" height="1.00" fill="#2a4cf2" fill-opacity="0.85"/>
<rect x="232.11" y="198.45" width="1.00" height="1.00" fill="#2a4cf2" fill-opacity="0.85"/>
<rect x="237.49" y="195.97" width="1.00" height="1.00" fill="#2a4cf2" fill-opacity="0.85"/>
<rect x="238.89" y="200.80" width="1.00" height="1.00" fill="#2a4cf2" fill-opacity="0.85"/>
<rect x="236.54" y="198.30" width="1.00" height="1.00" fill="#2a4cf2" fill-opacity="0.85"/>
<rect x="241.83" y="202.04" width="1.00" height="1.00" fill="#2a4cf2" fill-opacity="0.85"/>
<rect x="242.53" y="207.37" width="1.00" height="1.00" fill="#2a4cf2" fill-opacity="0.85"/>
<rect x="244.56" y="189.08" width="1.00" height="1.00" fill="#2a4cf2" fill-opacity="0.85"/>
<rect x="236.68" y="199.53" width="1.00" height="1.00" fill="#2a4cf2" fill-opacity="0.85"/>
<rect x="248.47" y="193.67" width="1.00" height="1.00" fill="#2a4cf2" fill-opacity="0.85"/>
<rect x="235.07" y="203.30" width="1.00" height="1.00" fill="#2a4cf2" fill-opacity="0.85"/>
<rect x="238.47" y="212.93" width="1.00" height="1.00" fill="#2a4cf2" fill-opacity="0.85"/>
<rect x="237.52" y="212.74" width="1.00" height="1.00" fill="#2a4cf2" fill-opacity="0.85"/>
<rect x="228.31" y="191.91" width="1.00" height="1.00" fill="#2a4cf2" fill-opacity="0.85"/>
<rect x="252.47" y="208.77" width="1.00" height="1.00" fill="#2a4cf2" fill-opacity="0.85"/>
<rect x="245.89" y="206.42" width="1.00" height="1.00" fill="#2a4cf2" fill-opacity="0.85"/>
<rect x="245.86" y="196.38" width="1.00" height="1.00" fill="#2a4cf2" fill-opacity="0.85"/>
<rect x="250.04" y="201.51" width="1.00" height="1.00" fill="#2a4cf2" fill-opacity="0.85"/>
<rect x="250.37" y="206.16" width="1.00" height="1.00" fill="#2a4cf2" fill-opacity="0.85"/>
<rect x="251.65" y="204.47" width="1.00" height="1.00" fill="#2a4cf2" fill-opacity="0.85"/>
<rect x="237.94" y="207.32" width="1.00" height="1.00" fill="#2a4cf2" fill-opacity="0.85"/>
<rect x="237.67" y="201.42" width="1.00" height="1.00" fill="#2a4cf2" fill-opacity="0.85"/>
<rect x="242.42" y="206.58" width="1.00" height="1.00" fill="#2a4cf2" fill-opacity="0.85"/>
<rect x="255.15" y="205.84" width="1.00" height="1.00" fill="#2a4cf2" fill-opacity="0.85"/>
<rect x="256.95" y="213.46" width="1.00" height="1.00" fill="#2a4cf2" fill-opacity="0.85"/>
<rect x="242.67" y="206.53" width="1.00" height="1.00" fill="#2a4cf2" fill-opacity="0.85"/>
<rect x="240.22" y="200.02" width="1.00" height="1.00" fill="#2a4cf2" fill-opacity="0.85"/>
<rect x="240.90" y="200.69" width="1.00" height="1.00" fill="#2a4cf2" fill-opacity="0.85"/>
<rect x="256.26" y="209.51" width="1.00" height="1.00" fill="#2a4cf2" fill-opacity="0.85"/>
<rect x="237.48" y="191.13" width="1.00" height="1.00" fill="#2a4cf2" fill-opacity="0.85"/>
<rect x="241.02" y="202.38" width="1.00" height="1.00" fill="#2a4cf2" fill-opacity="0.85"/>
<rect x="231.73" y="196.98" width="1.00" height="1.00" fill="#2a4cf2" fill-opacity="0.85"/>
<rect x="241.22" y="204.39" width="1.00" height="1.00" fill="#2a4cf2" fill-opacity="0.85"/>
<rect x="254.50" y="206.51" width="1.00" height="1.00" fill="#2a4cf2" fill-opacity="0.85"/>
<rect x="243.01" y="202.71" width="1.00" height="1.00" fill="#2a4cf2" fill-opacity="0.85"/>
<rect x="236.05" y="216.75" width="1.00" height="1.00" fill="#2a4cf2" fill-opacity="0.85"/>
<rect x="250.50" y="218.37" width="1.00" height="1.00" fill="#2a4cf2" fill-opacity="0.85"/>
<rect x="238.35" y="205.73" width="1.00" height="1.00" fill="#2a4cf2" fill-opacity="0.85"/>
<rect x="233.57" y="212.75" width="1.00" height="1.00" fill="#2a4cf2" fill-opacity="0.85"/>
<rect x="228.96" y="209.73" width="1.00" height="1.00" fill="#2a4cf2" fill-opacity="0.85"/>
<rect x="251.36" y="216.08" width="1.00" height="1.00" fill="#2a4cf2" fill-opacity="0.85"/>
<rect x="233.04" y="213.67" width="1.00" height="1.00" fill="#2a4cf2" fill-opacity="0.85"/>
<rect x="235.08" y="199.82" width="1.00" height="1.00" fill="#2a4cf2" fill-opacity="0.85"/>
<rect x="229.59" y="214.17" width="1.00" height="1.00" fill="#2a4cf2" fill-opacity="0.85"/>
<rect x="256.34" y="201.04" width="1.00" height="1.00" fill="#2a4cf2" fill-opacity="0.85"/>
<rect x="234.66" y="202.96" width="1.00" height="1.00" fill="#2a4cf2" fill-opacity="0.85"/>
<rect x="264.07" y="213.03" width="1.00" height="1.00" fill="#2a4cf2" fill-opacity="0.85"/>
<rect x="236.62" y="192.04" width="1.00" height="1.00" fill="#2a4cf2" fill-opacity="0.85"/>
<rect x="235.45" y="214.40" width="1.00" height="1.00" fill="#2a4cf2" fill-opacity="0.85"/>
<rect x="258.31" y="203.50" width="1.00" height="1.00" fill="#2a4cf2" fill-opacity="0.85"/>
<rect x="235.28" y="201.68" width="1.00" height="1.00" fill="#2a4cf2" fill-opacity="0.85"/>
<rect x="231.73" y="213.47" width="1.00" height="1.00" fill="#2a4cf2" fill-opacity="0.85"/>
<rect x="244.10" y="199.77" width="1.00" height="1.00" fill="#2a4cf2" fill-opacity="0.85"/>
<rect x="248.53" y="205.56" width="1.00" height="1.00" fill="#2a4cf2" fill-opacity="0.85"/>
<rect x="230.93" y="210.16" width="1.00" height="1.00" fill="#2a4cf2" fill-opacity="0.85"/>
<rect x="249.08" y="191.15" width="1.00" height="1.00" fill="#2a4cf2" fill-opacity="0.85"/>
<rect x="257.94" y="209.23" width="1.00" height="1.00" fill="#2a4cf2" fill-opacity="0.85"/>
<rect x="255.35" y="184.55" width="1.00" height="1.00" fill="#2a4cf2" fill-opacity="0.8"/>
<rect x="246.55" y="194.99" width="1.00" height="1.00" fill="#2a4cf2" fill-opacity="0.8"/>
<rect x="258.35" y="185.38" width="1.00" height="1.00" fill="#2a4cf2" fill-opacity="0.8"/>
<rect x="242.73" y="188.34" width="1.00" height="1.00" fill="#2a4cf2" fill-opacity="0.8"/>
<rect x="251.22" y="196.62" width="1.00" height="1.00" fill="#2a4cf2" fill-opacity="0.8"/>
<rect x="238.91" y="196.61" width="1.00" height="1.00" fill="#2a4cf2" fill-opacity="0.8"/>
<rect x="258.78" y="199.81" width="1.00" height="1.00" fill="#2a4cf2" fill-opacity="0.8"/>
<rect x="257.02" y="191.40" width="1.00" height="1.00" fill="#2a4cf2" fill-opacity="0.8"/>
<rect x="242.20" y="193.76" width="1.00" height="1.00" fill="#2a4cf2" fill-opacity="0.8"/>
<rect x="247.73" y="196.94" width="1.00" height="1.00" fill="#2a4cf2" fill-opacity="0.8"/>
<rect x="254.69" y="201.69" width="1.00" height="1.00" fill="#2a4cf2" fill-opacity="0.8"/>
<rect x="253.01" y="189.18" width="1.00" height="1.00" fill="#2a4cf2" fill-opacity="0.8"/>
<rect x="265.57" y="194.29" width="1.00" height="1.00" fill="#2a4cf2" fill-opacity="0.8"/>
<rect x="252.15" y="191.17" width="1.00" height="1.00" fill="#2a4cf2" fill-opacity="0.8"/>
<rect x="236.86" y="195.30" width="1.00" height="1.00" fill="#2a4cf2" fill-opacity="0.8"/>
<rect x="258.12" y="188.61" width="1.00" height="1.00" fill="#2a4cf2" fill-opacity="0.8"/>
<rect x="242.88" y="198.94" width="1.00" height="1.00" fill="#2a4cf2" fill-opacity="0.8"/>
<rect x="255.27" y="196.40" width="1.00" height="1.00" fill="#2a4cf2" fill-opacity="0.8"/>
<rect x="259.60" y="198.66" width="1.00" height="1.00" fill="#2a4cf2" fill-opacity="0.8"/>
<rect x="247.70" y="200.93" width="1.00" height="1.00" fill="#2a4cf2" fill-opacity="0.8"/>
<rect x="246.15" y="200.14" width="1.00" height="1.00" fill="#2a4cf2" fill-opacity="0.8"/>
<rect x="254.22" y="195.04" width="1.00" height="1.00" fill="#2a4cf2" fill-opacity="0.8"/>
<rect x="259.75" y="191.78" width="1.00" height="1.00" fill="#2a4cf2" fill-opacity="0.8"/>
<rect x="262.21" y="195.16" width="1.00" height="1.00" fill="#2a4cf2" fill-opacity="0.8"/>
<rect x="252.65" y="191.73" width="1.00" height="1.00" fill="#2a4cf2" fill-opacity="0.8"/>
<rect x="246.02" y="194.33" width="1.00" height="1.00" fill="#2a4cf2" fill-opacity="0.8"/>
<rect x="250.94" y="194.95" width="1.00" height="1.00" fill="#2a4cf2" fill-opacity="0.8"/>
<rect x="275.89" y="189.04" width="1.00" height="1.00" fill="#2a4cf2" fill-opacity="0.8"/>
<rect x="256.96" y="188.76" width="1.00" height="1.00" fill="#2a4cf2" fill-opacity="0.8"/>
<rect x="246.67" y="195.09" width="1.00" height="1.00" fill="#2a4cf2" fill-opacity="0.8"/>
<rect x="252.35" y="189.59" width="1.00" height="1.00" fill="#2a4cf2" fill-opacity="0.8"/>
<rect x="263.75" y="187.71" width="1.00" height="1.00" fill="#2a4cf2" fill-opacity="0.8"/>
<rect x="257.01" y="181.67" width="1.00" height="1.00" fill="#2a4cf2" fill-opacity="0.8"/>
<rect x="252.88" y="195.69" width="1.00" height="1.00" fill="#2a4cf2" fill-opacity="0.8"/>
<rect x="254.86" y="196.52" width="1.00" height="1.00" fill="#2a4cf2" fill-opacity="0.8"/>
<rect x="254.85" y="194.42" width="1.00" height="1.00" fill="#2a4cf2" fill-opacity="0.8"/>
<rect x="237.17" y="196.66" width="1.00" height="1.00" fill="#2a4cf2" fill-opacity="0.8"/>
<rect x="235.86" y="203.57" width="1.00" height="1.00" fill="#2a4cf2" fill-opacity="0.8"/>
<rect x="254.51" y="192.83" width="1.00" height="1.00" fill="#2a4cf2" fill-opacity="0.8"/>
<rect x="245.43" y="194.29" width="1.00" height="1.00" fill="#2a4cf2" fill-opacity="0.8"/>
<rect x="269.04" y="196.77" width="1.00" height="1.00" fill="#2a4cf2" fill-opacity="0.8"/>
<rect x="254.04" y="200.11" width="1.00" height="1.00" fill="#2a4cf2" fill-opacity="0.8"/>
<rect x="237.58" y="190.66" width="1.00" height="1.00" fill="#2a4cf2" fill-opacity="0.8"/>
<rect x="247.52" y="192.12" width="1.00" height="1.00" fill="#2a4cf2" fill-opacity="0.8"/>
<rect x="248.59" y="196.83" width="1.00" height="1.00" fill="#2a4cf2" fill-opacity="0.8"/>
<rect x="274.22" y="183.43" width="1.00" height="1.00" fill="#2a4cf2" fill-opacity="0.8"/>
<rect x="253.30" y="195.53" width="1.00" height="1.00" fill="#2a4cf2" fill-opacity="0.8"/>
<rect x="253.67" y="198.53" width="1.00" height="1.00" fill="#2a4cf2" fill-opacity="0.8"/>
<rect x="263.93" y="184.38" width="1.00" height="1.00" fill="#2a4cf2" fill-opacity="0.8"/>
<rect x="253.31" y="192.94" width="1.00" height="1.00" fill="#2a4cf2" fill-opacity="0.8"/>
<rect x="252.82" y="187.05" width="1.00" height="1.00" fill="#2a4cf2" fill-opacity="0.8"/>
<rect x="235.72" y="189.51" width="1.00" height="1.00" fill="#2a4cf2" fill-opacity="0.8"/>
<rect x="256.74" y="193.87" width="1.00" height="1.00" fill="#2a4cf2" fill-opacity="0.8"/>
<rect x="249.41" y="184.29" width="1.00" height="1.00" fill="#2a4cf2" fill-opacity="0.8"/>
<rect x="248.53" y="192.33" width="1.00" height="1.00" fill="#2a4cf2" fill-opacity="0.8"/>
<rect x="240.46" y="194.50" width="1.00" height="1.00" fill="#2a4cf2" fill-opacity="0.8"/>
<rect x="258.58" y="194.89" width="1.00" height="1.00" fill="#2a4cf2" fill-opacity="0.8"/>
<rect x="253.12" y="196.74" width="1.00" height="1.00" fill="#2a4cf2" fill-opacity="0.8"/>
<rect x="248.07" y="196.45" width="1.00" height="1.00" fill="#2a4cf2" fill-opacity="0.8"/>
<rect x="253.66" y="196.73" width="1.00" height="1.00" fill="#2a4cf2" fill-opacity="0.8"/>
<rect x="251.75" y="194.09" width="1.00" height="1.00" fill="#2a4cf2" fill-opacity="0.8"/>
<rect x="250.49" y="192.14" width="1.00" height="1.00" fill="#2a4cf2" fill-opacity="0.8"/>
<rect x="270.08" y="190.56" width="1.00" height="1.00" fill="#2a4cf2" fill-opacity="0.8"/>
<rect x="259.25" y="203.02" width="1.00" height="1.00" fill="#2a4cf2" fill-opacity="0.8"/>
<rect x="260.65" y="184.08" width="1.00" height="1.00" fill="#2a4cf2" fill-opacity="0.8"/>
<rect x="259.02" y="196.14" width="1.00" height="1.00" fill="#2a4cf2" fill-opacity="0.8"/>
<rect x="268.69" y="194.91" width="1.00" height="1.00" fill="#2a4cf2" fill-opacity="0.8"/>
<rect x="256.48" y="187.41" width="1.00" height="1.00" fill="#2a4cf2" fill-opacity="0.8"/>
<rect x="246.37" y="198.02" width="1.00" height="1.00" fill="#2a4cf2" fill-opacity="0.8"/>
<rect x="254.72" y="188.80" width="1.00" height="1.00" fill="#2a4cf2" fill-opacity="0.8"/>
<rect x="248.99" y="193.86" width="1.00" height="1.00" fill="#2a4cf2" fill-opacity="0.8"/>
<rect x="253.47" y="195.76" width="1.00" height="1.00" fill="#2a4cf2" fill-opacity="0.8"/>
<rect x="248.44" y="190.05" width="1.00" height="1.00" fill="#2a4cf2" fill-opacity="0.8"/>
<rect x="264.30" y="197.85" width="1.00" height="1.00" fill="#2a4cf2" fill-opacity="0.8"/>
<rect x="253.28" y="199.12" width="1.00" height="1.00" fill="#2a4cf2" fill-opacity="0.8"/>
<rect x="256.85" y="196.07" width="1.00" height="1.00" fill="#2a4cf2" fill-opacity="0.8"/>
<rect x="254.94" y="189.95" width="1.00" height="1.00" fill="#2a4cf2" fill-opacity="0.8"/>
<rect x="258.37" y="197.20" width="1.00" height="1.00" fill="#2a4cf2" fill-opacity="0.8"/>
<rect x="248.79" y="205.27" width="1.00" height="1.00" fill="#2a4cf2" fill-opacity="0.8"/>
<rect x="271.02" y="196.49" width="1.00" height="1.00" fill="#2a4cf2" fill-opacity="0.8"/>
<rect x="268.60" y="192.20" width="1.00" height="1.00" fill="#2a4cf2" fill-opacity="0.8"/>
<rect x="249.03" y="192.89" width="1.00" height="1.00" fill="#2a4cf2" fill-opacity="0.8"/>
<rect x="246.57" y="197.21" width="1.00" height="1.00" fill="#2a4cf2" fill-opacity="0.8"/>
<rect x="253.28" y="197.42" width="1.00" height="1.00" fill="#2a4cf2" fill-opacity="0.8"/>
<rect x="240.87" y="209.80" width="1.00" height="1.00" fill="#2a4cf2" fill-opacity="0.8"/>
<rect x="269.57" y="188.16" width="1.00" height="1.00" fill="#2a4cf2" fill-opacity="0.8"/>
<rect x="258.31" y="194.66" width="1.00" height="1.00" fill="#2a4cf2" fill-opacity="0.8"/>
<rect x="254.23" y="192.87" width="1.00" height="1.00" fill="#2a4cf2" fill-opacity="0.8"/>
<rect x="250.31" y="191.35" width="1.00" height="1.00" fill="#2a4cf2" fill-opacity="0.8"/>
<rect x="253.80" y="193.91" width="1.00" height="1.00" fill="#2a4cf2" fill-opacity="0.8"/>
<rect x="253.59" y="190.01" width="1.00" height="1.00" fill="#2a4cf2" fill-opacity="0.8"/>
<rect x="252.87" y="194.59" width="1.00" height="1.00" fill="#2a4cf2" fill-opacity="0.8"/>
<rect x="255.41" y="188.35" width="1.00" height="1.00" fill="#2a4cf2" fill-opacity="0.8"/>
<rect x="257.17" y="197.51" width="1.00" height="1.00" fill="#2a4cf2" fill-opacity="0.8"/>
<rect x="256.42" y="191.31" width="1.00" height="1.00" fill="#2a4cf2" fill-opacity="0.8"/>
<rect x="248.44" y="194.85" width="1.00" height="1.00" fill="#2a4cf2" fill-opacity="0.8"/>
<rect x="260.37" y="199.07" width="1.00" height="1.00" fill="#2a4cf2" fill-opacity="0.8"/>
<rect x="250.32" y="192.21" width="1.00" height="1.00" fill="#2a4cf2" fill-opacity="0.8"/>
<rect x="255.64" y="194.34" width="1.00" height="1.00" fill="#2a4cf2" fill-opacity="0.8"/>
<rect x="244.54" y="193.87" width="1.00" height="1.00" fill="#2a4cf2" fill-opacity="0.8"/>
<rect x="252.77" y="197.62" width="1.00" height="1.00" fill="#2a4cf2" fill-opacity="0.8"/>
<rect x="241.96" y="193.46" width="1.00" height="1.00" fill="#2a4cf2" fill-opacity="0.8"/>
<rect x="254.37" y="187.96" width="1.00" height="1.00" fill="#2a4cf2" fill-opacity="0.8"/>
<rect x="253.86" y="195.69" width="1.00" height="1.00" fill="#2a4cf2" fill-opacity="0.8"/>
<rect x="250.10" y="190.50" width="1.00" height="1.00" fill="#2a4cf2" fill-opacity="0.8"/>
<rect x="251.54" y="193.26" width="1.00" height="1.00" fill="#2a4cf2" fill-opacity="0.8"/>
<rect x="253.74" y="190.03" width="1.00" height="1.00" fill="#2a4cf2" fill-opacity="0.8"/>
<rect x="258.13" y="184.43" width="1.00" height="1.00" fill="#2a4cf2" fill-opacity="0.8"/>
<rect x="251.19" y="195.02" width="1.00" height="1.00" fill="#2a4cf2" fill-opacity="0.8"/>
<rect x="258.79" y="189.30" width="1.00" height="1.00" fill="#2a4cf2" fill-opacity="0.8"/>
<rect x="255.73" y="190.61" width="1.00" height="1.00" fill="#2a4cf2" fill-opacity="0.8"/>
<rect x="260.72" y="199.83" width="1.00" height="1.00" fill="#2a4cf2" fill-opacity="0.8"/>
<rect x="250.17" y="197.47" width="1.00" height="1.00" fill="#2a4cf2" fill-opacity="0.8"/>
<rect x="247.03" y="201.15" width="1.00" height="1.00" fill="#2a4cf2" fill-opacity="0.8"/>
<rect x="261.66" y="191.34" width="1.00" height="1.00" fill="#2a4cf2" fill-opacity="0.8"/>
<rect x="244.59" y="199.31" width="1.00" height="1.00" fill="#2a4cf2" fill-opacity="0.8"/>
<rect x="262.82" y="195.96" width="1.00" height="1.00" fill="#2a4cf2" fill-opacity="0.8"/>
<rect x="255.80" y="184.53" width="1.00" height="1.00" fill="#2a4cf2" fill-opacity="0.8"/>
<rect x="249.58" y="202.37" width="1.00" height="1.00" fill="#2a4cf2" fill-opacity="0.8"/>
<rect x="245.02" y="202.64" width="1.00" height="1.00" fill="#2a4cf2" fill-opacity="0.8"/>
<rect x="267.82" y="192.57" width="1.00" height="1.00" fill="#2a4cf2" fill-opacity="0.8"/>
<rect x="260.41" y="190.03" width="1.00" height="1.00" fill="#2a4cf2" fill-opacity="0.8"/>
<rect x="243.13" y="197.42" width="1.00" height="1.00" fill="#2a4cf2" fill-opacity="0.8"/>
<rect x="250.93" y="194.84" width="1.00" height="1.00" fill="#2a4cf2" fill-opacity="0.8"/>
<rect x="257.52" y="191.98" width="1.00" height="1.00" fill="#2a4cf2" fill-opacity="0.8"/>
<rect x="254.59" y="195.77" width="1.00" height="1.00" fill="#2a4cf2" fill-opacity="0.8"/>
<rect x="255.30" y="202.31" width="1.00" height="1.00" fill="#2a4cf2" fill-opacity="0.8"/>
<rect x="255.96" y="193.65" width="1.00" height="1.00" fill="#2a4cf2" fill-opacity="0.8"/>
<rect x="249.98" y="192.42" width="1.00" height="1.00" fill="#2a4cf2" fill-opacity="0.8"/>
<rect x="262.84" y="191.46" width="1.00" height="1.00" fill="#2a4cf2" fill-opacity="0.8"/>
<rect x="243.52" y="195.07" width="1.00" height="1.00" fill="#2a4cf2" fill-opacity="0.8"/>
<rect x="250.79" y="192.99" width="1.00" height="1.00" fill="#2a4cf2" fill-opacity="0.8"/>
<rect x="258.86" y="186.62" width="1.00" height="1.00" fill="#2a4cf2" fill-opacity="0.8"/>
<rect x="256.42" y="193.76" width="1.00" height="1.00" fill="#2a4cf2" fill-opacity="0.8"/>
<rect x="243.72" y="197.92" width="1.00" height="1.00" fill="#2a4cf2" fill-opacity="0.8"/>
<rect x="252.56" y="196.88" width="1.00" height="1.00" fill="#2a4cf2" fill-opacity="0.8"/>
<rect x="249.58" y="197.01" width="1.00" height="1.00" fill="#2a4cf2" fill-opacity="0.8"/>
<rect x="238.31" y="194.47" width="1.00" height="1.00" fill="#2a4cf2" fill-opacity="0.8"/>
<rect x="260.00" y="196.76" width="1.00" height="1.00" fill="#2a4cf2" fill-opacity="0.8"/>
<rect x="251.48" y="192.00" width="1.00" height="1.00" fill="#2a4cf2" fill-opacity="0.8"/>
<rect x="257.42" y="182.69" width="1.00" height="1.00" fill="#2a4cf2" fill-opacity="0.8"/>
<rect x="247.52" y="199.53" width="1.00" height="1.00" fill="#2a4cf2" fill-opacity="0.8"/>
<rect x="255.82" y="188.35" width="1.00" height="1.00" fill="#2a4cf2" fill-opacity="0.8"/>
<rect x="240.55" y="205.80" width="1.00" height="1.00" fill="#2a4cf2" fill-opacity="0.8"/>
<rect x="252.27" y="190.29" width="1.00" height="1.00" fill="#2a4cf2" fill-opacity="0.8"/>
<rect x="254.30" y="198.16" width="1.00" height="1.00" fill="#2a4cf2" fill-opacity="0.8"/>
<rect x="234.73" y="206.29" width="1.00" height="1.00" fill="#2a4cf2" fill-opacity="0.8"/>
<rect x="254.86" y="183.68" width="1.00" height="1.00" fill="#2a4cf2" fill-opacity="0.8"/>
<rect x="255.56" y="184.86" width="1.00" height="1.00" fill="#2a4cf2" fill-opacity="0.8"/>
<rect x="261.68" y="193.07" width="1.00" height="1.00" fill="#2a4cf2" fill-opacity="0.8"/>
<rect x="268.49" y="185.75" width="1.00" height="1.00" fill="#2a4cf2" fill-opacity="0.8"/>
<rect x="254.15" y="198.92" width="1.00" height="1.00" fill="#2a4cf2" fill-opacity="0.8"/>
<rect x="246.60" y="193.27" width="1.00" height="1.00" fill="#2a4cf2" fill-opacity="0.8"/>
<rect x="249.59" y="195.21" width="1.00" height="1.00" fill="#2a4cf2" fill-opacity="0.8"/>
<rect x="245.11" y="199.51" width="1.00" height="1.00" fill="#2a4cf2" fill-opacity="0.8"/>
<rect x="256.69" y="193.32" width="1.00" height="1.00" fill="#2a4cf2" fill-opacity="0.8"/>
<rect x="264.78" y="188.46" width="1.00" height="1.00" fill="#2a4cf2" fill-opacity="0.8"/>
<rect x="261.48" y="188.61" width="1.00" height="1.00" fill="#2a4cf2" fill-opacity="0.8"/>
<rect x="255.20" y="184.25" width="1.00" height="1.00" fill="#2a4cf2" fill-opacity="0.8"/>
<rect x="253.72" y="193.22" width="1.00" height="1.00" fill="#2a4cf2" fill-opacity="0.8"/>
<rect x="247.84" y="193.27" width="1.00" height="1.00" fill="#2a4cf2" fill-opacity="0.8"/>
<rect x="248.78" y="192.41" width="1.00" height="1.00" fill="#2a4cf2" fill-opacity="0.8"/>
<rect x="235.10" y="197.98" width="1.00" height="1.00" fill="#2a4cf2" fill-opacity="0.8"/>
<rect x="247.56" y="193.79" width="1.00" height="1.00" fill="#2a4cf2" fill-opacity="0.8"/>
<rect x="244.34" y="196.82" width="1.00" height="1.00" fill="#2a4cf2" fill-opacity="0.8"/>
<rect x="258.01" y="191.30" width="1.00" height="1.00" fill="#2a4cf2" fill-opacity="0.8"/>
<rect x="250.89" y="201.59" width="1.00" height="1.00" fill="#2a4cf2" fill-opacity="0.8"/>
<rect x="261.26" y="195.72" width="1.00" height="1.00" fill="#2a4cf2" fill-opacity="0.8"/>
<rect x="260.68" y="189.95" width="1.00" height="1.00" fill="#2a4cf2" fill-opacity="0.8"/>
<rect x="253.24" y="199.56" width="1.00" height="1.00" fill="#2a4cf2" fill-opacity="0.8"/>
<rect x="248.15" y="195.51" width="1.00" height="1.00" fill="#2a4cf2" fill-opacity="0.8"/>
<rect x="255.91" y="195.04" width="1.00" height="1.00" fill="#2a4cf2" fill-opacity="0.8"/>
<rect x="251.94" y="199.41" width="1.00" height="1.00" fill="#2a4cf2" fill-opacity="0.8"/>
<rect x="252.28" y="198.05" width="1.00" height="1.00" fill="#2a4cf2" fill-opacity="0.8"/>
<rect x="261.56" y="194.36" width="1.00" height="1.00" fill="#2a4cf2" fill-opacity="0.8"/>
<rect x="256.23" y="187.59" width="1.00" height="1.00" fill="#2a4cf2" fill-opacity="0.8"/>
<rect x="241.69" y="195.47" width="1.00" height="1.00" fill="#2a4cf2" fill-opacity="0.8"/>
<rect x="258.38" y="199.55" width="1.00" height="1.00" fill="#2a4cf2" fill-opacity="0.8"/>
<rect x="243.78" y="199.14" width="1.00" height="1.00" fill="#2a4cf2" fill-opacity="0.8"/>
<rect x="244.95" y="193.74" width="1.00" height="1.00" fill="#2a4cf2" fill-opacity="0.8"/>
<rect x="251.49" y="198.18" width="1.00" height="1.00" fill="#2a4cf2" fill-opacity="0.8"/>
<rect x="255.92" y="198.91" width="1.00" height="1.00" fill="#2a4cf2" fill-opacity="0.8"/>
<rect x="246.46" y="200.96" width="1.00" height="1.00" fill="#2a4cf2" fill-opacity="0.8"/>
<rect x="259.60" y="192.25" width="1.00" height="1.00" fill="#2a4cf2" fill-opacity="0.8"/>
<rect x="255.22" y="190.81" width="1.00" height="1.00" fill="#2a4cf2" fill-opacity="0.8"/>
<rect x="243.68" y="195.77" width="1.00" height="1.00" fill="#2a4cf2" fill-opacity="0.8"/>
<rect x="252.12" y="208.48" width="1.00" height="1.00" fill="#2a4cf2" fill-opacity="0.8"/>
<rect x="251.39" y="202.80" width="1.00" height="1.00" fill="#2a4cf2" fill-opacity="0.8"/>
<rect x="254.50" y="195.27" width="1.00" height="1.00" fill="#2a4cf2" fill-opacity="0.8"/>
<rect x="256.89" y="189.17" width="1.00" height="1.00" fill="#2a4cf2" fill-opacity="0.8"/>
<rect x="259.97" y="193.58" width="1.00" height="1.00" fill="#2a4cf2" fill-opacity="0.8"/>
<rect x="242.03" y="201.19" width="1.00" height="1.00" fill="#2a4cf2" fill-opacity="0.8"/>
<rect x="257.35" y="194.90" width="1.00" height="1.00" fill="#2a4cf2" fill-opacity="0.8"/>
<rect x="263.78" y="188.41" width="1.00" height="1.00" fill="#2a4cf2" fill-opacity="0.8"/>
<rect x="257.50" y="196.26" width="1.00" height="1.00" fill="#2a4cf2" fill-opacity="0.8"/>
<rect x="247.58" y="202.04" width="1.00" height="1.00" fill="#2a4cf2" fill-opacity="0.8"/>
<rect x="239.59" y="192.97" width="1.00" height="1.00" fill="#2a4cf2" fill-opacity="0.8"/>
<rect x="254.75" y="188.47" width="1.00" height="1.00" fill="#2a4cf2" fill-opacity="0.8"/>
<rect x="249.09" y="187.86" width="1.00" height="1.00" fill="#2a4cf2" fill-opacity="0.8"/>
<rect x="251.28" y="189.52" width="1.00" height="1.00" fill="#2a4cf2" fill-opacity="0.8"/>
<rect x="262.87" y="193.77" width="1.00" height="1.00" fill="#2a4cf2" fill-opacity="0.8"/>
<rect x="263.29" y="202.63" width="1.00" height="1.00" fill="#2a4cf2" fill-opacity="0.8"/>
<rect x="261.76" y="204.03" width="1.00" height="1.00" fill="#2a4cf2" fill-opacity="0.8"/>
<rect x="262.02" y="195.25" width="1.00" height="1.00" fill="#2a4cf2" fill-opacity="0.8"/>
<rect x="251.24" y="204.74" width="1.00" height="1.00" fill="#2a4cf2" fill-opacity="0.8"/>
<rect x="257.76" y="201.32" width="1.00" height="1.00" fill="#2a4cf2" fill-opacity="0.8"/>
<rect x="263.21" y="190.60" width="1.00" height="1.00" fill="#2a4cf2" fill-opacity="0.8"/>
<rect x="258.45" y="200.23" width="1.00" height="1.00" fill="#2a4cf2" fill-opacity="0.8"/>
<rect x="257.27" y="206.79" width="1.00" height="1.00" fill="#2a4cf2" fill-opacity="0.8"/>
<rect x="260.94" y="198.76" width="1.00" height="1.00" fill="#2a4cf2" fill-opacity="0.8"/>
<rect x="257.56" y="210.15" width="1.00" height="1.00" fill="#2a4cf2" fill-opacity="0.8"/>
<rect x="258.86" y="208.60" width="1.00" height="1.00" fill="#2a4cf2" fill-opacity="0.8"/>
<rect x="263.30" y="191.24" width="1.00" height="1.00" fill="#2a4cf2" fill-opacity="0.8"/>
<rect x="257.17" y="204.52" width="1.00" height="1.00" fill="#2a4cf2" fill-opacity="0.8"/>
<rect x="262.87" y="209.96" width="1.00" height="1.00" fill="#2a4cf2" fill-opacity="0.8"/>
<rect x="264.71" y="211.74" width="1.00" height="1.00" fill="#2a4cf2" fill-opacity="0.8"/>
<rect x="260.00" y="203.03" width="1.00" height="1.00" fill="#2a4cf2" fill-opacity="0.8"/>
<rect x="264.60" y="201.52" width="1.00" height="1.00" fill="#2a4cf2" fill-opacity="0.8"/>
<rect x="265.73" y="193.38" width="1.00" height="1.00" fill="#2a4cf2" fill-opacity="0.8"/>
<rect x="264.11" y="203.29" width="1.00" height="1.00" fill="#2a4cf2" fill-opacity="0.8"/>
<rect x="253.63" y="211.36" width="1.00" height="1.00" fill="#2a4cf2" fill-opacity="0.8"/>
<rect x="262.74" y="204.65" width="1.00" height="1.00" fill="#2a4cf2" fill-opacity="0.8"/>
<rect x="257.19" y="201.24" width="1.00" height="1.00" fill="#2a4cf2" fill-opacity="0.8"/>
<rect x="267.55" y="198.71" width="1.00" height="1.00" fill="#2a4cf2" fill-opacity="0.8"/>
<rect x="247.61" y="198.50" width="1.00" height="1.00" fill="#2a4cf2" fill-opacity="0.8"/>
<rect x="256.70" y="203.58" width="1.00" height="1.00" fill="#2a4cf2" fill-opacity="0.8"/>
<rect x="259.93" y="198.11" width="1.00" height="1.00" fill="#2a4cf2" fill-opacity="0.8"/>
<rect x="258.13" y="211.83" width="1.00" height="1.00" fill="#2a4cf2" fill-opacity="0.8"/>
<rect x="255.73" y="218.20" width="1.00" height="1.00" fill="#2a4cf2" fill-opacity="0.8"/>
<rect x="259.32" y="196.85" width="1.00" height="1.00" fill="#2a4cf2" fill-opacity="0.8"/>
<rect x="264.65" y="208.45" width="1.00" height="1.00" fill="#2a4cf2" fill-opacity="0.8"/>
<rect x="257.33" y="209.74" width="1.00" height="1.00" fill="#2a4cf2" fill-opacity="0.8"/>
<rect x="254.14" y="198.03" width="1.00" height="1.00" fill="#2a4cf2" fill-opacity="0.8"/>
<rect x="266.01" y="202.71" width="1.00" height="1.00" fill="#2a4cf2" fill-opacity="0.8"/>
<rect x="256.29" y="208.10" width="1.00" height="1.00" fill="#2a4cf2" fill-opacity="0.8"/>
<rect x="265.17" y="204.34" width="1.00" height="1.00" fill="#2a4cf2" fill-opacity="0.8"/>
<rect x="254.27" y="202.08" width="1.00" height="1.00" fill="#2a4cf2" fill-opacity="0.8"/>
<rect x="263.17" y="209.88" width="1.00" height="1.00" fill="#2a4cf2" fill-opacity="0.8"/>
<rect x="268.91" y="202.73" width="1.00" height="1.00" fill="#2a4cf2" fill-opacity="0.8"/>
<rect x="259.57" y="204.23" width="1.00" height="1.00" fill="#2a4cf2" fill-opacity="0.8"/>
<rect x="266.32" y="197.91" width="1.00" height="1.00" fill="#2a4cf2" fill-opacity="0.8"/>
<rect x="266.72" y="185.26" width="1.00" height="1.00" fill="#2a4cf2" fill-opacity="0.8"/>
<rect x="264.69" y="199.77" width="1.00" height="1.00" fill="#2a4cf2" fill-opacity="0.8"/>
<rect x="263.34" y="209.32" width="1.00" height="1.00" fill="#2a4cf2" fill-opacity="0.8"/>
<rect x="256.77" y="203.90" width="1.00" height="1.00" fill="#2a4cf2" fill-opacity="0.8"/>
<rect x="262.46" y="208.61" width="1.00" height="1.00" fill="#2a4cf2" fill-opacity="0.8"/>
<rect x="257.78" y="197.56" width="1.00" height="1.00" fill="#2a4cf2" fill-opacity="0.8"/>
<rect x="260.73" y="202.94" width="1.00" height="1.00" fill="#2a4cf2" fill-opacity="0.8"/>
<rect x="255.52" y="211.01" width="1.00" height="1.00" fill="#2a4cf2" fill-opacity="0.8"/>
<rect x="259.36" y="214.55" width="1.00" height="1.00" fill="#2a4cf2" fill-opacity="0.8"/>
<rect x="264.91" y="204.65" width="1.00" height="1.00" fill="#2a4cf2" fill-opacity="0.8"/>
<rect x="264.41" y="196.72" width="1.00" height="1.00" fill="#2a4cf2" fill-opacity="0.8"/>
<rect x="260.20" y="200.47" width="1.00" height="1.00" fill="#2a4cf2" fill-opacity="0.8"/>
<rect x="256.42" y="204.62" width="1.00" height="1.00" fill="#2a4cf2" fill-opacity="0.8"/>
<rect x="260.92" y="214.55" width="1.00" height="1.00" fill="#2a4cf2" fill-opacity="0.8"/>
<rect x="248.09" y="199.80" width="1.00" height="1.00" fill="#2a4cf2" fill-opacity="0.8"/>
<rect x="257.83" y="201.25" width="1.00" height="1.00" fill="#2a4cf2" fill-opacity="0.8"/>
<rect x="263.19" y="207.33" width="1.00" height="1.00" fill="#2a4cf2" fill-opacity="0.8"/>
<rect x="261.61" y="201.18" width="1.00" height="1.00" fill="#2a4cf2" fill-opacity="0.8"/>
<rect x="263.48" y="207.02" width="1.00" height="1.00" fill="#2a4cf2" fill-opacity="0.8"/>
<rect x="254.13" y="202.66" width="1.00" height="1.00" fill="#2a4cf2" fill-opacity="0.8"/>
<rect x="256.00" y="196.23" width="1.00" height="1.00" fill="#2a4cf2" fill-opacity="0.8"/>
<rect x="262.09" y="204.92" width="1.00" height="1.00" fill="#2a4cf2" fill-opacity="0.8"/>
<rect x="261.96" y="198.37" width="1.00" height="1.00" fill="#2a4cf2" fill-opacity="0.8"/>
<rect x="260.70" y="198.11" width="1.00" height="1.00" fill="#2a4cf2" fill-opacity="0.8"/>
<rect x="263.03" y="209.32" width="1.00" height="1.00" fill="#2a4cf2" fill-opacity="0.8"/>
<rect x="268.52" y="213.36" width="1.00" height="1.00" fill="#2a4cf2" fill-opacity="0.8"/>
<rect x="258.28" y="201.30" width="1.00" height="1.00" fill="#2a4cf2" fill-opacity="0.8"/>
<rect x="257.75" y="206.64" width="1.00" height="1.00" fill="#2a4cf2" fill-opacity="0.8"/>
<rect x="269.42" y="209.46" width="1.00" height="1.00" fill="#2a4cf2" fill-opacity="0.8"/>
<rect x="252.70" y="195.70" width="1.00" height="1.00" fill="#2a4cf2" fill-opacity="0.8"/>
<rect x="256.33" y="208.11" width="1.00" height="1.00" fill="#2a4cf2" fill-opacity="0.8"/>
<rect x="261.51" y="206.60" width="1.00" height="1.00" fill="#2a4cf2" fill-opacity="0.8"/>
<rect x="268.63" y="198.71" width="1.00" height="1.00" fill="#2a4cf2" fill-opacity="0.8"/>
<rect x="258.11" y="218.26" width="1.00" height="1.00" fill="#2a4cf2" fill-opacity="0.8"/>
<rect x="262.87" y="199.05" width="1.00" height="1.00" fill="#2a4cf2" fill-opacity="0.8"/>
<rect x="253.39" y="193.83" width="1.00" height="1.00" fill="#2a4cf2" fill-opacity="0.8"/>
<rect x="251.72" y="204.98" width="1.00" height="1.00" fill="#2a4cf2" fill-opacity="0.8"/>
<rect x="261.68" y="211.45" width="1.00" height="1.00" fill="#2a4cf2" fill-opacity="0.8"/>
<rect x="260.94" y="199.64" width="1.00" height="1.00" fill="#2a4cf2" fill-opacity="0.8"/>
<rect x="258.54" y="217.81" width="1.00" height="1.00" fill="#2a4cf2" fill-opacity="0.8"/>
<rect x="254.44" y="205.72" width="1.00" height="1.00" fill="#2a4cf2" fill-opacity="0.8"/>
<rect x="261.60" y="208.82" width="1.00" height="1.00" fill="#2a4cf2" fill-opacity="0.8"/>
<rect x="259.88" y="207.99" width="1.00" height="1.00" fill="#2a4cf2" fill-opacity="0.8"/>
<rect x="264.76" y="203.47" width="1.00" height="1.00" fill="#2a4cf2" fill-opacity="0.8"/>
<rect x="259.67" y="203.20" width="1.00" height="1.00" fill="#2a4cf2" fill-opacity="0.8"/>
<rect x="257.64" y="203.05" width="1.00" height="1.00" fill="#2a4cf2" fill-opacity="0.8"/>
<rect x="260.29" y="205.97" width="1.00" height="1.00" fill="#2a4cf2" fill-opacity="0.8"/>
<rect x="266.84" y="213.65" width="1.00" height="1.00" fill="#2a4cf2" fill-opacity="0.8"/>
<rect x="259.72" y="208.72" width="1.00" height="1.00" fill="#2a4cf2" fill-opacity="0.8"/>
<rect x="262.68" y="209.83" width="1.00" height="1.00" fill="#2a4cf2" fill-opacity="0.8"/>
<rect x="261.59" y="206.36" width="1.00" height="1.00" fill="#2a4cf2" fill-opacity="0.8"/>
<rect x="259.62" y="199.01" width="1.00" height="1.00" fill="#2a4cf2" fill-opacity="0.8"/>
<rect x="264.99" y="213.59" width="1.00" height="1.00" fill="#2a4cf2" fill-opacity="0.8"/>
<rect x="264.15" y="207.55" width="1.00" height="1.00" fill="#2a4cf2" fill-opacity="0.8"/>
<rect x="262.56" y="201.35" width="1.00" height="1.00" fill="#2a4cf2" fill-opacity="0.8"/>
<rect x="254.37" y="209.14" width="1.00" height="1.00" fill="#2a4cf2" fill-opacity="0.8"/>
<rect x="262.30" y="200.62" width="1.00" height="1.00" fill="#2a4cf2" fill-opacity="0.8"/>
<rect x="257.64" y="213.45" width="1.00" height="1.00" fill="#2a4cf2" fill-opacity="0.8"/>
<rect x="254.28" y="216.83" width="1.00" height="1.00" fill="#2a4cf2" fill-opacity="0.8"/>
<rect x="258.63" y="204.35" width="1.00" height="1.00" fill="#2a4cf2" fill-opacity="0.8"/>
<rect x="259.47" y="205.59" width="1.00" height="1.00" fill="#2a4cf2" fill-opacity="0.8"/>
<rect x="260.66" y="199.26" width="1.00" height="1.00" fill="#2a4cf2" fill-opacity="0.8"/>
<rect x="265.80" y="199.01" width="1.00" height="1.00" fill="#2a4cf2" fill-opacity="0.8"/>
<rect x="259.47" y="208.38" width="1.00" height="1.00" fill="#2a4cf2" fill-opacity="0.8"/>
<rect x="259.35" y="201.46" width="1.00" height="1.00" fill="#2a4cf2" fill-opacity="0.8"/>
<rect x="262.92" y="201.93" width="1.00" height="1.00" fill="#2a4cf2" fill-opacity="0.8"/>
<rect x="256.51" y="203.78" width="1.00" height="1.00" fill="#2a4cf2" fill-opacity="0.8"/>
<rect x="260.62" y="216.43" width="1.00" height="1.00" fill="#2a4cf2" fill-opacity="0.8"/>
<rect x="257.11" y="211.29" width="1.00" height="1.00" fill="#2a4cf2" fill-opacity="0.8"/>
<rect x="258.36" y="202.01" width="1.00" height="1.00" fill="#2a4cf2" fill-opacity="0.8"/>
<rect x="260.19" y="206.39" width="1.00" height="1.00" fill="#2a4cf2" fill-opacity="0.8"/>
<rect x="264.95" y="216.75" width="1.00" height="1.00" fill="#2a4cf2" fill-opacity="0.8"/>
<rect x="258.95" y="213.81" width="1.00" height="1.00" fill="#2a4cf2" fill-opacity="0.8"/>
<rect x="265.48" y="210.19" width="1.00" height="1.00" fill="#2a4cf2" fill-opacity="0.8"/>
<rect x="258.46" y="210.80" width="1.00" height="1.00" fill="#2a4cf2" fill-opacity="0.8"/>
<rect x="261.07" y="206.97" width="1.00" height="1.00" fill="#2a4cf2" fill-opacity="0.8"/>
<rect x="260.42" y="209.15" width="1.00" height="1.00" fill="#2a4cf2" fill-opacity="0.8"/>
<rect x="274.31" y="214.42" width="1.00" height="1.00" fill="#2a4cf2" fill-opacity="0.85"/>
<rect x="271.93" y="213.47" width="1.00" height="1.00" fill="#2a4cf2" fill-opacity="0.85"/>
<rect x="274.91" y="199.95" width="1.00" height="1.00" fill="#2a4cf2" fill-opacity="0.85"/>
<rect x="274.95" y="197.15" width="1.00" height="1.00" fill="#2a4cf2" fill-opacity="0.85"/>
<rect x="273.28" y="210.66" width="1.00" height="1.00" fill="#2a4cf2" fill-opacity="0.85"/>
<rect x="274.97" y="208.45" width="1.00" height="1.00" fill="#2a4cf2" fill-opacity="0.85"/>
<rect x="271.43" y="200.92" width="1.00" height="1.00" fill="#2a4cf2" fill-opacity="0.85"/>
<rect x="270.05" y="211.86" width="1.00" height="1.00" fill="#2a4cf2" fill-opacity="0.85"/>
<rect x="271.87" y="201.48" width="1.00" height="1.00" fill="#2a4cf2" fill-opacity="0.85"/>
<rect x="273.26" y="201.15" width="1.00" height="1.00" fill="#2a4cf2" fill-opacity="0.85"/>
<rect x="271.51" y="203.29" width="1.00" height="1.00" fill="#2a4cf2" fill-opacity="0.85"/>
<rect x="275.28" y="216.74" width="1.00" height="1.00" fill="#2a4cf2" fill-opacity="0.85"/>
<rect x="272.02" y="195.50" width="1.00" height="1.00" fill="#2a4cf2" fill-opacity="0.85"/>
<rect x="272.80" y="207.00" width="1.00" height="1.00" fill="#2a4cf2" fill-opacity="0.85"/>
<rect x="272.93" y="210.46" width="1.00" height="1.00" fill="#2a4cf2" fill-opacity="0.85"/>
<rect x="271.72" y="212.98" width="1.00" height="1.00" fill="#2a4cf2" fill-opacity="0.85"/>
<rect x="273.81" y="207.97" width="1.00" height="1.00" fill="#2a4cf2" fill-opacity="0.85"/>
<rect x="271.57" y="203.14" width="1.00" height="1.00" fill="#2a4cf2" fill-opacity="0.85"/>
<rect x="273.55" y="198.80" width="1.00" height="1.00" fill="#2a4cf2" fill-opacity="0.85"/>
<rect x="272.01" y="201.25" width="1.00" height="1.00" fill="#2a4cf2" fill-opacity="0.85"/>
<rect x="269.79" y="210.73" width="1.00" height="1.00" fill="#2a4cf2" fill-opacity="0.85"/>
<rect x="272.25" y="206.75" width="1.00" height="1.00" fill="#2a4cf2" fill-opacity="0.85"/>
<rect x="273.87" y="196.04" width="1.00" height="1.00" fill="#2a4cf2" fill-opacity="0.85"/>
<rect x="272.18" y="208.52" width="1.00" height="1.00" fill="#2a4cf2" fill-opacity="0.85"/>
<rect x="273.80" y="198.91" width="1.00" height="1.00" fill="#2a4cf2" fill-opacity="0.85"/>
<rect x="273.59" y="208.04" width="1.00" height="1.00" fill="#2a4cf2" fill-opacity="0.85"/>
<rect x="274.74" y="214.47" width="1.00" height="1.00" fill="#2a4cf2" fill-opacity="0.85"/>
<rect x="272.30" y="203.53" width="1.00" height="1.00" fill="#2a4cf2" fill-opacity="0.85"/>
<rect x="271.69" y="199.92" width="1.00" height="1.00" fill="#2a4cf2" fill-opacity="0.85"/>
<rect x="272.25" y="193.35" width="1.00" height="1.00" fill="#2a4cf2" fill-opacity="0.85"/>
<rect x="272.15" y="209.48" width="1.00" height="1.00" fill="#2a4cf2" fill-opacity="0.85"/>
<rect x="274.08" y="204.07" width="1.00" height="1.00" fill="#2a4cf2" fill-opacity="0.85"/>
<rect x="274.80" y="201.94" width="1.00" height="1.00" fill="#2a4cf2" fill-opacity="0.85"/>
<rect x="272.06" y="193.36" width="1.00" height="1.00" fill="#2a4cf2" fill-opacity="0.85"/>
<rect x="270.93" y="200.96" width="1.00" height="1.00" fill="#2a4cf2" fill-opacity="0.85"/>
<rect x="274.93" y="210.13" width="1.00" height="1.00" fill="#2a4cf2" fill-opacity="0.85"/>
<rect x="270.36" y="210.15" width="1.00" height="1.00" fill="#2a4cf2" fill-opacity="0.85"/>
<rect x="273.15" y="204.90" width="1.00" height="1.00" fill="#2a4cf2" fill-opacity="0.85"/>
<rect x="272.34" y="204.41" width="1.00" height="1.00" fill="#2a4cf2" fill-opacity="0.85"/>
<rect x="271.35" y="194.38" width="1.00" height="1.00" fill="#2a4cf2" fill-opacity="0.85"/>
<rect x="272.14" y="215.28" width="1.00" height="1.00" fill="#2a4cf2" fill-opacity="0.85"/>
<rect x="274.82" y="204.60" width="1.00" height="1.00" fill="#2a4cf2" fill-opacity="0.85"/>
<rect x="270.99" y="205.05" width="1.00" height="1.00" fill="#2a4cf2" fill-opacity="0.85"/>
<rect x="273.88" y="208.90" width="1.00" height="1.00" fill="#2a4cf2" fill-opacity="0.85"/>
<rect x="271.27" y="208.97" width="1.00" height="1.00" fill="#2a4cf2" fill-opacity="0.85"/>
<rect x="271.94" y="210.02" width="1.00" height="1.00" fill="#2a4cf2" fill-opacity="0.85"/>
<rect x="271.58" y="196.45" width="1.00" height="1.00" fill="#2a4cf2" fill-opacity="0.85"/>
<rect x="272.40" y="211.69" width="1.00" height="1.00" fill="#2a4cf2" fill-opacity="0.85"/>
<rect x="270.36" y="205.77" width="1.00" height="1.00" fill="#2a4cf2" fill-opacity="0.85"/>
<rect x="273.84" y="203.94" width="1.00" height="1.00" fill="#2a4cf2" fill-opacity="0.85"/>
<rect x="273.76" y="213.51" width="1.00" height="1.00" fill="#2a4cf2" fill-opacity="0.85"/>
<rect x="270.64" y="217.63" width="1.00" height="1.00" fill="#2a4cf2" fill-opacity="0.85"/>
<rect x="269.40" y="202.97" width="1.00" height="1.00" fill="#2a4cf2" fill-opacity="0.85"/>
<rect x="273.60" y="215.57" width="1.00" height="1.00" fill="#2a4cf2" fill-opacity="0.85"/>
<rect x="270.67" y="201.98" width="1.00" height="1.00" fill="#2a4cf2" fill-opacity="0.85"/>
<rect x="272.64" y="193.36" width="1.00" height="1.00" fill="#2a4cf2" fill-opacity="0.85"/>
<rect x="273.42" y="210.31" width="1.00" height="1.00" fill="#2a4cf2" fill-opacity="0.85"/>
<rect x="271.52" y="210.16" width="1.00" height="1.00" fill="#2a4cf2" fill-opacity="0.85"/>
<rect x="273.66" y="208.60" width="1.00" height="1.00" fill="#2a4cf2" fill-opacity="0.85"/>
<rect x="273.21" y="216.79" width="1.00" height="1.00" fill="#2a4cf2" fill-opacity="0.85"/>
<rect x="271.47" y="207.60" width="1.00" height="1.00" fill="#2a4cf2" fill-opacity="0.85"/>
<rect x="271.39" y="213.53" width="1.00" height="1.00" fill="#2a4cf2" fill-opacity="0.85"/>
<rect x="271.59" y="209.72" width="1.00" height="1.00" fill="#2a4cf2" fill-opacity="0.85"/>
<rect x="272.54" y="206.95" width="1.00" height="1.00" fill="#2a4cf2" fill-opacity="0.85"/>
<rect x="275.30" y="205.92" width="1.00" height="1.00" fill="#2a4cf2" fill-opacity="0.85"/>
<rect x="274.77" y="212.10" width="1.00" height="1.00" fill="#2a4cf2" fill-opacity="0.85"/>
<rect x="274.60" y="205.38" width="1.00" height="1.00" fill="#2a4cf2" fill-opacity="0.85"/>
<rect x="273.92" y="211.62" width="1.00" height="1.00" fill="#2a4cf2" fill-opacity="0.85"/>
<rect x="271.23" y="208.32" width="1.00" height="1.00" fill="#2a4cf2" fill-opacity="0.85"/>
<rect x="272.08" y="206.26" width="1.00" height="1.00" fill="#2a4cf2" fill-opacity="0.85"/>
<rect x="274.57" y="201.63" width="1.00" height="1.00" fill="#2a4cf2" fill-opacity="0.85"/>
<rect x="269.37" y="194.72" width="1.00" height="1.00" fill="#2a4cf2" fill-opacity="0.85"/>
<rect x="271.51" y="202.14" width="1.00" height="1.00" fill="#2a4cf2" fill-opacity="0.85"/>
<rect x="272.32" y="210.32" width="1.00" height="1.00" fill="#2a4cf2" fill-opacity="0.85"/>
<rect x="275.36" y="208.59" width="1.00" height="1.00" fill="#2a4cf2" fill-opacity="0.85"/>
<rect x="273.11" y="201.54" width="1.00" height="1.00" fill="#2a4cf2" fill-opacity="0.85"/>
<rect x="273.31" y="215.68" width="1.00" height="1.00" fill="#2a4cf2" fill-opacity="0.85"/>
<rect x="274.63" y="193.31" width="1.00" height="1.00" fill="#2a4cf2" fill-opacity="0.85"/>
<rect x="273.85" y="217.19" width="1.00" height="1.00" fill="#2a4cf2" fill-opacity="0.85"/>
<rect x="273.73" y="196.41" width="1.00" height="1.00" fill="#2a4cf2" fill-opacity="0.85"/>
<rect x="271.77" y="210.46" width="1.00" height="1.00" fill="#2a4cf2" fill-opacity="0.85"/>
<rect x="273.02" y="201.03" width="1.00" height="1.00" fill="#2a4cf2" fill-opacity="0.85"/>
<rect x="270.76" y="213.01" width="1.00" height="1.00" fill="#2a4cf2" fill-opacity="0.85"/>
<rect x="269.99" y="216.17" width="1.00" height="1.00" fill="#2a4cf2" fill-opacity="0.85"/>
<rect x="272.33" y="208.53" width="1.00" height="1.00" fill="#2a4cf2" fill-opacity="0.85"/>
<rect x="269.99" y="202.48" width="1.00" height="1.00" fill="#2a4cf2" fill-opacity="0.85"/>
<rect x="273.49" y="196.59" width="1.00" height="1.00" fill="#2a4cf2" fill-opacity="0.85"/>
<rect x="275.89" y="197.04" width="1.00" height="1.00" fill="#2a4cf2" fill-opacity="0.85"/>
<rect x="270.18" y="206.79" width="1.00" height="1.00" fill="#2a4cf2" fill-opacity="0.85"/>
<rect x="273.13" y="211.44" width="1.00" height="1.00" fill="#2a4cf2" fill-opacity="0.85"/>
<rect x="271.66" y="205.10" width="1.00" height="1.00" fill="#2a4cf2" fill-opacity="0.85"/>
<rect x="271.89" y="202.63" width="1.00" height="1.00" fill="#2a4cf2" fill-opacity="0.85"/>
<rect x="267.84" y="212.97" width="1.00" height="1.00" fill="#2a4cf2" fill-opacity="0.85"/>
<rect x="272.73" y="207.57" width="1.00" height="1.00" fill="#2a4cf2" fill-opacity="0.85"/>
<rect x="271.21" y="208.19" width="1.00" height="1.00" fill="#2a4cf2" fill-opacity="0.85"/>
<rect x="272.28" y="205.98" width="1.00" height="1.00" fill="#2a4cf2" fill-opacity="0.85"/>
<rect x="274.21" y="194.92" width="1.00" height="1.00" fill="#2a4cf2" fill-opacity="0.85"/>
<rect x="272.74" y="199.33" width="1.00" height="1.00" fill="#2a4cf2" fill-opacity="0.85"/>
<rect x="271.75" y="216.58" width="1.00" height="1.00" fill="#2a4cf2" fill-opacity="0.85"/>
<rect x="270.43" y="205.83" width="1.00" height="1.00" fill="#2a4cf2" fill-opacity="0.85"/>
<rect x="271.28" y="212.89" width="1.00" height="1.00" fill="#2a4cf2" fill-opacity="0.85"/>
<rect x="270.61" y="195.18" width="1.00" height="1.00" fill="#2a4cf2" fill-opacity="0.85"/>
<rect x="273.19" y="204.12" width="1.00" height="1.00" fill="#2a4cf2" fill-opacity="0.85"/>
<rect x="271.75" y="213.76" width="1.00" height="1.00" fill="#2a4cf2" fill-opacity="0.85"/>
<rect x="270.77" y="203.99" width="1.00" height="1.00" fill="#2a4cf2" fill-opacity="0.85"/>
<rect x="272.56" y="209.28" width="1.00" height="1.00" fill="#2a4cf2" fill-opacity="0.85"/>
<rect x="271.41" y="213.46" width="1.00" height="1.00" fill="#2a4cf2" fill-opacity="0.85"/>
<rect x="276.17" y="203.75" width="1.00" height="1.00" fill="#2a4cf2" fill-opacity="0.85"/>
<rect x="262.62" y="217.00" width="0.9" height="0.9" fill="#2a4cf2" fill-opacity="0.55"/>
<rect x="266.47" y="196.26" width="0.9" height="0.9" fill="#2a4cf2" fill-opacity="0.55"/>
<rect x="260.45" y="163.51" width="0.9" height="0.9" fill="#2a4cf2" fill-opacity="0.55"/>
<rect x="255.06" y="195.64" width="0.9" height="0.9" fill="#2a4cf2" fill-opacity="0.55"/>
<rect x="239.88" y="193.41" width="0.9" height="0.9" fill="#2a4cf2" fill-opacity="0.55"/>
<rect x="266.11" y="188.12" width="0.9" height="0.9" fill="#2a4cf2" fill-opacity="0.55"/>
<rect x="253.89" y="177.51" width="0.9" height="0.9" fill="#2a4cf2" fill-opacity="0.55"/>
<rect x="241.74" y="211.78" width="0.9" height="0.9" fill="#2a4cf2" fill-opacity="0.55"/>
<rect x="229.11" y="171.05" width="0.9" height="0.9" fill="#2a4cf2" fill-opacity="0.55"/>
<rect x="255.15" y="186.17" width="0.9" height="0.9" fill="#2a4cf2" fill-opacity="0.55"/>
<rect x="231.41" y="198.64" width="0.9" height="0.9" fill="#2a4cf2" fill-opacity="0.55"/>
<rect x="242.88" y="193.97" width="0.9" height="0.9" fill="#2a4cf2" fill-opacity="0.55"/>
<rect x="244.66" y="191.00" width="0.9" height="0.9" fill="#2a4cf2" fill-opacity="0.55"/>
<rect x="250.59" y="183.19" width="0.9" height="0.9" fill="#2a4cf2" fill-opacity="0.55"/>
<rect x="232.57" y="170.56" width="0.9" height="0.9" fill="#2a4cf2" fill-opacity="0.55"/>
<rect x="263.60" y="192.06" width="0.9" height="0.9" fill="#2a4cf2" fill-opacity="0.55"/>
<rect x="232.49" y="210.44" width="0.9" height="0.9" fill="#2a4cf2" fill-opacity="0.55"/>
<rect x="238.14" y="165.56" width="0.9" height="0.9" fill="#2a4cf2" fill-opacity="0.55"/>
<rect x="249.23" y="174.72" width="0.9" height="0.9" fill="#2a4cf2" fill-opacity="0.55"/>
<rect x="247.57" y="192.41" width="0.9" height="0.9" fill="#2a4cf2" fill-opacity="0.55"/>
<rect x="237.06" y="193.50" width="0.9" height="0.9" fill="#2a4cf2" fill-opacity="0.55"/>
<rect x="232.52" y="190.02" width="0.9" height="0.9" fill="#2a4cf2" fill-opacity="0.55"/>
<rect x="251.54" y="164.69" width="0.9" height="0.9" fill="#2a4cf2" fill-opacity="0.55"/>
<rect x="244.32" y="164.30" width="0.9" height="0.9" fill="#2a4cf2" fill-opacity="0.55"/>
<rect x="245.58" y="210.51" width="0.9" height="0.9" fill="#2a4cf2" fill-opacity="0.55"/>
<rect x="250.02" y="201.80" width="0.9" height="0.9" fill="#2a4cf2" fill-opacity="0.55"/>
<rect x="258.28" y="166.70" width="0.9" height="0.9" fill="#2a4cf2" fill-opacity="0.55"/>
<rect x="267.63" y="202.21" width="0.9" height="0.9" fill="#2a4cf2" fill-opacity="0.55"/>
<rect x="232.08" y="208.57" width="0.9" height="0.9" fill="#2a4cf2" fill-opacity="0.55"/>
<rect x="243.68" y="170.02" width="0.9" height="0.9" fill="#2a4cf2" fill-opacity="0.55"/>
<rect x="266.40" y="192.94" width="0.9" height="0.9" fill="#2a4cf2" fill-opacity="0.55"/>
<rect x="259.00" y="168.00" width="0.9" height="0.9" fill="#2a4cf2" fill-opacity="0.55"/>
<rect x="259.05" y="163.37" width="0.9" height="0.9" fill="#2a4cf2" fill-opacity="0.55"/>
<rect x="237.48" y="181.78" width="0.9" height="0.9" fill="#2a4cf2" fill-opacity="0.55"/>
<rect x="228.61" y="194.77" width="0.9" height="0.9" fill="#2a4cf2" fill-opacity="0.55"/>
<rect x="236.53" y="177.55" width="0.9" height="0.9" fill="#2a4cf2" fill-opacity="0.55"/>
<rect x="256.30" y="184.92" width="0.9" height="0.9" fill="#2a4cf2" fill-opacity="0.55"/>
<rect x="263.55" y="196.34" width="0.9" height="0.9" fill="#2a4cf2" fill-opacity="0.55"/>
<rect x="262.89" y="192.93" width="0.9" height="0.9" fill="#2a4cf2" fill-opacity="0.55"/>
<rect x="264.70" y="210.94" width="0.9" height="0.9" fill="#2a4cf2" fill-opacity="0.55"/>
<rect x="234.72" y="203.61" width="0.9" height="0.9" fill="#2a4cf2" fill-opacity="0.55"/>
<rect x="241.66" y="204.67" width="0.9" height="0.9" fill="#2a4cf2" fill-opacity="0.55"/>
<rect x="255.22" y="208.30" width="0.9" height="0.9" fill="#2a4cf2" fill-opacity="0.55"/>
<rect x="232.91" y="181.82" width="0.9" height="0.9" fill="#2a4cf2" fill-opacity="0.55"/>
<rect x="257.49" y="215.46" width="0.9" height="0.9" fill="#2a4cf2" fill-opacity="0.55"/>
<rect x="256.87" y="162.54" width="0.9" height="0.9" fill="#2a4cf2" fill-opacity="0.55"/>
<rect x="252.15" y="165.83" width="0.9" height="0.9" fill="#2a4cf2" fill-opacity="0.55"/>
<rect x="249.95" y="206.98" width="0.9" height="0.9" fill="#2a4cf2" fill-opacity="0.55"/>
<rect x="232.52" y="214.13" width="0.9" height="0.9" fill="#2a4cf2" fill-opacity="0.55"/>
<rect x="255.01" y="174.89" width="0.9" height="0.9" fill="#2a4cf2" fill-opacity="0.55"/>
<rect x="235.73" y="186.14" width="0.9" height="0.9" fill="#2a4cf2" fill-opacity="0.55"/>
<rect x="261.53" y="194.01" width="0.9" height="0.9" fill="#2a4cf2" fill-opacity="0.55"/>
<rect x="232.54" y="161.23" width="0.9" height="0.9" fill="#2a4cf2" fill-opacity="0.55"/>
<rect x="232.42" y="206.84" width="0.9" height="0.9" fill="#2a4cf2" fill-opacity="0.55"/>
<rect x="235.41" y="192.42" width="0.9" height="0.9" fill="#2a4cf2" fill-opacity="0.55"/>
<rect x="239.60" y="200.20" width="0.9" height="0.9" fill="#2a4cf2" fill-opacity="0.55"/>
<rect x="243.23" y="168.44" width="0.9" height="0.9" fill="#2a4cf2" fill-opacity="0.55"/>
<rect x="263.02" y="191.50" width="0.9" height="0.9" fill="#2a4cf2" fill-opacity="0.55"/>
<rect x="255.58" y="207.28" width="0.9" height="0.9" fill="#2a4cf2" fill-opacity="0.55"/>
<rect x="265.95" y="160.81" width="0.9" height="0.9" fill="#2a4cf2" fill-opacity="0.55"/>
<rect x="241.49" y="204.31" width="0.8" height="0.8" fill="#fff" fill-opacity="0.45"/>
<rect x="227.75" y="199.80" width="0.8" height="0.8" fill="#fff" fill-opacity="0.45"/>
<rect x="244.67" y="197.70" width="0.8" height="0.8" fill="#fff" fill-opacity="0.45"/>
<rect x="250.10" y="215.14" width="0.8" height="0.8" fill="#fff" fill-opacity="0.45"/>
<rect x="240.58" y="191.88" width="0.8" height="0.8" fill="#fff" fill-opacity="0.45"/>
<rect x="239.36" y="200.80" width="0.8" height="0.8" fill="#fff" fill-opacity="0.45"/>
<rect x="248.50" y="192.56" width="0.8" height="0.8" fill="#fff" fill-opacity="0.45"/>
<rect x="251.67" y="191.15" width="0.8" height="0.8" fill="#fff" fill-opacity="0.45"/>
<rect x="250.35" y="203.69" width="0.8" height="0.8" fill="#fff" fill-opacity="0.45"/>
<rect x="247.56" y="218.64" width="0.8" height="0.8" fill="#fff" fill-opacity="0.45"/>
<rect x="241.98" y="198.57" width="0.8" height="0.8" fill="#fff" fill-opacity="0.45"/>
<rect x="247.66" y="207.46" width="0.8" height="0.8" fill="#fff" fill-opacity="0.45"/>
<rect x="233.72" y="202.38" width="0.8" height="0.8" fill="#fff" fill-opacity="0.45"/>
<rect x="238.30" y="205.45" width="0.8" height="0.8" fill="#fff" fill-opacity="0.45"/>
<rect x="254.52" y="200.45" width="0.8" height="0.8" fill="#fff" fill-opacity="0.45"/>
<rect x="243.18" y="201.58" width="0.8" height="0.8" fill="#fff" fill-opacity="0.45"/>
<rect x="221.30" y="206.66" width="0.8" height="0.8" fill="#fff" fill-opacity="0.45"/>
<rect x="248.31" y="201.42" width="0.8" height="0.8" fill="#fff" fill-opacity="0.45"/>
<rect x="240.96" y="193.69" width="0.8" height="0.8" fill="#fff" fill-opacity="0.45"/>
<rect x="242.62" y="210.48" width="0.8" height="0.8" fill="#fff" fill-opacity="0.45"/>
<rect x="243.21" y="211.64" width="0.8" height="0.8" fill="#fff" fill-opacity="0.45"/>
<rect x="224.25" y="196.03" width="0.8" height="0.8" fill="#fff" fill-opacity="0.45"/>
<rect x="246.11" y="199.88" width="0.8" height="0.8" fill="#fff" fill-opacity="0.45"/>
<rect x="231.25" y="194.26" width="0.8" height="0.8" fill="#fff" fill-opacity="0.45"/>
<rect x="253.60" y="188.84" width="0.8" height="0.8" fill="#fff" fill-opacity="0.45"/>
<rect x="236.39" y="190.52" width="0.8" height="0.8" fill="#fff" fill-opacity="0.45"/>
<rect x="239.76" y="205.55" width="0.8" height="0.8" fill="#fff" fill-opacity="0.45"/>
<rect x="248.56" y="182.46" width="0.8" height="0.8" fill="#fff" fill-opacity="0.45"/>
<rect x="255.21" y="194.88" width="0.8" height="0.8" fill="#fff" fill-opacity="0.45"/>
<rect x="239.48" y="214.41" width="0.8" height="0.8" fill="#fff" fill-opacity="0.45"/>
<rect x="243.37" y="189.29" width="0.8" height="0.8" fill="#fff" fill-opacity="0.45"/>
<rect x="239.09" y="193.72" width="0.8" height="0.8" fill="#fff" fill-opacity="0.45"/>
<rect x="236.25" y="197.12" width="0.8" height="0.8" fill="#fff" fill-opacity="0.45"/>
<rect x="250.74" y="203.03" width="0.8" height="0.8" fill="#fff" fill-opacity="0.45"/>
<rect x="233.40" y="224.08" width="0.8" height="0.8" fill="#fff" fill-opacity="0.45"/>
<rect x="236.40" y="201.00" width="0.8" height="0.8" fill="#fff" fill-opacity="0.45"/>
<rect x="244.24" y="206.58" width="0.8" height="0.8" fill="#fff" fill-opacity="0.45"/>
<rect x="241.48" y="203.94" width="0.8" height="0.8" fill="#fff" fill-opacity="0.45"/>
<rect x="260.17" y="200.83" width="0.8" height="0.8" fill="#fff" fill-opacity="0.45"/>
<rect x="235.69" y="202.84" width="0.8" height="0.8" fill="#fff" fill-opacity="0.45"/>
<rect x="237.83" y="196.80" width="0.8" height="0.8" fill="#fff" fill-opacity="0.45"/>
<rect x="245.45" y="202.91" width="0.8" height="0.8" fill="#fff" fill-opacity="0.45"/>
<rect x="241.82" y="207.33" width="0.8" height="0.8" fill="#fff" fill-opacity="0.45"/>
<rect x="242.52" y="188.73" width="0.8" height="0.8" fill="#fff" fill-opacity="0.45"/>
<rect x="250.74" y="196.85" width="0.8" height="0.8" fill="#fff" fill-opacity="0.45"/>
<rect x="253.32" y="194.34" width="0.8" height="0.8" fill="#fff" fill-opacity="0.45"/>
<rect x="248.40" y="202.72" width="0.8" height="0.8" fill="#fff" fill-opacity="0.45"/>
<rect x="223.29" y="187.10" width="0.8" height="0.8" fill="#fff" fill-opacity="0.45"/>
<rect x="235.40" y="212.15" width="0.8" height="0.8" fill="#fff" fill-opacity="0.45"/>
<rect x="229.50" y="207.89" width="0.8" height="0.8" fill="#fff" fill-opacity="0.45"/>
<rect x="252.39" y="204.28" width="0.8" height="0.8" fill="#fff" fill-opacity="0.45"/>
<rect x="249.18" y="195.72" width="0.8" height="0.8" fill="#fff" fill-opacity="0.45"/>
<rect x="243.92" y="201.94" width="0.8" height="0.8" fill="#fff" fill-opacity="0.45"/>
<rect x="247.23" y="206.11" width="0.8" height="0.8" fill="#fff" fill-opacity="0.45"/>
<rect x="242.41" y="193.94" width="0.8" height="0.8" fill="#fff" fill-opacity="0.45"/>
<rect x="239.68" y="203.55" width="0.8" height="0.8" fill="#fff" fill-opacity="0.45"/>
<rect x="231.24" y="189.17" width="0.8" height="0.8" fill="#fff" fill-opacity="0.45"/>
<rect x="240.84" y="195.22" width="0.8" height="0.8" fill="#fff" fill-opacity="0.45"/>
<rect x="241.92" y="176.99" width="0.8" height="0.8" fill="#fff" fill-opacity="0.45"/>
<rect x="241.38" y="197.83" width="0.8" height="0.8" fill="#fff" fill-opacity="0.45"/>
<rect x="249.96" y="182.90" width="0.8" height="0.8" fill="#fff" fill-opacity="0.45"/>
<rect x="241.65" y="204.10" width="0.8" height="0.8" fill="#fff" fill-opacity="0.45"/>
<rect x="247.76" y="210.34" width="0.8" height="0.8" fill="#fff" fill-opacity="0.45"/>
<rect x="252.11" y="190.93" width="0.8" height="0.8" fill="#fff" fill-opacity="0.45"/>
<rect x="248.89" y="197.10" width="0.8" height="0.8" fill="#fff" fill-opacity="0.45"/>
<rect x="237.83" y="213.26" width="0.8" height="0.8" fill="#fff" fill-opacity="0.45"/>
<rect x="239.16" y="192.61" width="0.8" height="0.8" fill="#fff" fill-opacity="0.45"/>
<rect x="240.86" y="192.63" width="0.8" height="0.8" fill="#fff" fill-opacity="0.45"/>
<rect x="251.74" y="203.29" width="0.8" height="0.8" fill="#fff" fill-opacity="0.45"/>
<rect x="254.77" y="203.56" width="0.8" height="0.8" fill="#fff" fill-opacity="0.45"/>
<g filter="url(#bl)">
<g transform="translate(253.3,171.3) rotate(-58)"><ellipse rx="8.8" ry="5.4" fill="#28b8f0" fill-opacity="0.7"/><ellipse rx="7.8" ry="4.6" fill="#30e040"/><ellipse rx="5.6" ry="3.2" fill="#70f030"/><ellipse rx="3.6" ry="2.1" fill="#e0f018"/><ellipse rx="1.8" ry="1.1" fill="#fce040"/></g>
<g transform="translate(240.8,208.6) rotate(-30)"><ellipse rx="8.6" ry="7.4" fill="#28b8f0" fill-opacity="0.7"/><ellipse rx="7.6" ry="6.5" fill="#30e040"/></g>
<g transform="translate(239.6,209.2)"><ellipse rx="4.4" ry="4.8" fill="#c8f020"/><ellipse rx="3.4" ry="3.9" fill="#f8e818"/><ellipse rx="2.4" ry="3.0" fill="#f04010"/><ellipse rx="1.6" ry="2.2" fill="#e00010"/></g>
<g transform="translate(255.8,208.8)"><ellipse rx="3.6" ry="4.4" fill="#28b8f0" fill-opacity="0.8"/><ellipse rx="2.3" ry="2.8" fill="#30d8b0"/><ellipse rx="1.1" ry="1.4" fill="#70e070"/></g>
<g transform="translate(261.5,198.5)"><ellipse rx="2.2" ry="3" fill="#30a8f0" fill-opacity="0.6"/></g>
<g transform="translate(272.8,208.0)"><ellipse rx="2.3" ry="7.2" fill="#28b8f0" fill-opacity="0.8"/><ellipse rx="1.5" ry="5.0" fill="#30d8a0"/><ellipse rx="0.9" ry="3.0" fill="#80e050"/></g>
</g>
</g>
<ellipse cx="0" cy="0" rx="18.3" ry="12.3" transform="translate(250.0,173.2) rotate(-35)" fill="none" stroke="#222" stroke-width="1.0"/>
<text x="263.50" y="157.40" font-size="7.9" textLength="30.60" lengthAdjust="spacingAndGlyphs">Total M&#981;</text>
<line x1="278.50" y1="170.80" x2="297.50" y2="170.80" stroke="#111" stroke-width="1.2"/>
<path d="M296.3,168.4 L301.2,170.8 L296.3,173.2 Z" fill="#111"/>
<text transform="translate(220.30,183.40) rotate(-90)" x="0" y="0" font-size="8.7" text-anchor="middle" textLength="20.00" lengthAdjust="spacingAndGlyphs">F4/80</text>
<text x="250.90" y="234.50" font-size="7.9" textLength="24.90" lengthAdjust="spacingAndGlyphs">CD11b</text>
<line x1="223.40" y1="213.00" x2="226.40" y2="213.00" stroke="#1a1a1a" stroke-width="0.75"/>
<line x1="224.40" y1="208.52" x2="226.40" y2="208.52" stroke="#1a1a1a" stroke-width="0.75"/>
<line x1="224.40" y1="205.90" x2="226.40" y2="205.90" stroke="#1a1a1a" stroke-width="0.75"/>
<line x1="224.40" y1="204.05" x2="226.40" y2="204.05" stroke="#1a1a1a" stroke-width="0.75"/>
<line x1="224.40" y1="202.60" x2="226.40" y2="202.60" stroke="#1a1a1a" stroke-width="0.75"/>
<line x1="224.40" y1="201.43" x2="226.40" y2="201.43" stroke="#1a1a1a" stroke-width="0.75"/>
<line x1="224.40" y1="200.43" x2="226.40" y2="200.43" stroke="#1a1a1a" stroke-width="0.75"/>
<line x1="224.40" y1="199.57" x2="226.40" y2="199.57" stroke="#1a1a1a" stroke-width="0.75"/>
<line x1="224.40" y1="198.81" x2="226.40" y2="198.81" stroke="#1a1a1a" stroke-width="0.75"/>
<line x1="223.40" y1="198.12" x2="226.40" y2="198.12" stroke="#1a1a1a" stroke-width="0.75"/>
<line x1="224.40" y1="193.65" x2="226.40" y2="193.65" stroke="#1a1a1a" stroke-width="0.75"/>
<line x1="224.40" y1="191.03" x2="226.40" y2="191.03" stroke="#1a1a1a" stroke-width="0.75"/>
<line x1="224.40" y1="189.17" x2="226.40" y2="189.17" stroke="#1a1a1a" stroke-width="0.75"/>
<line x1="224.40" y1="187.73" x2="226.40" y2="187.73" stroke="#1a1a1a" stroke-width="0.75"/>
<line x1="224.40" y1="186.55" x2="226.40" y2="186.55" stroke="#1a1a1a" stroke-width="0.75"/>
<line x1="224.40" y1="185.56" x2="226.40" y2="185.56" stroke="#1a1a1a" stroke-width="0.75"/>
<line x1="224.40" y1="184.69" x2="226.40" y2="184.69" stroke="#1a1a1a" stroke-width="0.75"/>
<line x1="224.40" y1="183.93" x2="226.40" y2="183.93" stroke="#1a1a1a" stroke-width="0.75"/>
<line x1="223.40" y1="183.25" x2="226.40" y2="183.25" stroke="#1a1a1a" stroke-width="0.75"/>
<line x1="224.40" y1="178.77" x2="226.40" y2="178.77" stroke="#1a1a1a" stroke-width="0.75"/>
<line x1="224.40" y1="176.15" x2="226.40" y2="176.15" stroke="#1a1a1a" stroke-width="0.75"/>
<line x1="224.40" y1="174.30" x2="226.40" y2="174.30" stroke="#1a1a1a" stroke-width="0.75"/>
<line x1="224.40" y1="172.85" x2="226.40" y2="172.85" stroke="#1a1a1a" stroke-width="0.75"/>
<line x1="224.40" y1="171.68" x2="226.40" y2="171.68" stroke="#1a1a1a" stroke-width="0.75"/>
<line x1="224.40" y1="170.68" x2="226.40" y2="170.68" stroke="#1a1a1a" stroke-width="0.75"/>
<line x1="224.40" y1="169.82" x2="226.40" y2="169.82" stroke="#1a1a1a" stroke-width="0.75"/>
<line x1="224.40" y1="169.06" x2="226.40" y2="169.06" stroke="#1a1a1a" stroke-width="0.75"/>
<line x1="223.40" y1="168.38" x2="226.40" y2="168.38" stroke="#1a1a1a" stroke-width="0.75"/>
<line x1="224.40" y1="163.90" x2="226.40" y2="163.90" stroke="#1a1a1a" stroke-width="0.75"/>
<line x1="224.40" y1="161.28" x2="226.40" y2="161.28" stroke="#1a1a1a" stroke-width="0.75"/>
<line x1="224.40" y1="159.42" x2="226.40" y2="159.42" stroke="#1a1a1a" stroke-width="0.75"/>
<line x1="224.40" y1="157.98" x2="226.40" y2="157.98" stroke="#1a1a1a" stroke-width="0.75"/>
<line x1="224.40" y1="156.80" x2="226.40" y2="156.80" stroke="#1a1a1a" stroke-width="0.75"/>
<line x1="224.40" y1="155.81" x2="226.40" y2="155.81" stroke="#1a1a1a" stroke-width="0.75"/>
<line x1="224.40" y1="154.94" x2="226.40" y2="154.94" stroke="#1a1a1a" stroke-width="0.75"/>
<line x1="224.40" y1="154.18" x2="226.40" y2="154.18" stroke="#1a1a1a" stroke-width="0.75"/>
<line x1="231.00" y1="219.60" x2="231.00" y2="222.40" stroke="#1a1a1a" stroke-width="0.75"/>
<line x1="235.89" y1="219.60" x2="235.89" y2="221.50" stroke="#1a1a1a" stroke-width="0.75"/>
<line x1="238.75" y1="219.60" x2="238.75" y2="221.50" stroke="#1a1a1a" stroke-width="0.75"/>
<line x1="240.78" y1="219.60" x2="240.78" y2="221.50" stroke="#1a1a1a" stroke-width="0.75"/>
<line x1="242.36" y1="219.60" x2="242.36" y2="221.50" stroke="#1a1a1a" stroke-width="0.75"/>
<line x1="243.64" y1="219.60" x2="243.64" y2="221.50" stroke="#1a1a1a" stroke-width="0.75"/>
<line x1="244.73" y1="219.60" x2="244.73" y2="221.50" stroke="#1a1a1a" stroke-width="0.75"/>
<line x1="245.67" y1="219.60" x2="245.67" y2="221.50" stroke="#1a1a1a" stroke-width="0.75"/>
<line x1="246.50" y1="219.60" x2="246.50" y2="221.50" stroke="#1a1a1a" stroke-width="0.75"/>
<line x1="247.25" y1="219.60" x2="247.25" y2="222.40" stroke="#1a1a1a" stroke-width="0.75"/>
<line x1="252.14" y1="219.60" x2="252.14" y2="221.50" stroke="#1a1a1a" stroke-width="0.75"/>
<line x1="255.00" y1="219.60" x2="255.00" y2="221.50" stroke="#1a1a1a" stroke-width="0.75"/>
<line x1="257.03" y1="219.60" x2="257.03" y2="221.50" stroke="#1a1a1a" stroke-width="0.75"/>
<line x1="258.61" y1="219.60" x2="258.61" y2="221.50" stroke="#1a1a1a" stroke-width="0.75"/>
<line x1="259.89" y1="219.60" x2="259.89" y2="221.50" stroke="#1a1a1a" stroke-width="0.75"/>
<line x1="260.98" y1="219.60" x2="260.98" y2="221.50" stroke="#1a1a1a" stroke-width="0.75"/>
<line x1="261.92" y1="219.60" x2="261.92" y2="221.50" stroke="#1a1a1a" stroke-width="0.75"/>
<line x1="262.75" y1="219.60" x2="262.75" y2="221.50" stroke="#1a1a1a" stroke-width="0.75"/>
<line x1="263.50" y1="219.60" x2="263.50" y2="222.40" stroke="#1a1a1a" stroke-width="0.75"/>
<line x1="268.39" y1="219.60" x2="268.39" y2="221.50" stroke="#1a1a1a" stroke-width="0.75"/>
<line x1="271.25" y1="219.60" x2="271.25" y2="221.50" stroke="#1a1a1a" stroke-width="0.75"/>
<line x1="273.28" y1="219.60" x2="273.28" y2="221.50" stroke="#1a1a1a" stroke-width="0.75"/>
<line x1="274.86" y1="219.60" x2="274.86" y2="221.50" stroke="#1a1a1a" stroke-width="0.75"/>
<line x1="276.14" y1="219.60" x2="276.14" y2="221.50" stroke="#1a1a1a" stroke-width="0.75"/>
<line x1="277.23" y1="219.60" x2="277.23" y2="221.50" stroke="#1a1a1a" stroke-width="0.75"/>
<line x1="278.17" y1="219.60" x2="278.17" y2="221.50" stroke="#1a1a1a" stroke-width="0.75"/>
<line x1="279.00" y1="219.60" x2="279.00" y2="221.50" stroke="#1a1a1a" stroke-width="0.75"/>
<line x1="279.75" y1="219.60" x2="279.75" y2="222.40" stroke="#1a1a1a" stroke-width="0.75"/>
<line x1="284.64" y1="219.60" x2="284.64" y2="221.50" stroke="#1a1a1a" stroke-width="0.75"/>
<line x1="287.50" y1="219.60" x2="287.50" y2="221.50" stroke="#1a1a1a" stroke-width="0.75"/>
<line x1="289.53" y1="219.60" x2="289.53" y2="221.50" stroke="#1a1a1a" stroke-width="0.75"/>
<line x1="291.11" y1="219.60" x2="291.11" y2="221.50" stroke="#1a1a1a" stroke-width="0.75"/>
<line x1="292.39" y1="219.60" x2="292.39" y2="221.50" stroke="#1a1a1a" stroke-width="0.75"/>
<line x1="293.48" y1="219.60" x2="293.48" y2="221.50" stroke="#1a1a1a" stroke-width="0.75"/>
<line x1="294.42" y1="219.60" x2="294.42" y2="221.50" stroke="#1a1a1a" stroke-width="0.75"/>
<line x1="295.25" y1="219.60" x2="295.25" y2="221.50" stroke="#1a1a1a" stroke-width="0.75"/>
<rect x="303.5" y="147.3" width="73.6" height="73.4" fill="#fff" stroke="#111" stroke-width="1.3"/>
<line x1="304.20" y1="197.30" x2="376.60" y2="197.30" stroke="#e0507a" stroke-width="0.8"/>
<path d="M344.20,197.30 L346.00,195.50 L347.50,193.50 L349.00,190.00 L350.30,186.00 L351.30,181.00 L352.20,176.00 L353.00,171.00 L353.80,166.00 L354.60,160.00 L355.40,155.00 L356.20,151.50 L357.20,153.00 L358.00,157.00 L358.80,162.00 L359.60,166.00 L360.40,169.00 L361.20,171.00 L362.00,173.50 L362.60,177.00 L363.40,181.00 L364.30,185.00 L365.20,189.00 L366.00,192.00 L366.80,194.50 L367.60,196.50 L368.50,197.30 Z" fill="#e47ea4" fill-opacity="0.9"/>
<path d="M304.00,220.60 L306.00,220.20 L307.90,219.60 L309.70,215.00 L311.10,209.90 L311.60,198.30 L312.50,206.60 L313.90,197.90 L315.70,196.90 L317.60,197.40 L318.50,201.10 L319.90,203.90 L321.70,207.60 L323.60,205.70 L325.00,210.30 L326.80,208.90 L328.70,213.10 L330.50,211.70 L332.30,214.50 L335.10,216.80 L336.50,214.50 L338.80,213.10 L340.00,212.50 L341.50,211.00 L343.20,207.00 L344.60,202.00 L345.80,197.00 L347.00,192.00 L348.20,187.00 L349.30,183.00 L350.50,179.00 L351.70,176.30 L352.70,177.50 L353.70,181.00 L354.60,185.00 L355.50,189.50 L356.40,194.00 L357.40,199.00 L358.40,203.50 L359.50,208.00 L360.60,212.00 L361.80,216.00 L363.00,219.50 L363.60,220.60 Z" fill="#5a6ef0" fill-opacity="0.62"/>
<path d="M344.20,197.30 L346.00,195.50 L347.50,193.50 L349.00,190.00 L350.30,186.00 L351.30,181.00 L352.20,176.00 L353.00,171.00 L353.80,166.00 L354.60,160.00 L355.40,155.00 L356.20,151.50 L357.20,153.00 L358.00,157.00 L358.80,162.00 L359.60,166.00 L360.40,169.00 L361.20,171.00 L362.00,173.50 L362.60,177.00 L363.40,181.00 L364.30,185.00 L365.20,189.00 L366.00,192.00 L366.80,194.50 L367.60,196.50 L368.50,197.30" fill="none" stroke="#c8102e" stroke-width="1.3" stroke-linejoin="round"/>
<path d="M304.00,220.60 L306.00,220.20 L307.90,219.60 L309.70,215.00 L311.10,209.90 L311.60,198.30 L312.50,206.60 L313.90,197.90 L315.70,196.90 L317.60,197.40 L318.50,201.10 L319.90,203.90 L321.70,207.60 L323.60,205.70 L325.00,210.30 L326.80,208.90 L328.70,213.10 L330.50,211.70 L332.30,214.50 L335.10,216.80 L336.50,214.50 L338.80,213.10 L340.00,212.50 L341.50,211.00 L343.20,207.00 L344.60,202.00 L345.80,197.00 L347.00,192.00 L348.20,187.00 L349.30,183.00 L350.50,179.00 L351.70,176.30 L352.70,177.50 L353.70,181.00 L354.60,185.00 L355.50,189.50 L356.40,194.00 L357.40,199.00 L358.40,203.50 L359.50,208.00 L360.60,212.00 L361.80,216.00 L363.00,219.50 L363.60,220.60" fill="none" stroke="#1a2cf8" stroke-width="1.4" stroke-linejoin="round"/>
<line x1="335.70" y1="147.80" x2="335.70" y2="220.40" stroke="#222" stroke-width="1.15" stroke-dasharray="1.1,0.9"/>
<rect x="303.5" y="147.3" width="73.6" height="73.4" fill="none" stroke="#111" stroke-width="1.3"/>
<line x1="306.00" y1="220.70" x2="306.00" y2="223.50" stroke="#1a1a1a" stroke-width="0.75"/>
<line x1="310.97" y1="220.70" x2="310.97" y2="222.60" stroke="#1a1a1a" stroke-width="0.75"/>
<line x1="313.87" y1="220.70" x2="313.87" y2="222.60" stroke="#1a1a1a" stroke-width="0.75"/>
<line x1="315.93" y1="220.70" x2="315.93" y2="222.60" stroke="#1a1a1a" stroke-width="0.75"/>
<line x1="317.53" y1="220.70" x2="317.53" y2="222.60" stroke="#1a1a1a" stroke-width="0.75"/>
<line x1="318.84" y1="220.70" x2="318.84" y2="222.60" stroke="#1a1a1a" stroke-width="0.75"/>
<line x1="319.94" y1="220.70" x2="319.94" y2="222.60" stroke="#1a1a1a" stroke-width="0.75"/>
<line x1="320.90" y1="220.70" x2="320.90" y2="222.60" stroke="#1a1a1a" stroke-width="0.75"/>
<line x1="321.74" y1="220.70" x2="321.74" y2="222.60" stroke="#1a1a1a" stroke-width="0.75"/>
<line x1="322.50" y1="220.70" x2="322.50" y2="223.50" stroke="#1a1a1a" stroke-width="0.75"/>
<line x1="327.47" y1="220.70" x2="327.47" y2="222.60" stroke="#1a1a1a" stroke-width="0.75"/>
<line x1="330.37" y1="220.70" x2="330.37" y2="222.60" stroke="#1a1a1a" stroke-width="0.75"/>
<line x1="332.43" y1="220.70" x2="332.43" y2="222.60" stroke="#1a1a1a" stroke-width="0.75"/>
<line x1="334.03" y1="220.70" x2="334.03" y2="222.60" stroke="#1a1a1a" stroke-width="0.75"/>
<line x1="335.34" y1="220.70" x2="335.34" y2="222.60" stroke="#1a1a1a" stroke-width="0.75"/>
<line x1="336.44" y1="220.70" x2="336.44" y2="222.60" stroke="#1a1a1a" stroke-width="0.75"/>
<line x1="337.40" y1="220.70" x2="337.40" y2="222.60" stroke="#1a1a1a" stroke-width="0.75"/>
<line x1="338.24" y1="220.70" x2="338.24" y2="222.60" stroke="#1a1a1a" stroke-width="0.75"/>
<line x1="339.00" y1="220.70" x2="339.00" y2="223.50" stroke="#1a1a1a" stroke-width="0.75"/>
<line x1="343.97" y1="220.70" x2="343.97" y2="222.60" stroke="#1a1a1a" stroke-width="0.75"/>
<line x1="346.87" y1="220.70" x2="346.87" y2="222.60" stroke="#1a1a1a" stroke-width="0.75"/>
<line x1="348.93" y1="220.70" x2="348.93" y2="222.60" stroke="#1a1a1a" stroke-width="0.75"/>
<line x1="350.53" y1="220.70" x2="350.53" y2="222.60" stroke="#1a1a1a" stroke-width="0.75"/>
<line x1="351.84" y1="220.70" x2="351.84" y2="222.60" stroke="#1a1a1a" stroke-width="0.75"/>
<line x1="352.94" y1="220.70" x2="352.94" y2="222.60" stroke="#1a1a1a" stroke-width="0.75"/>
<line x1="353.90" y1="220.70" x2="353.90" y2="222.60" stroke="#1a1a1a" stroke-width="0.75"/>
<line x1="354.74" y1="220.70" x2="354.74" y2="222.60" stroke="#1a1a1a" stroke-width="0.75"/>
<line x1="355.50" y1="220.70" x2="355.50" y2="223.50" stroke="#1a1a1a" stroke-width="0.75"/>
<line x1="360.47" y1="220.70" x2="360.47" y2="222.60" stroke="#1a1a1a" stroke-width="0.75"/>
<line x1="363.37" y1="220.70" x2="363.37" y2="222.60" stroke="#1a1a1a" stroke-width="0.75"/>
<line x1="365.43" y1="220.70" x2="365.43" y2="222.60" stroke="#1a1a1a" stroke-width="0.75"/>
<line x1="367.03" y1="220.70" x2="367.03" y2="222.60" stroke="#1a1a1a" stroke-width="0.75"/>
<line x1="368.34" y1="220.70" x2="368.34" y2="222.60" stroke="#1a1a1a" stroke-width="0.75"/>
<line x1="369.44" y1="220.70" x2="369.44" y2="222.60" stroke="#1a1a1a" stroke-width="0.75"/>
<line x1="370.40" y1="220.70" x2="370.40" y2="222.60" stroke="#1a1a1a" stroke-width="0.75"/>
<line x1="371.24" y1="220.70" x2="371.24" y2="222.60" stroke="#1a1a1a" stroke-width="0.75"/>
<text x="306.80" y="155.30" font-size="7.9" textLength="22.70" lengthAdjust="spacingAndGlyphs">Tim-4<tspan font-size="6.8" dy="-3.1">&#8722;</tspan></text>
<text x="306.80" y="165.30" font-size="7.9" textLength="22.40" lengthAdjust="spacingAndGlyphs">MoM&#981;</text>
<text x="340.20" y="155.30" font-size="7.9" textLength="23.10" lengthAdjust="spacingAndGlyphs">Tim-4<tspan font-size="6.8" dy="-3.1">+</tspan></text>
<text x="340.20" y="165.30" font-size="7.9" textLength="10.80" lengthAdjust="spacingAndGlyphs">M&#981;</text>
<text x="330.80" y="234.50" font-size="7.9" textLength="19.20" lengthAdjust="spacingAndGlyphs">Tim-4</text>
<text transform="translate(386.90,168.30) rotate(-90)" x="0" y="0" font-size="8.4" text-anchor="middle" textLength="26.30" lengthAdjust="spacingAndGlyphs">Control</text>
<text transform="translate(396.60,168.50) rotate(-90)" x="0" y="0" font-size="8.4" text-anchor="middle" textLength="16.60" lengthAdjust="spacingAndGlyphs">mice</text>
<text transform="translate(386.90,208.70) rotate(-90)" x="0" y="0" font-size="8.4" text-anchor="middle" textLength="19.80" lengthAdjust="spacingAndGlyphs">Sickle</text>
<text transform="translate(396.60,209.20) rotate(-90)" x="0" y="0" font-size="8.4" text-anchor="middle" textLength="16.10" lengthAdjust="spacingAndGlyphs">mice</text>
<text x="6.6" y="265.4" font-size="11.4" font-weight="bold" fill="#000" stroke="#000" stroke-width="0.45">I</text>
<rect x="12.8" y="274.4" width="76.4" height="77.6" fill="#fff" stroke="#111" stroke-width="1.3"/>
<path d="M13.50,306.40 L14.00,306.39 L14.50,306.39 L15.00,306.38 L15.50,306.36 L16.00,306.34 L16.50,306.32 L17.00,306.28 L17.50,306.22 L18.00,306.15 L18.50,306.07 L19.00,305.96 L19.50,305.84 L20.00,305.70 L20.50,305.55 L21.00,305.40 L21.50,305.25 L22.00,305.12 L22.50,305.02 L23.00,304.94 L23.50,304.90 L24.00,304.91 L24.50,304.95 L25.00,305.03 L25.50,305.15 L26.00,305.28 L26.50,305.43 L27.00,305.58 L27.50,305.73 L28.00,305.86 L28.50,305.98 L29.00,306.08 L29.50,306.17 L30.00,306.23 L30.50,306.29 L31.00,306.32 L31.50,306.35 L32.00,306.37 L32.50,306.38 L33.00,306.39 L33.50,306.39 L34.00,306.40 L34.50,306.40 L35.00,306.40 L35.50,306.40 L36.00,306.40 L36.50,306.40 L37.00,306.40 L37.50,306.40 L38.00,306.40 L38.50,306.40 L39.00,306.40 L39.50,306.40 L40.00,306.40 L40.50,306.40 L41.00,306.40 L41.50,306.40 L42.00,306.40 L42.50,306.40 L43.00,306.40 L43.50,306.40 L44.00,306.40 L44.50,306.40 L45.00,306.40 L45.50,306.40 L46.00,306.40 L46.50,306.40 L47.00,306.40 L47.50,306.40 L48.00,306.40 L48.50,306.40 L49.00,306.40 L49.50,306.40 L50.00,306.39 L50.50,306.39 L51.00,306.37 L51.50,306.34 L52.00,306.29 L52.50,306.20 L53.00,306.06 L53.50,305.85 L54.00,305.57 L54.50,305.21 L55.00,304.79 L55.50,304.31 L56.00,303.77 L56.50,303.15 L57.00,302.38 L57.50,301.34 L58.00,299.88 L58.50,297.84 L59.00,295.13 L59.50,291.78 L60.00,288.00 L60.50,284.17 L61.00,280.78 L61.50,278.36 L62.00,277.32 L62.50,277.86 L63.00,279.92 L63.50,283.17 L64.00,287.14 L64.50,291.30 L65.00,295.22 L65.50,298.58 L66.00,301.23 L66.50,303.17 L67.00,304.49 L67.50,305.34 L68.00,305.84 L68.50,306.12 L69.00,306.27 L69.50,306.34 L70.00,306.38 L70.50,306.39 L71.00,306.40 L71.50,306.40 L72.00,306.40 L72.50,306.40 L73.00,306.40 L73.50,306.40 L74.00,306.40 L74.50,306.40 L75.00,306.40 L75.50,306.40 L76.00,306.40 L76.50,306.40 L77.00,306.40 L77.50,306.40 L78.00,306.40 L78.50,306.40 L79.00,306.40 L79.50,306.40 L80.00,306.40 L80.50,306.40 L81.00,306.40 L81.50,306.40 L82.00,306.40 L82.50,306.40 L83.00,306.40 L83.50,306.40 L84.00,306.40 L84.50,306.40 L85.00,306.40 L85.50,306.40 L86.00,306.40 L86.50,306.40 L87.00,306.40 L87.50,306.40 L88.00,306.40 L88.50,306.40 L88.6,306.4 L13.5,306.4 Z" fill="#f06d96" fill-opacity="0.85"/>
<path d="M13.50,306.40 L14.00,306.39 L14.50,306.39 L15.00,306.38 L15.50,306.36 L16.00,306.34 L16.50,306.32 L17.00,306.28 L17.50,306.22 L18.00,306.15 L18.50,306.07 L19.00,305.96 L19.50,305.84 L20.00,305.70 L20.50,305.55 L21.00,305.40 L21.50,305.25 L22.00,305.12 L22.50,305.02 L23.00,304.94 L23.50,304.90 L24.00,304.91 L24.50,304.95 L25.00,305.03 L25.50,305.15 L26.00,305.28 L26.50,305.43 L27.00,305.58 L27.50,305.73 L28.00,305.86 L28.50,305.98 L29.00,306.08 L29.50,306.17 L30.00,306.23 L30.50,306.29 L31.00,306.32 L31.50,306.35 L32.00,306.37 L32.50,306.38 L33.00,306.39 L33.50,306.39 L34.00,306.40 L34.50,306.40 L35.00,306.40 L35.50,306.40 L36.00,306.40 L36.50,306.40 L37.00,306.40 L37.50,306.40 L38.00,306.40 L38.50,306.40 L39.00,306.40 L39.50,306.40 L40.00,306.40 L40.50,306.40 L41.00,306.40 L41.50,306.40 L42.00,306.40 L42.50,306.40 L43.00,306.40 L43.50,306.40 L44.00,306.40 L44.50,306.40 L45.00,306.40 L45.50,306.40 L46.00,306.40 L46.50,306.40 L47.00,306.40 L47.50,306.40 L48.00,306.40 L48.50,306.40 L49.00,306.40 L49.50,306.40 L50.00,306.39 L50.50,306.39 L51.00,306.37 L51.50,306.34 L52.00,306.29 L52.50,306.20 L53.00,306.06 L53.50,305.85 L54.00,305.57 L54.50,305.21 L55.00,304.79 L55.50,304.31 L56.00,303.77 L56.50,303.15 L57.00,302.38 L57.50,301.34 L58.00,299.88 L58.50,297.84 L59.00,295.13 L59.50,291.78 L60.00,288.00 L60.50,284.17 L61.00,280.78 L61.50,278.36 L62.00,277.32 L62.50,277.86 L63.00,279.92 L63.50,283.17 L64.00,287.14 L64.50,291.30 L65.00,295.22 L65.50,298.58 L66.00,301.23 L66.50,303.17 L67.00,304.49 L67.50,305.34 L68.00,305.84 L68.50,306.12 L69.00,306.27 L69.50,306.34 L70.00,306.38 L70.50,306.39 L71.00,306.40 L71.50,306.40 L72.00,306.40 L72.50,306.40 L73.00,306.40 L73.50,306.40 L74.00,306.40 L74.50,306.40 L75.00,306.40 L75.50,306.40 L76.00,306.40 L76.50,306.40 L77.00,306.40 L77.50,306.40 L78.00,306.40 L78.50,306.40 L79.00,306.40 L79.50,306.40 L80.00,306.40 L80.50,306.40 L81.00,306.40 L81.50,306.40 L82.00,306.40 L82.50,306.40 L83.00,306.40 L83.50,306.40 L84.00,306.40 L84.50,306.40 L85.00,306.40 L85.50,306.40 L86.00,306.40 L86.50,306.40 L87.00,306.40 L87.50,306.40 L88.00,306.40 L88.50,306.40" fill="none" stroke="#f08aa8" stroke-width="0.8"/>
<path d="M19.50,305.84 L20.00,305.70 L20.50,305.55 L21.00,305.40 L21.50,305.25 L22.00,305.12 L22.50,305.02 L23.00,304.94 L23.50,304.90 L24.00,304.91 L24.50,304.95 L25.00,305.03 L25.50,305.15 L26.00,305.28 L26.50,305.43 L27.00,305.58 L27.50,305.73 L28.00,305.86" fill="none" stroke="#e8204c" stroke-width="1.0"/>
<path d="M53.50,305.85 L54.00,305.57 L54.50,305.21 L55.00,304.79 L55.50,304.31 L56.00,303.77 L56.50,303.15 L57.00,302.38 L57.50,301.34 L58.00,299.88 L58.50,297.84 L59.00,295.13 L59.50,291.78 L60.00,288.00 L60.50,284.17 L61.00,280.78 L61.50,278.36 L62.00,277.32 L62.50,277.86 L63.00,279.92 L63.50,283.17 L64.00,287.14 L64.50,291.30 L65.00,295.22 L65.50,298.58 L66.00,301.23 L66.50,303.17 L67.00,304.49 L67.50,305.34 L68.00,305.84" fill="none" stroke="#e8204c" stroke-width="1.0"/>
<path d="M13.50,321.90 L14.00,321.89 L14.50,321.89 L15.00,321.88 L15.50,321.86 L16.00,321.82 L16.50,321.77 L17.00,321.67 L17.50,321.53 L18.00,321.30 L18.50,320.98 L19.00,320.53 L19.50,319.93 L20.00,319.18 L20.50,318.26 L21.00,317.20 L21.50,316.05 L22.00,314.88 L22.50,313.77 L23.00,312.81 L23.50,312.09 L24.00,311.68 L24.50,311.61 L25.00,311.87 L25.50,312.43 L26.00,313.22 L26.50,314.15 L27.00,315.14 L27.50,316.10 L28.00,316.98 L28.50,317.73 L29.00,318.34 L29.50,318.80 L30.00,319.15 L30.50,319.40 L31.00,319.57 L31.50,319.70 L32.00,319.79 L32.50,319.87 L33.00,319.94 L33.50,320.00 L34.00,320.07 L34.50,320.13 L35.00,320.20 L35.50,320.26 L36.00,320.32 L36.50,320.37 L37.00,320.42 L37.50,320.46 L38.00,320.49 L38.50,320.52 L39.00,320.54 L39.50,320.56 L40.00,320.57 L40.50,320.58 L41.00,320.60 L41.50,320.61 L42.00,320.63 L42.50,320.65 L43.00,320.68 L43.50,320.71 L44.00,320.74 L44.50,320.79 L45.00,320.83 L45.50,320.88 L46.00,320.93 L46.50,320.99 L47.00,321.04 L47.50,321.10 L48.00,321.14 L48.50,321.16 L49.00,321.15 L49.50,321.07 L50.00,320.90 L50.50,320.59 L51.00,320.13 L51.50,319.49 L52.00,318.68 L52.50,317.70 L53.00,316.55 L53.50,315.24 L54.00,313.71 L54.50,311.91 L55.00,309.80 L55.50,307.35 L56.00,304.64 L56.50,301.80 L57.00,299.03 L57.50,296.56 L58.00,294.59 L58.50,293.26 L59.00,292.67 L59.50,292.81 L60.00,293.64 L60.50,295.08 L61.00,297.04 L61.50,299.41 L62.00,302.08 L62.50,304.92 L63.00,307.82 L63.50,310.62 L64.00,313.19 L64.50,315.45 L65.00,317.31 L65.50,318.78 L66.00,319.88 L66.50,320.65 L67.00,321.16 L67.50,321.48 L68.00,321.68 L68.50,321.79 L69.00,321.84 L69.50,321.87 L70.00,321.89 L70.50,321.90 L71.00,321.90 L71.50,321.90 L72.00,321.90 L72.50,321.90 L73.00,321.90 L73.50,321.90 L74.00,321.90 L74.50,321.90 L75.00,321.90 L75.50,321.90 L76.00,321.90 L76.50,321.90 L77.00,321.90 L77.50,321.90 L78.00,321.90 L78.50,321.90 L79.00,321.90 L79.50,321.90 L80.00,321.90 L80.50,321.90 L81.00,321.90 L81.50,321.90 L82.00,321.90 L82.50,321.90 L83.00,321.90 L83.50,321.90 L84.00,321.90 L84.50,321.90 L85.00,321.90 L85.50,321.90 L86.00,321.90 L86.50,321.90 L87.00,321.90 L87.50,321.90 L88.00,321.90 L88.50,321.90 L88.6,321.9 L13.5,321.9 Z" fill="#6e7cf0" fill-opacity="0.75"/>
<path d="M13.50,321.90 L14.00,321.89 L14.50,321.89 L15.00,321.88 L15.50,321.86 L16.00,321.82 L16.50,321.77 L17.00,321.67 L17.50,321.53 L18.00,321.30 L18.50,320.98 L19.00,320.53 L19.50,319.93 L20.00,319.18 L20.50,318.26 L21.00,317.20 L21.50,316.05 L22.00,314.88 L22.50,313.77 L23.00,312.81 L23.50,312.09 L24.00,311.68 L24.50,311.61 L25.00,311.87 L25.50,312.43 L26.00,313.22 L26.50,314.15 L27.00,315.14 L27.50,316.10 L28.00,316.98 L28.50,317.73 L29.00,318.34 L29.50,318.80 L30.00,319.15 L30.50,319.40 L31.00,319.57 L31.50,319.70 L32.00,319.79 L32.50,319.87 L33.00,319.94 L33.50,320.00 L34.00,320.07 L34.50,320.13 L35.00,320.20 L35.50,320.26 L36.00,320.32 L36.50,320.37 L37.00,320.42 L37.50,320.46 L38.00,320.49 L38.50,320.52 L39.00,320.54 L39.50,320.56 L40.00,320.57 L40.50,320.58 L41.00,320.60 L41.50,320.61 L42.00,320.63 L42.50,320.65 L43.00,320.68 L43.50,320.71 L44.00,320.74 L44.50,320.79 L45.00,320.83 L45.50,320.88 L46.00,320.93 L46.50,320.99 L47.00,321.04 L47.50,321.10 L48.00,321.14 L48.50,321.16 L49.00,321.15 L49.50,321.07 L50.00,320.90 L50.50,320.59 L51.00,320.13 L51.50,319.49 L52.00,318.68 L52.50,317.70 L53.00,316.55 L53.50,315.24 L54.00,313.71 L54.50,311.91 L55.00,309.80 L55.50,307.35 L56.00,304.64 L56.50,301.80 L57.00,299.03 L57.50,296.56 L58.00,294.59 L58.50,293.26 L59.00,292.67 L59.50,292.81 L60.00,293.64 L60.50,295.08 L61.00,297.04 L61.50,299.41 L62.00,302.08 L62.50,304.92 L63.00,307.82 L63.50,310.62 L64.00,313.19 L64.50,315.45 L65.00,317.31 L65.50,318.78 L66.00,319.88 L66.50,320.65 L67.00,321.16 L67.50,321.48 L68.00,321.68 L68.50,321.79 L69.00,321.84 L69.50,321.87 L70.00,321.89 L70.50,321.90 L71.00,321.90 L71.50,321.90 L72.00,321.90 L72.50,321.90 L73.00,321.90 L73.50,321.90 L74.00,321.90 L74.50,321.90 L75.00,321.90 L75.50,321.90 L76.00,321.90 L76.50,321.90 L77.00,321.90 L77.50,321.90 L78.00,321.90 L78.50,321.90 L79.00,321.90 L79.50,321.90 L80.00,321.90 L80.50,321.90 L81.00,321.90 L81.50,321.90 L82.00,321.90 L82.50,321.90 L83.00,321.90 L83.50,321.90 L84.00,321.90 L84.50,321.90 L85.00,321.90 L85.50,321.90 L86.00,321.90 L86.50,321.90 L87.00,321.90 L87.50,321.90 L88.00,321.90 L88.50,321.90" fill="none" stroke="#a8b0f4" stroke-width="0.8"/>
<path d="M18.00,321.30 L18.50,320.98 L19.00,320.53 L19.50,319.93 L20.00,319.18 L20.50,318.26 L21.00,317.20 L21.50,316.05 L22.00,314.88 L22.50,313.77 L23.00,312.81 L23.50,312.09 L24.00,311.68 L24.50,311.61 L25.00,311.87 L25.50,312.43 L26.00,313.22 L26.50,314.15 L27.00,315.14 L27.50,316.10 L28.00,316.98 L28.50,317.73 L29.00,318.34 L29.50,318.80 L30.00,319.15 L30.50,319.40 L31.00,319.57 L31.50,319.70 L32.00,319.79 L32.50,319.87 L33.00,319.94 L33.50,320.00 L34.00,320.07 L34.50,320.13 L35.00,320.20 L35.50,320.26 L36.00,320.32 L36.50,320.37 L37.00,320.42 L37.50,320.46 L38.00,320.49 L38.50,320.52 L39.00,320.54 L39.50,320.56 L40.00,320.57 L40.50,320.58 L41.00,320.60 L41.50,320.61 L42.00,320.63 L42.50,320.65 L43.00,320.68 L43.50,320.71 L44.00,320.74 L44.50,320.79 L45.00,320.83 L45.50,320.88 L46.00,320.93 L46.50,320.99 L47.00,321.04 L47.50,321.10 L48.00,321.14 L48.50,321.16 L49.00,321.15 L49.50,321.07 L50.00,320.90 L50.50,320.59 L51.00,320.13 L51.50,319.49 L52.00,318.68 L52.50,317.70 L53.00,316.55 L53.50,315.24 L54.00,313.71 L54.50,311.91 L55.00,309.80 L55.50,307.35 L56.00,304.64 L56.50,301.80 L57.00,299.03 L57.50,296.56 L58.00,294.59 L58.50,293.26 L59.00,292.67 L59.50,292.81 L60.00,293.64 L60.50,295.08 L61.00,297.04 L61.50,299.41 L62.00,302.08 L62.50,304.92 L63.00,307.82 L63.50,310.62 L64.00,313.19 L64.50,315.45 L65.00,317.31 L65.50,318.78 L66.00,319.88 L66.50,320.65 L67.00,321.16" fill="none" stroke="#2030f0" stroke-width="1.0"/>
<path d="M13.50,337.20 L14.00,337.20 L14.50,337.19 L15.00,337.19 L15.50,337.18 L16.00,337.17 L16.50,337.14 L17.00,337.11 L17.50,337.06 L18.00,337.00 L18.50,336.90 L19.00,336.79 L19.50,336.64 L20.00,336.47 L20.50,336.27 L21.00,336.05 L21.50,335.82 L22.00,335.60 L22.50,335.40 L23.00,335.24 L23.50,335.13 L24.00,335.07 L24.50,335.07 L25.00,335.13 L25.50,335.23 L26.00,335.38 L26.50,335.54 L27.00,335.71 L27.50,335.88 L28.00,336.03 L28.50,336.16 L29.00,336.26 L29.50,336.35 L30.00,336.42 L30.50,336.47 L31.00,336.51 L31.50,336.55 L32.00,336.58 L32.50,336.62 L33.00,336.66 L33.50,336.70 L34.00,336.74 L34.50,336.79 L35.00,336.84 L35.50,336.88 L36.00,336.93 L36.50,336.97 L37.00,337.01 L37.50,337.04 L38.00,337.07 L38.50,337.10 L39.00,337.12 L39.50,337.14 L40.00,337.15 L40.50,337.16 L41.00,337.17 L41.50,337.18 L42.00,337.19 L42.50,337.19 L43.00,337.19 L43.50,337.20 L44.00,337.20 L44.50,337.20 L45.00,337.20 L45.50,337.20 L46.00,337.20 L46.50,337.20 L47.00,337.20 L47.50,337.20 L48.00,337.19 L48.50,337.19 L49.00,337.17 L49.50,337.15 L50.00,337.10 L50.50,337.02 L51.00,336.88 L51.50,336.68 L52.00,336.38 L52.50,335.96 L53.00,335.40 L53.50,334.70 L54.00,333.85 L54.50,332.84 L55.00,331.66 L55.50,330.29 L56.00,328.69 L56.50,326.81 L57.00,324.62 L57.50,322.10 L58.00,319.33 L58.50,316.44 L59.00,313.63 L59.50,311.18 L60.00,309.36 L60.50,308.41 L61.00,308.49 L61.50,309.62 L62.00,311.70 L62.50,314.53 L63.00,317.82 L63.50,321.28 L64.00,324.63 L64.50,327.67 L65.00,330.25 L65.50,332.33 L66.00,333.92 L66.50,335.08 L67.00,335.88 L67.50,336.41 L68.00,336.75 L68.50,336.95 L69.00,337.07 L69.50,337.13 L70.00,337.17 L70.50,337.18 L71.00,337.19 L71.50,337.20 L72.00,337.20 L72.50,337.20 L73.00,337.20 L73.50,337.20 L74.00,337.20 L74.50,337.20 L75.00,337.20 L75.50,337.20 L76.00,337.20 L76.50,337.20 L77.00,337.20 L77.50,337.20 L78.00,337.20 L78.50,337.20 L79.00,337.20 L79.50,337.20 L80.00,337.20 L80.50,337.20 L81.00,337.20 L81.50,337.20 L82.00,337.20 L82.50,337.20 L83.00,337.20 L83.50,337.20 L84.00,337.20 L84.50,337.20 L85.00,337.20 L85.50,337.20 L86.00,337.20 L86.50,337.20 L87.00,337.20 L87.50,337.20 L88.00,337.20 L88.50,337.20 L88.6,337.2 L13.5,337.2 Z" fill="#c77cf0" fill-opacity="0.75"/>
<path d="M13.50,337.20 L14.00,337.20 L14.50,337.19 L15.00,337.19 L15.50,337.18 L16.00,337.17 L16.50,337.14 L17.00,337.11 L17.50,337.06 L18.00,337.00 L18.50,336.90 L19.00,336.79 L19.50,336.64 L20.00,336.47 L20.50,336.27 L21.00,336.05 L21.50,335.82 L22.00,335.60 L22.50,335.40 L23.00,335.24 L23.50,335.13 L24.00,335.07 L24.50,335.07 L25.00,335.13 L25.50,335.23 L26.00,335.38 L26.50,335.54 L27.00,335.71 L27.50,335.88 L28.00,336.03 L28.50,336.16 L29.00,336.26 L29.50,336.35 L30.00,336.42 L30.50,336.47 L31.00,336.51 L31.50,336.55 L32.00,336.58 L32.50,336.62 L33.00,336.66 L33.50,336.70 L34.00,336.74 L34.50,336.79 L35.00,336.84 L35.50,336.88 L36.00,336.93 L36.50,336.97 L37.00,337.01 L37.50,337.04 L38.00,337.07 L38.50,337.10 L39.00,337.12 L39.50,337.14 L40.00,337.15 L40.50,337.16 L41.00,337.17 L41.50,337.18 L42.00,337.19 L42.50,337.19 L43.00,337.19 L43.50,337.20 L44.00,337.20 L44.50,337.20 L45.00,337.20 L45.50,337.20 L46.00,337.20 L46.50,337.20 L47.00,337.20 L47.50,337.20 L48.00,337.19 L48.50,337.19 L49.00,337.17 L49.50,337.15 L50.00,337.10 L50.50,337.02 L51.00,336.88 L51.50,336.68 L52.00,336.38 L52.50,335.96 L53.00,335.40 L53.50,334.70 L54.00,333.85 L54.50,332.84 L55.00,331.66 L55.50,330.29 L56.00,328.69 L56.50,326.81 L57.00,324.62 L57.50,322.10 L58.00,319.33 L58.50,316.44 L59.00,313.63 L59.50,311.18 L60.00,309.36 L60.50,308.41 L61.00,308.49 L61.50,309.62 L62.00,311.70 L62.50,314.53 L63.00,317.82 L63.50,321.28 L64.00,324.63 L64.50,327.67 L65.00,330.25 L65.50,332.33 L66.00,333.92 L66.50,335.08 L67.00,335.88 L67.50,336.41 L68.00,336.75 L68.50,336.95 L69.00,337.07 L69.50,337.13 L70.00,337.17 L70.50,337.18 L71.00,337.19 L71.50,337.20 L72.00,337.20 L72.50,337.20 L73.00,337.20 L73.50,337.20 L74.00,337.20 L74.50,337.20 L75.00,337.20 L75.50,337.20 L76.00,337.20 L76.50,337.20 L77.00,337.20 L77.50,337.20 L78.00,337.20 L78.50,337.20 L79.00,337.20 L79.50,337.20 L80.00,337.20 L80.50,337.20 L81.00,337.20 L81.50,337.20 L82.00,337.20 L82.50,337.20 L83.00,337.20 L83.50,337.20 L84.00,337.20 L84.50,337.20 L85.00,337.20 L85.50,337.20 L86.00,337.20 L86.50,337.20 L87.00,337.20 L87.50,337.20 L88.00,337.20 L88.50,337.20" fill="none" stroke="#dcb0f4" stroke-width="0.8"/>
<path d="M19.50,336.64 L20.00,336.47 L20.50,336.27 L21.00,336.05 L21.50,335.82 L22.00,335.60 L22.50,335.40 L23.00,335.24 L23.50,335.13 L24.00,335.07 L24.50,335.07 L25.00,335.13 L25.50,335.23 L26.00,335.38 L26.50,335.54 L27.00,335.71 L27.50,335.88 L28.00,336.03 L28.50,336.16 L29.00,336.26 L29.50,336.35 L30.00,336.42 L30.50,336.47 L31.00,336.51 L31.50,336.55 L32.00,336.58 L32.50,336.62 L33.00,336.66" fill="none" stroke="#9a1ed8" stroke-width="1.0"/>
<path d="M51.50,336.68 L52.00,336.38 L52.50,335.96 L53.00,335.40 L53.50,334.70 L54.00,333.85 L54.50,332.84 L55.00,331.66 L55.50,330.29 L56.00,328.69 L56.50,326.81 L57.00,324.62 L57.50,322.10 L58.00,319.33 L58.50,316.44 L59.00,313.63 L59.50,311.18 L60.00,309.36 L60.50,308.41 L61.00,308.49 L61.50,309.62 L62.00,311.70 L62.50,314.53 L63.00,317.82 L63.50,321.28 L64.00,324.63 L64.50,327.67 L65.00,330.25 L65.50,332.33 L66.00,333.92 L66.50,335.08 L67.00,335.88 L67.50,336.41" fill="none" stroke="#9a1ed8" stroke-width="1.0"/>
<path d="M13.50,351.40 L14.00,351.40 L14.50,351.40 L15.00,351.40 L15.50,351.40 L16.00,351.40 L16.50,351.40 L17.00,351.40 L17.50,351.40 L18.00,351.40 L18.50,351.40 L19.00,351.40 L19.50,351.40 L20.00,351.40 L20.50,351.40 L21.00,351.40 L21.50,351.40 L22.00,351.40 L22.50,351.40 L23.00,351.40 L23.50,351.40 L24.00,351.40 L24.50,351.40 L25.00,351.40 L25.50,351.40 L26.00,351.40 L26.50,351.40 L27.00,351.40 L27.50,351.40 L28.00,351.40 L28.50,351.40 L29.00,351.40 L29.50,351.40 L30.00,351.40 L30.50,351.40 L31.00,351.40 L31.50,351.40 L32.00,351.40 L32.50,351.40 L33.00,351.40 L33.50,351.40 L34.00,351.40 L34.50,351.40 L35.00,351.40 L35.50,351.40 L36.00,351.40 L36.50,351.40 L37.00,351.40 L37.50,351.40 L38.00,351.40 L38.50,351.40 L39.00,351.40 L39.50,351.40 L40.00,351.40 L40.50,351.40 L41.00,351.40 L41.50,351.40 L42.00,351.40 L42.50,351.40 L43.00,351.40 L43.50,351.40 L44.00,351.40 L44.50,351.40 L45.00,351.40 L45.50,351.40 L46.00,351.40 L46.50,351.40 L47.00,351.40 L47.50,351.40 L48.00,351.40 L48.50,351.40 L49.00,351.40 L49.50,351.39 L50.00,351.39 L50.50,351.38 L51.00,351.36 L51.50,351.32 L52.00,351.25 L52.50,351.15 L53.00,350.98 L53.50,350.72 L54.00,350.33 L54.50,349.76 L55.00,348.97 L55.50,347.89 L56.00,346.49 L56.50,344.73 L57.00,342.61 L57.50,340.15 L58.00,337.42 L58.50,334.54 L59.00,331.66 L59.50,328.97 L60.00,326.66 L60.50,324.91 L61.00,323.86 L61.50,323.62 L62.00,324.19 L62.50,325.53 L63.00,327.52 L63.50,330.01 L64.00,332.80 L64.50,335.70 L65.00,338.53 L65.50,341.17 L66.00,343.50 L66.50,345.48 L67.00,347.09 L67.50,348.36 L68.00,349.31 L68.50,350.01 L69.00,350.50 L69.50,350.84 L70.00,351.06 L70.50,351.20 L71.00,351.28 L71.50,351.34 L72.00,351.37 L72.50,351.38 L73.00,351.39 L73.50,351.40 L74.00,351.40 L74.50,351.40 L75.00,351.40 L75.50,351.40 L76.00,351.40 L76.50,351.40 L77.00,351.40 L77.50,351.40 L78.00,351.40 L78.50,351.40 L79.00,351.40 L79.50,351.40 L80.00,351.40 L80.50,351.40 L81.00,351.40 L81.50,351.40 L82.00,351.40 L82.50,351.40 L83.00,351.40 L83.50,351.40 L84.00,351.40 L84.50,351.40 L85.00,351.40 L85.50,351.40 L86.00,351.40 L86.50,351.40 L87.00,351.40 L87.50,351.40 L88.00,351.40 L88.50,351.40 L88.6,351.4 L13.5,351.4 Z" fill="#6be860" fill-opacity="0.9"/>
<path d="M13.50,351.40 L14.00,351.40 L14.50,351.40 L15.00,351.40 L15.50,351.40 L16.00,351.40 L16.50,351.40 L17.00,351.40 L17.50,351.40 L18.00,351.40 L18.50,351.40 L19.00,351.40 L19.50,351.40 L20.00,351.40 L20.50,351.40 L21.00,351.40 L21.50,351.40 L22.00,351.40 L22.50,351.40 L23.00,351.40 L23.50,351.40 L24.00,351.40 L24.50,351.40 L25.00,351.40 L25.50,351.40 L26.00,351.40 L26.50,351.40 L27.00,351.40 L27.50,351.40 L28.00,351.40 L28.50,351.40 L29.00,351.40 L29.50,351.40 L30.00,351.40 L30.50,351.40 L31.00,351.40 L31.50,351.40 L32.00,351.40 L32.50,351.40 L33.00,351.40 L33.50,351.40 L34.00,351.40 L34.50,351.40 L35.00,351.40 L35.50,351.40 L36.00,351.40 L36.50,351.40 L37.00,351.40 L37.50,351.40 L38.00,351.40 L38.50,351.40 L39.00,351.40 L39.50,351.40 L40.00,351.40 L40.50,351.40 L41.00,351.40 L41.50,351.40 L42.00,351.40 L42.50,351.40 L43.00,351.40 L43.50,351.40 L44.00,351.40 L44.50,351.40 L45.00,351.40 L45.50,351.40 L46.00,351.40 L46.50,351.40 L47.00,351.40 L47.50,351.40 L48.00,351.40 L48.50,351.40 L49.00,351.40 L49.50,351.39 L50.00,351.39 L50.50,351.38 L51.00,351.36 L51.50,351.32 L52.00,351.25 L52.50,351.15 L53.00,350.98 L53.50,350.72 L54.00,350.33 L54.50,349.76 L55.00,348.97 L55.50,347.89 L56.00,346.49 L56.50,344.73 L57.00,342.61 L57.50,340.15 L58.00,337.42 L58.50,334.54 L59.00,331.66 L59.50,328.97 L60.00,326.66 L60.50,324.91 L61.00,323.86 L61.50,323.62 L62.00,324.19 L62.50,325.53 L63.00,327.52 L63.50,330.01 L64.00,332.80 L64.50,335.70 L65.00,338.53 L65.50,341.17 L66.00,343.50 L66.50,345.48 L67.00,347.09 L67.50,348.36 L68.00,349.31 L68.50,350.01 L69.00,350.50 L69.50,350.84 L70.00,351.06 L70.50,351.20 L71.00,351.28 L71.50,351.34 L72.00,351.37 L72.50,351.38 L73.00,351.39 L73.50,351.40 L74.00,351.40 L74.50,351.40 L75.00,351.40 L75.50,351.40 L76.00,351.40 L76.50,351.40 L77.00,351.40 L77.50,351.40 L78.00,351.40 L78.50,351.40 L79.00,351.40 L79.50,351.40 L80.00,351.40 L80.50,351.40 L81.00,351.40 L81.50,351.40 L82.00,351.40 L82.50,351.40 L83.00,351.40 L83.50,351.40 L84.00,351.40 L84.50,351.40 L85.00,351.40 L85.50,351.40 L86.00,351.40 L86.50,351.40 L87.00,351.40 L87.50,351.40 L88.00,351.40 L88.50,351.40" fill="none" stroke="#a0e8a0" stroke-width="0.8"/>
<path d="M53.50,350.72 L54.00,350.33 L54.50,349.76 L55.00,348.97 L55.50,347.89 L56.00,346.49 L56.50,344.73 L57.00,342.61 L57.50,340.15 L58.00,337.42 L58.50,334.54 L59.00,331.66 L59.50,328.97 L60.00,326.66 L60.50,324.91 L61.00,323.86 L61.50,323.62 L62.00,324.19 L62.50,325.53 L63.00,327.52 L63.50,330.01 L64.00,332.80 L64.50,335.70 L65.00,338.53 L65.50,341.17 L66.00,343.50 L66.50,345.48 L67.00,347.09 L67.50,348.36 L68.00,349.31 L68.50,350.01 L69.00,350.50 L69.50,350.84" fill="none" stroke="#2cc02c" stroke-width="1.0"/>
<line x1="44.90" y1="275.00" x2="44.90" y2="351.80" stroke="#222" stroke-width="1.15" stroke-dasharray="1.1,0.9"/>
<rect x="12.8" y="274.4" width="76.4" height="77.6" fill="none" stroke="#111" stroke-width="1.3"/>
<line x1="16.00" y1="352.20" x2="16.00" y2="355.00" stroke="#1a1a1a" stroke-width="0.75"/>
<line x1="21.27" y1="352.20" x2="21.27" y2="354.10" stroke="#1a1a1a" stroke-width="0.75"/>
<line x1="24.35" y1="352.20" x2="24.35" y2="354.10" stroke="#1a1a1a" stroke-width="0.75"/>
<line x1="26.54" y1="352.20" x2="26.54" y2="354.10" stroke="#1a1a1a" stroke-width="0.75"/>
<line x1="28.23" y1="352.20" x2="28.23" y2="354.10" stroke="#1a1a1a" stroke-width="0.75"/>
<line x1="29.62" y1="352.20" x2="29.62" y2="354.10" stroke="#1a1a1a" stroke-width="0.75"/>
<line x1="30.79" y1="352.20" x2="30.79" y2="354.10" stroke="#1a1a1a" stroke-width="0.75"/>
<line x1="31.80" y1="352.20" x2="31.80" y2="354.10" stroke="#1a1a1a" stroke-width="0.75"/>
<line x1="32.70" y1="352.20" x2="32.70" y2="354.10" stroke="#1a1a1a" stroke-width="0.75"/>
<line x1="33.50" y1="352.20" x2="33.50" y2="355.00" stroke="#1a1a1a" stroke-width="0.75"/>
<line x1="38.77" y1="352.20" x2="38.77" y2="354.10" stroke="#1a1a1a" stroke-width="0.75"/>
<line x1="41.85" y1="352.20" x2="41.85" y2="354.10" stroke="#1a1a1a" stroke-width="0.75"/>
<line x1="44.03" y1="352.20" x2="44.03" y2="354.10" stroke="#1a1a1a" stroke-width="0.75"/>
<line x1="45.73" y1="352.20" x2="45.73" y2="354.10" stroke="#1a1a1a" stroke-width="0.75"/>
<line x1="47.12" y1="352.20" x2="47.12" y2="354.10" stroke="#1a1a1a" stroke-width="0.75"/>
<line x1="48.29" y1="352.20" x2="48.29" y2="354.10" stroke="#1a1a1a" stroke-width="0.75"/>
<line x1="49.30" y1="352.20" x2="49.30" y2="354.10" stroke="#1a1a1a" stroke-width="0.75"/>
<line x1="50.20" y1="352.20" x2="50.20" y2="354.10" stroke="#1a1a1a" stroke-width="0.75"/>
<line x1="51.00" y1="352.20" x2="51.00" y2="355.00" stroke="#1a1a1a" stroke-width="0.75"/>
<line x1="56.27" y1="352.20" x2="56.27" y2="354.10" stroke="#1a1a1a" stroke-width="0.75"/>
<line x1="59.35" y1="352.20" x2="59.35" y2="354.10" stroke="#1a1a1a" stroke-width="0.75"/>
<line x1="61.53" y1="352.20" x2="61.53" y2="354.10" stroke="#1a1a1a" stroke-width="0.75"/>
<line x1="63.23" y1="352.20" x2="63.23" y2="354.10" stroke="#1a1a1a" stroke-width="0.75"/>
<line x1="64.62" y1="352.20" x2="64.62" y2="354.10" stroke="#1a1a1a" stroke-width="0.75"/>
<line x1="65.79" y1="352.20" x2="65.79" y2="354.10" stroke="#1a1a1a" stroke-width="0.75"/>
<line x1="66.80" y1="352.20" x2="66.80" y2="354.10" stroke="#1a1a1a" stroke-width="0.75"/>
<line x1="67.69" y1="352.20" x2="67.69" y2="354.10" stroke="#1a1a1a" stroke-width="0.75"/>
<line x1="68.50" y1="352.20" x2="68.50" y2="355.00" stroke="#1a1a1a" stroke-width="0.75"/>
<line x1="73.77" y1="352.20" x2="73.77" y2="354.10" stroke="#1a1a1a" stroke-width="0.75"/>
<line x1="76.85" y1="352.20" x2="76.85" y2="354.10" stroke="#1a1a1a" stroke-width="0.75"/>
<line x1="79.03" y1="352.20" x2="79.03" y2="354.10" stroke="#1a1a1a" stroke-width="0.75"/>
<line x1="80.73" y1="352.20" x2="80.73" y2="354.10" stroke="#1a1a1a" stroke-width="0.75"/>
<line x1="82.11" y1="352.20" x2="82.11" y2="354.10" stroke="#1a1a1a" stroke-width="0.75"/>
<line x1="83.29" y1="352.20" x2="83.29" y2="354.10" stroke="#1a1a1a" stroke-width="0.75"/>
<line x1="84.30" y1="352.20" x2="84.30" y2="354.10" stroke="#1a1a1a" stroke-width="0.75"/>
<line x1="85.19" y1="352.20" x2="85.19" y2="354.10" stroke="#1a1a1a" stroke-width="0.75"/>
<text x="17.80" y="283.30" font-size="7.9" textLength="23.00" lengthAdjust="spacingAndGlyphs">Tim-4<tspan font-size="6.8" dy="-3.1">&#8722;</tspan></text>
<text x="17.80" y="293.00" font-size="7.9" textLength="23.00" lengthAdjust="spacingAndGlyphs">MoM&#981;</text>
<text x="41.20" y="365.20" font-size="7.9" textLength="20.30" lengthAdjust="spacingAndGlyphs">Tim-4</text>
<text x="93.30" y="292.90" font-size="7.9" textLength="62.80" lengthAdjust="spacingAndGlyphs">Control + WT mice</text>
<text x="93.30" y="316.80" font-size="7.9" textLength="59.90" lengthAdjust="spacingAndGlyphs">Hemin + WT mice</text>
<text x="93.30" y="332.40" font-size="7.9" textLength="73.70" lengthAdjust="spacingAndGlyphs">Hemin + Ifnar1<tspan font-size="6.0" dy="-3.0">-/-</tspan><tspan dy="3.0"> mice</tspan></text>
<text x="93.30" y="346.80" font-size="7.9" textLength="70.70" lengthAdjust="spacingAndGlyphs">Hemin + Ccr2<tspan font-size="6.0" dy="-3.0">-/-</tspan><tspan dy="3.0"> mice</tspan></text>
</g>
<rect x="0" y="0" width="520" height="1.3" fill="#000"/><rect x="0" y="0" width="1.6" height="379" fill="#000"/><rect x="518.5" y="0" width="1.5" height="379" fill="#000"/><rect x="0" y="377.3" width="520" height="1.7" fill="#000"/>
</svg>
</body></html>
